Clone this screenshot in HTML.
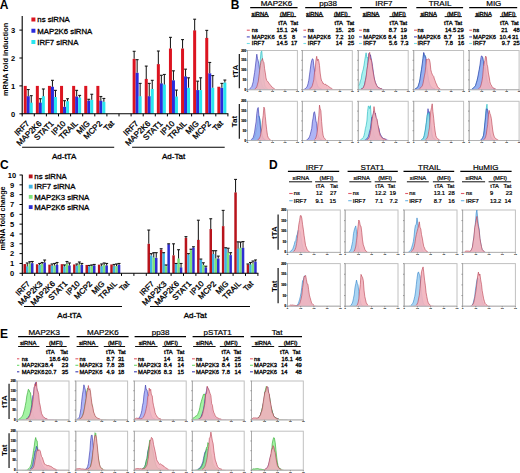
<!DOCTYPE html>
<html><head><meta charset="utf-8"><style>
html,body{margin:0;padding:0;background:#fff;}
body{width:520px;height:473px;overflow:hidden;}
svg{display:block;font-family:"Liberation Sans", sans-serif;}
</style></head><body>
<svg width="520" height="473" viewBox="0 0 520 473">
<rect width="520" height="473" fill="#fff"/>
<rect x="23.75" y="85.9" width="3" height="27.9" fill="#dc1420"/>
<rect x="26.75" y="96.22" width="3" height="17.58" fill="#2b2bdc"/>
<rect x="29.75" y="102.64" width="3" height="11.16" fill="#2ae6ef"/>
<rect x="35.85" y="85.9" width="3" height="27.9" fill="#dc1420"/>
<rect x="38.85" y="102.64" width="3" height="11.16" fill="#2b2bdc"/>
<rect x="41.85" y="96.22" width="3" height="17.58" fill="#2ae6ef"/>
<rect x="47.95" y="85.9" width="3" height="27.9" fill="#dc1420"/>
<rect x="50.95" y="86.74" width="3" height="27.06" fill="#2b2bdc"/>
<rect x="53.95" y="97.06" width="3" height="16.74" fill="#2ae6ef"/>
<rect x="60.05" y="85.9" width="3" height="27.9" fill="#dc1420"/>
<rect x="63.05" y="106.83" width="3" height="6.97" fill="#2b2bdc"/>
<rect x="66.05" y="101.25" width="3" height="12.55" fill="#2ae6ef"/>
<rect x="72.15" y="85.9" width="3" height="27.9" fill="#dc1420"/>
<rect x="75.15" y="96.5" width="3" height="17.3" fill="#2b2bdc"/>
<rect x="78.15" y="97.62" width="3" height="16.18" fill="#2ae6ef"/>
<rect x="84.25" y="85.9" width="3" height="27.9" fill="#dc1420"/>
<rect x="87.25" y="100.69" width="3" height="13.11" fill="#2b2bdc"/>
<rect x="90.25" y="99.85" width="3" height="13.95" fill="#2ae6ef"/>
<rect x="96.35" y="85.9" width="3" height="27.9" fill="#dc1420"/>
<rect x="99.35" y="100.69" width="3" height="13.11" fill="#2b2bdc"/>
<rect x="102.35" y="101.8" width="3" height="12" fill="#2ae6ef"/>
<rect x="132.65" y="58.84" width="3" height="54.96" fill="#dc1420"/>
<rect x="135.65" y="72.79" width="3" height="41.01" fill="#2b2bdc"/>
<rect x="138.65" y="96.22" width="3" height="17.58" fill="#2ae6ef"/>
<rect x="144.75" y="78.92" width="3" height="34.88" fill="#dc1420"/>
<rect x="147.75" y="96.22" width="3" height="17.58" fill="#2b2bdc"/>
<rect x="150.75" y="88.97" width="3" height="24.83" fill="#2ae6ef"/>
<rect x="156.85" y="64.14" width="3" height="49.66" fill="#dc1420"/>
<rect x="159.85" y="83.39" width="3" height="30.41" fill="#2b2bdc"/>
<rect x="162.85" y="84.5" width="3" height="29.29" fill="#2ae6ef"/>
<rect x="168.95" y="48.51" width="3" height="65.29" fill="#dc1420"/>
<rect x="171.95" y="80.32" width="3" height="33.48" fill="#2b2bdc"/>
<rect x="174.95" y="96.5" width="3" height="17.3" fill="#2ae6ef"/>
<rect x="181.05" y="48.51" width="3" height="65.29" fill="#dc1420"/>
<rect x="184.05" y="76.41" width="3" height="37.39" fill="#2b2bdc"/>
<rect x="187.05" y="87.85" width="3" height="25.95" fill="#2ae6ef"/>
<rect x="193.15" y="30.38" width="3" height="83.42" fill="#dc1420"/>
<rect x="196.15" y="90.08" width="3" height="23.71" fill="#2b2bdc"/>
<rect x="199.15" y="90.08" width="3" height="23.71" fill="#2ae6ef"/>
<rect x="205.25" y="37.91" width="3" height="75.89" fill="#dc1420"/>
<rect x="208.25" y="73.34" width="3" height="40.45" fill="#2b2bdc"/>
<rect x="211.25" y="87.85" width="3" height="25.95" fill="#2ae6ef"/>
<rect x="217.35" y="86.74" width="3" height="27.06" fill="#dc1420"/>
<rect x="220.35" y="87.85" width="3" height="25.95" fill="#2b2bdc"/>
<rect x="223.35" y="82.55" width="3" height="31.25" fill="#2ae6ef"/>
<line x1="28.25" y1="96.22" x2="28.25" y2="89.53" stroke="#1a1a1a" stroke-width="1.05"/>
<line x1="26.8" y1="89.53" x2="29.7" y2="89.53" stroke="#1a1a1a" stroke-width="1.1"/>
<line x1="31.25" y1="102.64" x2="31.25" y2="95.66" stroke="#1a1a1a" stroke-width="1.05"/>
<line x1="29.8" y1="95.66" x2="32.7" y2="95.66" stroke="#1a1a1a" stroke-width="1.1"/>
<line x1="40.35" y1="102.64" x2="40.35" y2="98.73" stroke="#1a1a1a" stroke-width="1.05"/>
<line x1="38.9" y1="98.73" x2="41.8" y2="98.73" stroke="#1a1a1a" stroke-width="1.1"/>
<line x1="43.35" y1="96.22" x2="43.35" y2="88.97" stroke="#1a1a1a" stroke-width="1.05"/>
<line x1="41.9" y1="88.97" x2="44.8" y2="88.97" stroke="#1a1a1a" stroke-width="1.1"/>
<line x1="52.45" y1="86.74" x2="52.45" y2="80.32" stroke="#1a1a1a" stroke-width="1.05"/>
<line x1="51" y1="80.32" x2="53.9" y2="80.32" stroke="#1a1a1a" stroke-width="1.1"/>
<line x1="55.45" y1="97.06" x2="55.45" y2="90.36" stroke="#1a1a1a" stroke-width="1.05"/>
<line x1="54" y1="90.36" x2="56.9" y2="90.36" stroke="#1a1a1a" stroke-width="1.1"/>
<line x1="64.55" y1="106.83" x2="64.55" y2="100.69" stroke="#1a1a1a" stroke-width="1.05"/>
<line x1="63.1" y1="100.69" x2="66" y2="100.69" stroke="#1a1a1a" stroke-width="1.1"/>
<line x1="67.55" y1="101.25" x2="67.55" y2="98.73" stroke="#1a1a1a" stroke-width="1.05"/>
<line x1="66.1" y1="98.73" x2="69" y2="98.73" stroke="#1a1a1a" stroke-width="1.1"/>
<line x1="76.65" y1="96.5" x2="76.65" y2="90.36" stroke="#1a1a1a" stroke-width="1.05"/>
<line x1="75.2" y1="90.36" x2="78.1" y2="90.36" stroke="#1a1a1a" stroke-width="1.1"/>
<line x1="79.65" y1="97.62" x2="79.65" y2="95.39" stroke="#1a1a1a" stroke-width="1.05"/>
<line x1="78.2" y1="95.39" x2="81.1" y2="95.39" stroke="#1a1a1a" stroke-width="1.1"/>
<line x1="88.75" y1="100.69" x2="88.75" y2="99.29" stroke="#1a1a1a" stroke-width="1.05"/>
<line x1="87.3" y1="99.29" x2="90.2" y2="99.29" stroke="#1a1a1a" stroke-width="1.1"/>
<line x1="91.75" y1="99.85" x2="91.75" y2="94.27" stroke="#1a1a1a" stroke-width="1.05"/>
<line x1="90.3" y1="94.27" x2="93.2" y2="94.27" stroke="#1a1a1a" stroke-width="1.1"/>
<line x1="100.85" y1="100.69" x2="100.85" y2="96.5" stroke="#1a1a1a" stroke-width="1.05"/>
<line x1="99.4" y1="96.5" x2="102.3" y2="96.5" stroke="#1a1a1a" stroke-width="1.1"/>
<line x1="103.85" y1="101.8" x2="103.85" y2="98.45" stroke="#1a1a1a" stroke-width="1.05"/>
<line x1="102.4" y1="98.45" x2="105.3" y2="98.45" stroke="#1a1a1a" stroke-width="1.1"/>
<line x1="134.15" y1="58.84" x2="134.15" y2="51.3" stroke="#1a1a1a" stroke-width="1.05"/>
<line x1="132.7" y1="51.3" x2="135.6" y2="51.3" stroke="#1a1a1a" stroke-width="1.1"/>
<line x1="137.15" y1="72.79" x2="137.15" y2="59.67" stroke="#1a1a1a" stroke-width="1.05"/>
<line x1="135.7" y1="59.67" x2="138.6" y2="59.67" stroke="#1a1a1a" stroke-width="1.1"/>
<line x1="140.15" y1="96.22" x2="140.15" y2="83.39" stroke="#1a1a1a" stroke-width="1.05"/>
<line x1="138.7" y1="83.39" x2="141.6" y2="83.39" stroke="#1a1a1a" stroke-width="1.1"/>
<line x1="146.25" y1="78.92" x2="146.25" y2="66.09" stroke="#1a1a1a" stroke-width="1.05"/>
<line x1="144.8" y1="66.09" x2="147.7" y2="66.09" stroke="#1a1a1a" stroke-width="1.1"/>
<line x1="149.25" y1="96.22" x2="149.25" y2="83.39" stroke="#1a1a1a" stroke-width="1.05"/>
<line x1="147.8" y1="83.39" x2="150.7" y2="83.39" stroke="#1a1a1a" stroke-width="1.1"/>
<line x1="152.25" y1="88.97" x2="152.25" y2="80.32" stroke="#1a1a1a" stroke-width="1.05"/>
<line x1="150.8" y1="80.32" x2="153.7" y2="80.32" stroke="#1a1a1a" stroke-width="1.1"/>
<line x1="158.35" y1="64.14" x2="158.35" y2="51.02" stroke="#1a1a1a" stroke-width="1.05"/>
<line x1="156.9" y1="51.02" x2="159.8" y2="51.02" stroke="#1a1a1a" stroke-width="1.1"/>
<line x1="161.35" y1="83.39" x2="161.35" y2="75.3" stroke="#1a1a1a" stroke-width="1.05"/>
<line x1="159.9" y1="75.3" x2="162.8" y2="75.3" stroke="#1a1a1a" stroke-width="1.1"/>
<line x1="164.35" y1="84.5" x2="164.35" y2="74.46" stroke="#1a1a1a" stroke-width="1.05"/>
<line x1="162.9" y1="74.46" x2="165.8" y2="74.46" stroke="#1a1a1a" stroke-width="1.1"/>
<line x1="170.45" y1="48.51" x2="170.45" y2="37.35" stroke="#1a1a1a" stroke-width="1.05"/>
<line x1="169" y1="37.35" x2="171.9" y2="37.35" stroke="#1a1a1a" stroke-width="1.1"/>
<line x1="173.45" y1="80.32" x2="173.45" y2="70.83" stroke="#1a1a1a" stroke-width="1.05"/>
<line x1="172" y1="70.83" x2="174.9" y2="70.83" stroke="#1a1a1a" stroke-width="1.1"/>
<line x1="176.45" y1="96.5" x2="176.45" y2="90.08" stroke="#1a1a1a" stroke-width="1.05"/>
<line x1="175" y1="90.08" x2="177.9" y2="90.08" stroke="#1a1a1a" stroke-width="1.1"/>
<line x1="182.55" y1="48.51" x2="182.55" y2="39.59" stroke="#1a1a1a" stroke-width="1.05"/>
<line x1="181.1" y1="39.59" x2="184" y2="39.59" stroke="#1a1a1a" stroke-width="1.1"/>
<line x1="185.55" y1="76.41" x2="185.55" y2="69.16" stroke="#1a1a1a" stroke-width="1.05"/>
<line x1="184.1" y1="69.16" x2="187" y2="69.16" stroke="#1a1a1a" stroke-width="1.1"/>
<line x1="188.55" y1="87.85" x2="188.55" y2="77.81" stroke="#1a1a1a" stroke-width="1.05"/>
<line x1="187.1" y1="77.81" x2="190" y2="77.81" stroke="#1a1a1a" stroke-width="1.1"/>
<line x1="194.65" y1="30.38" x2="194.65" y2="19.22" stroke="#1a1a1a" stroke-width="1.05"/>
<line x1="193.2" y1="19.22" x2="196.1" y2="19.22" stroke="#1a1a1a" stroke-width="1.1"/>
<line x1="197.65" y1="90.08" x2="197.65" y2="81.16" stroke="#1a1a1a" stroke-width="1.05"/>
<line x1="196.2" y1="81.16" x2="199.1" y2="81.16" stroke="#1a1a1a" stroke-width="1.1"/>
<line x1="200.65" y1="90.08" x2="200.65" y2="77.81" stroke="#1a1a1a" stroke-width="1.05"/>
<line x1="199.2" y1="77.81" x2="202.1" y2="77.81" stroke="#1a1a1a" stroke-width="1.1"/>
<line x1="206.75" y1="37.91" x2="206.75" y2="30.38" stroke="#1a1a1a" stroke-width="1.05"/>
<line x1="205.3" y1="30.38" x2="208.2" y2="30.38" stroke="#1a1a1a" stroke-width="1.1"/>
<line x1="209.75" y1="73.34" x2="209.75" y2="62.46" stroke="#1a1a1a" stroke-width="1.05"/>
<line x1="208.3" y1="62.46" x2="211.2" y2="62.46" stroke="#1a1a1a" stroke-width="1.1"/>
<line x1="212.75" y1="87.85" x2="212.75" y2="75.58" stroke="#1a1a1a" stroke-width="1.05"/>
<line x1="211.3" y1="75.58" x2="214.2" y2="75.58" stroke="#1a1a1a" stroke-width="1.1"/>
<line x1="221.85" y1="87.85" x2="221.85" y2="83.39" stroke="#1a1a1a" stroke-width="1.05"/>
<line x1="220.4" y1="83.39" x2="223.3" y2="83.39" stroke="#1a1a1a" stroke-width="1.1"/>
<line x1="224.85" y1="82.55" x2="224.85" y2="80.04" stroke="#1a1a1a" stroke-width="1.05"/>
<line x1="223.4" y1="80.04" x2="226.3" y2="80.04" stroke="#1a1a1a" stroke-width="1.1"/>
<line x1="22.2" y1="16" x2="22.2" y2="114.3" stroke="#000" stroke-width="1.1"/>
<line x1="21.7" y1="113.8" x2="228.4" y2="113.8" stroke="#000" stroke-width="1.1"/>
<line x1="22.2" y1="113.8" x2="22.2" y2="116.4" stroke="#000" stroke-width="1"/>
<line x1="34.3" y1="113.8" x2="34.3" y2="116.4" stroke="#000" stroke-width="1"/>
<line x1="46.4" y1="113.8" x2="46.4" y2="116.4" stroke="#000" stroke-width="1"/>
<line x1="58.5" y1="113.8" x2="58.5" y2="116.4" stroke="#000" stroke-width="1"/>
<line x1="70.6" y1="113.8" x2="70.6" y2="116.4" stroke="#000" stroke-width="1"/>
<line x1="82.7" y1="113.8" x2="82.7" y2="116.4" stroke="#000" stroke-width="1"/>
<line x1="94.8" y1="113.8" x2="94.8" y2="116.4" stroke="#000" stroke-width="1"/>
<line x1="106.9" y1="113.8" x2="106.9" y2="116.4" stroke="#000" stroke-width="1"/>
<line x1="119" y1="113.8" x2="119" y2="116.4" stroke="#000" stroke-width="1"/>
<line x1="131.1" y1="113.8" x2="131.1" y2="116.4" stroke="#000" stroke-width="1"/>
<line x1="143.2" y1="113.8" x2="143.2" y2="116.4" stroke="#000" stroke-width="1"/>
<line x1="155.3" y1="113.8" x2="155.3" y2="116.4" stroke="#000" stroke-width="1"/>
<line x1="167.4" y1="113.8" x2="167.4" y2="116.4" stroke="#000" stroke-width="1"/>
<line x1="179.5" y1="113.8" x2="179.5" y2="116.4" stroke="#000" stroke-width="1"/>
<line x1="191.6" y1="113.8" x2="191.6" y2="116.4" stroke="#000" stroke-width="1"/>
<line x1="203.7" y1="113.8" x2="203.7" y2="116.4" stroke="#000" stroke-width="1"/>
<line x1="215.8" y1="113.8" x2="215.8" y2="116.4" stroke="#000" stroke-width="1"/>
<line x1="227.9" y1="113.8" x2="227.9" y2="116.4" stroke="#000" stroke-width="1"/>
<line x1="19.4" y1="113.8" x2="22.2" y2="113.8" stroke="#000" stroke-width="1"/>
<text x="13.2" y="116.5" font-size="7.5" text-anchor="middle" font-weight="bold">0</text>
<line x1="19.4" y1="85.9" x2="22.2" y2="85.9" stroke="#000" stroke-width="1"/>
<text x="13.2" y="88.6" font-size="7.5" text-anchor="middle" font-weight="bold">1</text>
<line x1="19.4" y1="58" x2="22.2" y2="58" stroke="#000" stroke-width="1"/>
<text x="13.2" y="60.7" font-size="7.5" text-anchor="middle" font-weight="bold">2</text>
<line x1="19.4" y1="30.1" x2="22.2" y2="30.1" stroke="#000" stroke-width="1"/>
<text x="13.2" y="32.8" font-size="7.5" text-anchor="middle" font-weight="bold">3</text>
<text x="29.95" y="124" font-size="8" text-anchor="end" stroke="#000" stroke-width="0.3" transform="rotate(-45 29.95 124)">IRF7</text>
<text x="138.85" y="124" font-size="8" text-anchor="end" stroke="#000" stroke-width="0.3" transform="rotate(-45 138.85 124)">IRF7</text>
<text x="42.05" y="124" font-size="8" text-anchor="end" stroke="#000" stroke-width="0.3" transform="rotate(-45 42.05 124)">MAP2K6</text>
<text x="150.95" y="124" font-size="8" text-anchor="end" stroke="#000" stroke-width="0.3" transform="rotate(-45 150.95 124)">MAP2K6</text>
<text x="54.15" y="124" font-size="8" text-anchor="end" stroke="#000" stroke-width="0.3" transform="rotate(-45 54.15 124)">STAT1</text>
<text x="163.05" y="124" font-size="8" text-anchor="end" stroke="#000" stroke-width="0.3" transform="rotate(-45 163.05 124)">STAT1</text>
<text x="66.25" y="124" font-size="8" text-anchor="end" stroke="#000" stroke-width="0.3" transform="rotate(-45 66.25 124)">IP10</text>
<text x="175.15" y="124" font-size="8" text-anchor="end" stroke="#000" stroke-width="0.3" transform="rotate(-45 175.15 124)">IP10</text>
<text x="78.35" y="124" font-size="8" text-anchor="end" stroke="#000" stroke-width="0.3" transform="rotate(-45 78.35 124)">TRAIL</text>
<text x="187.25" y="124" font-size="8" text-anchor="end" stroke="#000" stroke-width="0.3" transform="rotate(-45 187.25 124)">TRAIL</text>
<text x="90.45" y="124" font-size="8" text-anchor="end" stroke="#000" stroke-width="0.3" transform="rotate(-45 90.45 124)">MIG</text>
<text x="199.35" y="124" font-size="8" text-anchor="end" stroke="#000" stroke-width="0.3" transform="rotate(-45 199.35 124)">MIG</text>
<text x="102.55" y="124" font-size="8" text-anchor="end" stroke="#000" stroke-width="0.3" transform="rotate(-45 102.55 124)">MCP2</text>
<text x="211.45" y="124" font-size="8" text-anchor="end" stroke="#000" stroke-width="0.3" transform="rotate(-45 211.45 124)">MCP2</text>
<text x="114.65" y="124" font-size="8" text-anchor="end" stroke="#000" stroke-width="0.3" transform="rotate(-45 114.65 124)">Tat</text>
<text x="223.55" y="124" font-size="8" text-anchor="end" stroke="#000" stroke-width="0.3" transform="rotate(-45 223.55 124)">Tat</text>
<line x1="22.1" y1="147.2" x2="114.2" y2="147.2" stroke="#000" stroke-width="1.1"/>
<line x1="132.1" y1="147.2" x2="224.7" y2="147.2" stroke="#000" stroke-width="1.1"/>
<text x="64.1" y="158.6" font-size="8" text-anchor="middle" stroke="#000" stroke-width="0.3">Ad-tTA</text>
<text x="173.6" y="158.6" font-size="8" text-anchor="middle" stroke="#000" stroke-width="0.3">Ad-Tat</text>
<text x="7.7" y="59.4" font-size="7.4" text-anchor="middle" font-weight="bold" transform="rotate(-90 7.7 59.4)">mRNA fold induction</text>
<rect x="31.4" y="17.5" width="4" height="4" fill="#dc1420"/>
<text x="37.3" y="22.3" font-size="7.8" stroke="#000" stroke-width="0.3">ns siRNA</text>
<rect x="31.4" y="28.75" width="4" height="4" fill="#2b2bdc"/>
<text x="37.3" y="33.55" font-size="7.8" stroke="#000" stroke-width="0.3">MAP2K6 siRNA</text>
<rect x="31.4" y="40" width="4" height="4" fill="#2ae6ef"/>
<text x="37.3" y="44.8" font-size="7.8" stroke="#000" stroke-width="0.3">IRF7 siRNA</text>
<text x="-0.2" y="8.9" font-size="12" font-weight="bold">A</text>
<rect x="23.5" y="264.06" width="2.5" height="9.24" fill="#b8141c"/>
<rect x="26" y="266.42" width="2.5" height="6.88" fill="#3fb4e4"/>
<rect x="28.5" y="263.67" width="2.5" height="9.63" fill="#7ee27a"/>
<rect x="31" y="263.18" width="2.5" height="10.12" fill="#2e2ed2"/>
<rect x="35.9" y="264.26" width="2.5" height="9.04" fill="#b8141c"/>
<rect x="38.4" y="264.94" width="2.5" height="8.36" fill="#3fb4e4"/>
<rect x="40.9" y="263.96" width="2.5" height="9.34" fill="#7ee27a"/>
<rect x="43.4" y="262.49" width="2.5" height="10.81" fill="#2e2ed2"/>
<rect x="48.3" y="264.65" width="2.5" height="8.65" fill="#b8141c"/>
<rect x="50.8" y="265.93" width="2.5" height="7.37" fill="#3fb4e4"/>
<rect x="53.3" y="265.44" width="2.5" height="7.86" fill="#7ee27a"/>
<rect x="55.8" y="264.94" width="2.5" height="8.36" fill="#2e2ed2"/>
<rect x="60.7" y="264.16" width="2.5" height="9.14" fill="#b8141c"/>
<rect x="63.2" y="266.42" width="2.5" height="6.88" fill="#3fb4e4"/>
<rect x="65.7" y="263.96" width="2.5" height="9.34" fill="#7ee27a"/>
<rect x="68.2" y="265.44" width="2.5" height="7.86" fill="#2e2ed2"/>
<rect x="73.1" y="264.45" width="2.5" height="8.85" fill="#b8141c"/>
<rect x="75.6" y="265.93" width="2.5" height="7.37" fill="#3fb4e4"/>
<rect x="78.1" y="264.45" width="2.5" height="8.85" fill="#7ee27a"/>
<rect x="80.6" y="264.94" width="2.5" height="8.36" fill="#2e2ed2"/>
<rect x="85.5" y="264.94" width="2.5" height="8.36" fill="#b8141c"/>
<rect x="88" y="266.42" width="2.5" height="6.88" fill="#3fb4e4"/>
<rect x="90.5" y="265.93" width="2.5" height="7.37" fill="#7ee27a"/>
<rect x="93" y="265.44" width="2.5" height="7.86" fill="#2e2ed2"/>
<rect x="97.9" y="264.65" width="2.5" height="8.65" fill="#b8141c"/>
<rect x="100.4" y="266.22" width="2.5" height="7.08" fill="#3fb4e4"/>
<rect x="102.9" y="264.94" width="2.5" height="8.36" fill="#7ee27a"/>
<rect x="105.4" y="265.44" width="2.5" height="7.86" fill="#2e2ed2"/>
<rect x="110.3" y="264.45" width="2.5" height="8.85" fill="#b8141c"/>
<rect x="112.8" y="266.42" width="2.5" height="6.88" fill="#3fb4e4"/>
<rect x="115.3" y="265.93" width="2.5" height="7.37" fill="#7ee27a"/>
<rect x="117.8" y="264.94" width="2.5" height="8.36" fill="#2e2ed2"/>
<rect x="147.5" y="243.81" width="2.5" height="29.49" fill="#b8141c"/>
<rect x="150" y="255.61" width="2.5" height="17.69" fill="#3fb4e4"/>
<rect x="152.5" y="257.57" width="2.5" height="15.73" fill="#7ee27a"/>
<rect x="155" y="257.87" width="2.5" height="15.43" fill="#2e2ed2"/>
<rect x="159.9" y="249.71" width="2.5" height="23.59" fill="#b8141c"/>
<rect x="162.4" y="253.15" width="2.5" height="20.15" fill="#3fb4e4"/>
<rect x="164.9" y="266.12" width="2.5" height="7.18" fill="#7ee27a"/>
<rect x="167.4" y="244.2" width="2.5" height="29.1" fill="#2e2ed2"/>
<rect x="172.3" y="255.31" width="2.5" height="17.99" fill="#b8141c"/>
<rect x="174.8" y="263.67" width="2.5" height="9.63" fill="#3fb4e4"/>
<rect x="177.3" y="258.56" width="2.5" height="14.75" fill="#7ee27a"/>
<rect x="179.8" y="267.4" width="2.5" height="5.9" fill="#2e2ed2"/>
<rect x="184.7" y="237.91" width="2.5" height="35.39" fill="#b8141c"/>
<rect x="187.2" y="254.62" width="2.5" height="18.68" fill="#3fb4e4"/>
<rect x="189.7" y="250.1" width="2.5" height="23.2" fill="#7ee27a"/>
<rect x="192.2" y="247.55" width="2.5" height="25.75" fill="#2e2ed2"/>
<rect x="197.1" y="239.88" width="2.5" height="33.42" fill="#b8141c"/>
<rect x="199.6" y="259.54" width="2.5" height="13.76" fill="#3fb4e4"/>
<rect x="202.1" y="264.94" width="2.5" height="8.36" fill="#7ee27a"/>
<rect x="204.6" y="267.4" width="2.5" height="5.9" fill="#2e2ed2"/>
<rect x="209.5" y="229.06" width="2.5" height="44.23" fill="#b8141c"/>
<rect x="212" y="253.93" width="2.5" height="19.37" fill="#3fb4e4"/>
<rect x="214.5" y="258.56" width="2.5" height="14.75" fill="#7ee27a"/>
<rect x="217" y="258.56" width="2.5" height="14.75" fill="#2e2ed2"/>
<rect x="221.9" y="226.12" width="2.5" height="47.18" fill="#b8141c"/>
<rect x="224.4" y="248.23" width="2.5" height="25.07" fill="#3fb4e4"/>
<rect x="226.9" y="252.66" width="2.5" height="20.64" fill="#7ee27a"/>
<rect x="229.4" y="255.11" width="2.5" height="18.19" fill="#2e2ed2"/>
<rect x="234.3" y="192.4" width="2.5" height="80.9" fill="#b8141c"/>
<rect x="236.8" y="248.73" width="2.5" height="24.57" fill="#3fb4e4"/>
<rect x="239.3" y="247.74" width="2.5" height="25.56" fill="#7ee27a"/>
<rect x="241.8" y="247.74" width="2.5" height="25.56" fill="#2e2ed2"/>
<rect x="246.7" y="264.45" width="2.5" height="8.85" fill="#b8141c"/>
<rect x="249.2" y="264.45" width="2.5" height="8.85" fill="#3fb4e4"/>
<rect x="251.7" y="263.47" width="2.5" height="9.83" fill="#7ee27a"/>
<rect x="254.2" y="261.5" width="2.5" height="11.8" fill="#2e2ed2"/>
<line x1="27.25" y1="266.42" x2="27.25" y2="262.98" stroke="#1a1a1a" stroke-width="1.05"/>
<line x1="25.8" y1="262.98" x2="28.7" y2="262.98" stroke="#1a1a1a" stroke-width="1.1"/>
<line x1="29.75" y1="263.67" x2="29.75" y2="261.7" stroke="#1a1a1a" stroke-width="1.05"/>
<line x1="28.3" y1="261.7" x2="31.2" y2="261.7" stroke="#1a1a1a" stroke-width="1.1"/>
<line x1="32.25" y1="263.18" x2="32.25" y2="261.5" stroke="#1a1a1a" stroke-width="1.05"/>
<line x1="30.8" y1="261.5" x2="33.7" y2="261.5" stroke="#1a1a1a" stroke-width="1.1"/>
<line x1="39.65" y1="264.94" x2="39.65" y2="263.47" stroke="#1a1a1a" stroke-width="1.05"/>
<line x1="38.2" y1="263.47" x2="41.1" y2="263.47" stroke="#1a1a1a" stroke-width="1.1"/>
<line x1="42.15" y1="263.96" x2="42.15" y2="262.49" stroke="#1a1a1a" stroke-width="1.05"/>
<line x1="40.7" y1="262.49" x2="43.6" y2="262.49" stroke="#1a1a1a" stroke-width="1.1"/>
<line x1="44.65" y1="262.49" x2="44.65" y2="260.03" stroke="#1a1a1a" stroke-width="1.05"/>
<line x1="43.2" y1="260.03" x2="46.1" y2="260.03" stroke="#1a1a1a" stroke-width="1.1"/>
<line x1="52.05" y1="265.93" x2="52.05" y2="263.96" stroke="#1a1a1a" stroke-width="1.05"/>
<line x1="50.6" y1="263.96" x2="53.5" y2="263.96" stroke="#1a1a1a" stroke-width="1.1"/>
<line x1="54.55" y1="265.44" x2="54.55" y2="263.47" stroke="#1a1a1a" stroke-width="1.05"/>
<line x1="53.1" y1="263.47" x2="56" y2="263.47" stroke="#1a1a1a" stroke-width="1.1"/>
<line x1="57.05" y1="264.94" x2="57.05" y2="262.49" stroke="#1a1a1a" stroke-width="1.05"/>
<line x1="55.6" y1="262.49" x2="58.5" y2="262.49" stroke="#1a1a1a" stroke-width="1.1"/>
<line x1="64.45" y1="266.42" x2="64.45" y2="264.94" stroke="#1a1a1a" stroke-width="1.05"/>
<line x1="63" y1="264.94" x2="65.9" y2="264.94" stroke="#1a1a1a" stroke-width="1.1"/>
<line x1="66.95" y1="263.96" x2="66.95" y2="261.5" stroke="#1a1a1a" stroke-width="1.05"/>
<line x1="65.5" y1="261.5" x2="68.4" y2="261.5" stroke="#1a1a1a" stroke-width="1.1"/>
<line x1="69.45" y1="265.44" x2="69.45" y2="262.98" stroke="#1a1a1a" stroke-width="1.05"/>
<line x1="68" y1="262.98" x2="70.9" y2="262.98" stroke="#1a1a1a" stroke-width="1.1"/>
<line x1="76.85" y1="265.93" x2="76.85" y2="263.96" stroke="#1a1a1a" stroke-width="1.05"/>
<line x1="75.4" y1="263.96" x2="78.3" y2="263.96" stroke="#1a1a1a" stroke-width="1.1"/>
<line x1="79.35" y1="264.45" x2="79.35" y2="262" stroke="#1a1a1a" stroke-width="1.05"/>
<line x1="77.9" y1="262" x2="80.8" y2="262" stroke="#1a1a1a" stroke-width="1.1"/>
<line x1="81.85" y1="264.94" x2="81.85" y2="263.47" stroke="#1a1a1a" stroke-width="1.05"/>
<line x1="80.4" y1="263.47" x2="83.3" y2="263.47" stroke="#1a1a1a" stroke-width="1.1"/>
<line x1="89.25" y1="266.42" x2="89.25" y2="265.44" stroke="#1a1a1a" stroke-width="1.05"/>
<line x1="87.8" y1="265.44" x2="90.7" y2="265.44" stroke="#1a1a1a" stroke-width="1.1"/>
<line x1="91.75" y1="265.93" x2="91.75" y2="264.94" stroke="#1a1a1a" stroke-width="1.05"/>
<line x1="90.3" y1="264.94" x2="93.2" y2="264.94" stroke="#1a1a1a" stroke-width="1.1"/>
<line x1="94.25" y1="265.44" x2="94.25" y2="264.45" stroke="#1a1a1a" stroke-width="1.05"/>
<line x1="92.8" y1="264.45" x2="95.7" y2="264.45" stroke="#1a1a1a" stroke-width="1.1"/>
<line x1="101.65" y1="266.22" x2="101.65" y2="263.96" stroke="#1a1a1a" stroke-width="1.05"/>
<line x1="100.2" y1="263.96" x2="103.1" y2="263.96" stroke="#1a1a1a" stroke-width="1.1"/>
<line x1="104.15" y1="264.94" x2="104.15" y2="262.98" stroke="#1a1a1a" stroke-width="1.05"/>
<line x1="102.7" y1="262.98" x2="105.6" y2="262.98" stroke="#1a1a1a" stroke-width="1.1"/>
<line x1="106.65" y1="265.44" x2="106.65" y2="263.47" stroke="#1a1a1a" stroke-width="1.05"/>
<line x1="105.2" y1="263.47" x2="108.1" y2="263.47" stroke="#1a1a1a" stroke-width="1.1"/>
<line x1="114.05" y1="266.42" x2="114.05" y2="264.45" stroke="#1a1a1a" stroke-width="1.05"/>
<line x1="112.6" y1="264.45" x2="115.5" y2="264.45" stroke="#1a1a1a" stroke-width="1.1"/>
<line x1="116.55" y1="265.93" x2="116.55" y2="263.96" stroke="#1a1a1a" stroke-width="1.05"/>
<line x1="115.1" y1="263.96" x2="118" y2="263.96" stroke="#1a1a1a" stroke-width="1.1"/>
<line x1="119.05" y1="264.94" x2="119.05" y2="263.47" stroke="#1a1a1a" stroke-width="1.05"/>
<line x1="117.6" y1="263.47" x2="120.5" y2="263.47" stroke="#1a1a1a" stroke-width="1.1"/>
<line x1="148.75" y1="243.81" x2="148.75" y2="230.05" stroke="#1a1a1a" stroke-width="1.05"/>
<line x1="147.3" y1="230.05" x2="150.2" y2="230.05" stroke="#1a1a1a" stroke-width="1.1"/>
<line x1="151.25" y1="255.61" x2="151.25" y2="253.64" stroke="#1a1a1a" stroke-width="1.05"/>
<line x1="149.8" y1="253.64" x2="152.7" y2="253.64" stroke="#1a1a1a" stroke-width="1.1"/>
<line x1="153.75" y1="257.57" x2="153.75" y2="252.66" stroke="#1a1a1a" stroke-width="1.05"/>
<line x1="152.3" y1="252.66" x2="155.2" y2="252.66" stroke="#1a1a1a" stroke-width="1.1"/>
<line x1="156.25" y1="257.87" x2="156.25" y2="252.66" stroke="#1a1a1a" stroke-width="1.05"/>
<line x1="154.8" y1="252.66" x2="157.7" y2="252.66" stroke="#1a1a1a" stroke-width="1.1"/>
<line x1="161.15" y1="249.71" x2="161.15" y2="248.73" stroke="#1a1a1a" stroke-width="1.05"/>
<line x1="159.7" y1="248.73" x2="162.6" y2="248.73" stroke="#1a1a1a" stroke-width="1.1"/>
<line x1="163.65" y1="253.15" x2="163.65" y2="252.66" stroke="#1a1a1a" stroke-width="1.05"/>
<line x1="162.2" y1="252.66" x2="165.1" y2="252.66" stroke="#1a1a1a" stroke-width="1.1"/>
<line x1="166.15" y1="266.12" x2="166.15" y2="264.94" stroke="#1a1a1a" stroke-width="1.05"/>
<line x1="164.7" y1="264.94" x2="167.6" y2="264.94" stroke="#1a1a1a" stroke-width="1.1"/>
<line x1="168.65" y1="244.2" x2="168.65" y2="243.81" stroke="#1a1a1a" stroke-width="1.05"/>
<line x1="167.2" y1="243.81" x2="170.1" y2="243.81" stroke="#1a1a1a" stroke-width="1.1"/>
<line x1="173.55" y1="255.31" x2="173.55" y2="243.81" stroke="#1a1a1a" stroke-width="1.05"/>
<line x1="172.1" y1="243.81" x2="175" y2="243.81" stroke="#1a1a1a" stroke-width="1.1"/>
<line x1="176.05" y1="263.67" x2="176.05" y2="263.47" stroke="#1a1a1a" stroke-width="1.05"/>
<line x1="174.6" y1="263.47" x2="177.5" y2="263.47" stroke="#1a1a1a" stroke-width="1.1"/>
<line x1="178.55" y1="258.56" x2="178.55" y2="249.71" stroke="#1a1a1a" stroke-width="1.05"/>
<line x1="177.1" y1="249.71" x2="180" y2="249.71" stroke="#1a1a1a" stroke-width="1.1"/>
<line x1="181.05" y1="267.4" x2="181.05" y2="263.47" stroke="#1a1a1a" stroke-width="1.05"/>
<line x1="179.6" y1="263.47" x2="182.5" y2="263.47" stroke="#1a1a1a" stroke-width="1.1"/>
<line x1="185.95" y1="237.91" x2="185.95" y2="236.63" stroke="#1a1a1a" stroke-width="1.05"/>
<line x1="184.5" y1="236.63" x2="187.4" y2="236.63" stroke="#1a1a1a" stroke-width="1.1"/>
<line x1="188.45" y1="254.62" x2="188.45" y2="253.64" stroke="#1a1a1a" stroke-width="1.05"/>
<line x1="187" y1="253.64" x2="189.9" y2="253.64" stroke="#1a1a1a" stroke-width="1.1"/>
<line x1="190.95" y1="250.1" x2="190.95" y2="249.22" stroke="#1a1a1a" stroke-width="1.05"/>
<line x1="189.5" y1="249.22" x2="192.4" y2="249.22" stroke="#1a1a1a" stroke-width="1.1"/>
<line x1="193.45" y1="247.55" x2="193.45" y2="246.76" stroke="#1a1a1a" stroke-width="1.05"/>
<line x1="192" y1="246.76" x2="194.9" y2="246.76" stroke="#1a1a1a" stroke-width="1.1"/>
<line x1="198.35" y1="239.88" x2="198.35" y2="220.22" stroke="#1a1a1a" stroke-width="1.05"/>
<line x1="196.9" y1="220.22" x2="199.8" y2="220.22" stroke="#1a1a1a" stroke-width="1.1"/>
<line x1="200.85" y1="259.54" x2="200.85" y2="259.05" stroke="#1a1a1a" stroke-width="1.05"/>
<line x1="199.4" y1="259.05" x2="202.3" y2="259.05" stroke="#1a1a1a" stroke-width="1.1"/>
<line x1="203.35" y1="264.94" x2="203.35" y2="262.78" stroke="#1a1a1a" stroke-width="1.05"/>
<line x1="201.9" y1="262.78" x2="204.8" y2="262.78" stroke="#1a1a1a" stroke-width="1.1"/>
<line x1="205.85" y1="267.4" x2="205.85" y2="266.22" stroke="#1a1a1a" stroke-width="1.05"/>
<line x1="204.4" y1="266.22" x2="207.3" y2="266.22" stroke="#1a1a1a" stroke-width="1.1"/>
<line x1="210.75" y1="229.06" x2="210.75" y2="218.74" stroke="#1a1a1a" stroke-width="1.05"/>
<line x1="209.3" y1="218.74" x2="212.2" y2="218.74" stroke="#1a1a1a" stroke-width="1.1"/>
<line x1="213.25" y1="253.93" x2="213.25" y2="250.69" stroke="#1a1a1a" stroke-width="1.05"/>
<line x1="211.8" y1="250.69" x2="214.7" y2="250.69" stroke="#1a1a1a" stroke-width="1.1"/>
<line x1="215.75" y1="258.56" x2="215.75" y2="250.69" stroke="#1a1a1a" stroke-width="1.05"/>
<line x1="214.3" y1="250.69" x2="217.2" y2="250.69" stroke="#1a1a1a" stroke-width="1.1"/>
<line x1="218.25" y1="258.56" x2="218.25" y2="256.1" stroke="#1a1a1a" stroke-width="1.05"/>
<line x1="216.8" y1="256.1" x2="219.7" y2="256.1" stroke="#1a1a1a" stroke-width="1.1"/>
<line x1="223.15" y1="226.12" x2="223.15" y2="210.39" stroke="#1a1a1a" stroke-width="1.05"/>
<line x1="221.7" y1="210.39" x2="224.6" y2="210.39" stroke="#1a1a1a" stroke-width="1.1"/>
<line x1="225.65" y1="248.23" x2="225.65" y2="247.74" stroke="#1a1a1a" stroke-width="1.05"/>
<line x1="224.2" y1="247.74" x2="227.1" y2="247.74" stroke="#1a1a1a" stroke-width="1.1"/>
<line x1="228.15" y1="252.66" x2="228.15" y2="248.23" stroke="#1a1a1a" stroke-width="1.05"/>
<line x1="226.7" y1="248.23" x2="229.6" y2="248.23" stroke="#1a1a1a" stroke-width="1.1"/>
<line x1="230.65" y1="255.11" x2="230.65" y2="252.66" stroke="#1a1a1a" stroke-width="1.05"/>
<line x1="229.2" y1="252.66" x2="232.1" y2="252.66" stroke="#1a1a1a" stroke-width="1.1"/>
<line x1="235.55" y1="192.4" x2="235.55" y2="179.42" stroke="#1a1a1a" stroke-width="1.05"/>
<line x1="234.1" y1="179.42" x2="237" y2="179.42" stroke="#1a1a1a" stroke-width="1.1"/>
<line x1="238.05" y1="248.73" x2="238.05" y2="241.84" stroke="#1a1a1a" stroke-width="1.05"/>
<line x1="236.6" y1="241.84" x2="239.5" y2="241.84" stroke="#1a1a1a" stroke-width="1.1"/>
<line x1="240.55" y1="247.74" x2="240.55" y2="242.04" stroke="#1a1a1a" stroke-width="1.05"/>
<line x1="239.1" y1="242.04" x2="242" y2="242.04" stroke="#1a1a1a" stroke-width="1.1"/>
<line x1="243.05" y1="247.74" x2="243.05" y2="241.55" stroke="#1a1a1a" stroke-width="1.05"/>
<line x1="241.6" y1="241.55" x2="244.5" y2="241.55" stroke="#1a1a1a" stroke-width="1.1"/>
<line x1="247.95" y1="264.45" x2="247.95" y2="263.96" stroke="#1a1a1a" stroke-width="1.05"/>
<line x1="246.5" y1="263.96" x2="249.4" y2="263.96" stroke="#1a1a1a" stroke-width="1.1"/>
<line x1="250.45" y1="264.45" x2="250.45" y2="262.49" stroke="#1a1a1a" stroke-width="1.05"/>
<line x1="249" y1="262.49" x2="251.9" y2="262.49" stroke="#1a1a1a" stroke-width="1.1"/>
<line x1="252.95" y1="263.47" x2="252.95" y2="261.01" stroke="#1a1a1a" stroke-width="1.05"/>
<line x1="251.5" y1="261.01" x2="254.4" y2="261.01" stroke="#1a1a1a" stroke-width="1.1"/>
<line x1="255.45" y1="261.5" x2="255.45" y2="259.93" stroke="#1a1a1a" stroke-width="1.05"/>
<line x1="254" y1="259.93" x2="256.9" y2="259.93" stroke="#1a1a1a" stroke-width="1.1"/>
<line x1="22.3" y1="174.8" x2="22.3" y2="273.8" stroke="#000" stroke-width="1.1"/>
<line x1="21.8" y1="273.3" x2="258.4" y2="273.3" stroke="#000" stroke-width="1.1"/>
<line x1="22.3" y1="273.3" x2="22.3" y2="275.9" stroke="#000" stroke-width="1"/>
<line x1="34.7" y1="273.3" x2="34.7" y2="275.9" stroke="#000" stroke-width="1"/>
<line x1="47.1" y1="273.3" x2="47.1" y2="275.9" stroke="#000" stroke-width="1"/>
<line x1="59.5" y1="273.3" x2="59.5" y2="275.9" stroke="#000" stroke-width="1"/>
<line x1="71.9" y1="273.3" x2="71.9" y2="275.9" stroke="#000" stroke-width="1"/>
<line x1="84.3" y1="273.3" x2="84.3" y2="275.9" stroke="#000" stroke-width="1"/>
<line x1="96.7" y1="273.3" x2="96.7" y2="275.9" stroke="#000" stroke-width="1"/>
<line x1="109.1" y1="273.3" x2="109.1" y2="275.9" stroke="#000" stroke-width="1"/>
<line x1="121.5" y1="273.3" x2="121.5" y2="275.9" stroke="#000" stroke-width="1"/>
<line x1="133.9" y1="273.3" x2="133.9" y2="275.9" stroke="#000" stroke-width="1"/>
<line x1="146.3" y1="273.3" x2="146.3" y2="275.9" stroke="#000" stroke-width="1"/>
<line x1="158.7" y1="273.3" x2="158.7" y2="275.9" stroke="#000" stroke-width="1"/>
<line x1="171.1" y1="273.3" x2="171.1" y2="275.9" stroke="#000" stroke-width="1"/>
<line x1="183.5" y1="273.3" x2="183.5" y2="275.9" stroke="#000" stroke-width="1"/>
<line x1="195.9" y1="273.3" x2="195.9" y2="275.9" stroke="#000" stroke-width="1"/>
<line x1="208.3" y1="273.3" x2="208.3" y2="275.9" stroke="#000" stroke-width="1"/>
<line x1="220.7" y1="273.3" x2="220.7" y2="275.9" stroke="#000" stroke-width="1"/>
<line x1="233.1" y1="273.3" x2="233.1" y2="275.9" stroke="#000" stroke-width="1"/>
<line x1="245.5" y1="273.3" x2="245.5" y2="275.9" stroke="#000" stroke-width="1"/>
<line x1="257.9" y1="273.3" x2="257.9" y2="275.9" stroke="#000" stroke-width="1"/>
<line x1="19.5" y1="273.3" x2="22.3" y2="273.3" stroke="#000" stroke-width="1"/>
<text x="12" y="276" font-size="7.5" text-anchor="middle" font-weight="bold">0</text>
<line x1="19.5" y1="263.47" x2="22.3" y2="263.47" stroke="#000" stroke-width="1"/>
<text x="12" y="266.17" font-size="7.5" text-anchor="middle" font-weight="bold">1</text>
<line x1="19.5" y1="253.64" x2="22.3" y2="253.64" stroke="#000" stroke-width="1"/>
<text x="12" y="256.34" font-size="7.5" text-anchor="middle" font-weight="bold">2</text>
<line x1="19.5" y1="243.81" x2="22.3" y2="243.81" stroke="#000" stroke-width="1"/>
<text x="12" y="246.51" font-size="7.5" text-anchor="middle" font-weight="bold">3</text>
<line x1="19.5" y1="233.98" x2="22.3" y2="233.98" stroke="#000" stroke-width="1"/>
<text x="12" y="236.68" font-size="7.5" text-anchor="middle" font-weight="bold">4</text>
<line x1="19.5" y1="224.15" x2="22.3" y2="224.15" stroke="#000" stroke-width="1"/>
<text x="12" y="226.85" font-size="7.5" text-anchor="middle" font-weight="bold">5</text>
<line x1="19.5" y1="214.32" x2="22.3" y2="214.32" stroke="#000" stroke-width="1"/>
<text x="12" y="217.02" font-size="7.5" text-anchor="middle" font-weight="bold">6</text>
<line x1="19.5" y1="204.49" x2="22.3" y2="204.49" stroke="#000" stroke-width="1"/>
<text x="12" y="207.19" font-size="7.5" text-anchor="middle" font-weight="bold">7</text>
<line x1="19.5" y1="194.66" x2="22.3" y2="194.66" stroke="#000" stroke-width="1"/>
<text x="12" y="197.36" font-size="7.5" text-anchor="middle" font-weight="bold">8</text>
<line x1="19.5" y1="184.83" x2="22.3" y2="184.83" stroke="#000" stroke-width="1"/>
<text x="12" y="187.53" font-size="7.5" text-anchor="middle" font-weight="bold">9</text>
<line x1="19.5" y1="175" x2="22.3" y2="175" stroke="#000" stroke-width="1"/>
<text x="12" y="177.7" font-size="7.5" text-anchor="middle" font-weight="bold">10</text>
<text x="30.7" y="284.3" font-size="7.8" text-anchor="end" stroke="#000" stroke-width="0.3" transform="rotate(-45 30.7 284.3)">IRF7</text>
<text x="154.7" y="284.3" font-size="7.8" text-anchor="end" stroke="#000" stroke-width="0.3" transform="rotate(-45 154.7 284.3)">IRF7</text>
<text x="43.1" y="284.3" font-size="7.8" text-anchor="end" stroke="#000" stroke-width="0.3" transform="rotate(-45 43.1 284.3)">MAP2K3</text>
<text x="167.1" y="284.3" font-size="7.8" text-anchor="end" stroke="#000" stroke-width="0.3" transform="rotate(-45 167.1 284.3)">MAP2K3</text>
<text x="55.5" y="284.3" font-size="7.8" text-anchor="end" stroke="#000" stroke-width="0.3" transform="rotate(-45 55.5 284.3)">MAP2K6</text>
<text x="179.5" y="284.3" font-size="7.8" text-anchor="end" stroke="#000" stroke-width="0.3" transform="rotate(-45 179.5 284.3)">MAP2K6</text>
<text x="67.9" y="284.3" font-size="7.8" text-anchor="end" stroke="#000" stroke-width="0.3" transform="rotate(-45 67.9 284.3)">STAT1</text>
<text x="191.9" y="284.3" font-size="7.8" text-anchor="end" stroke="#000" stroke-width="0.3" transform="rotate(-45 191.9 284.3)">STAT1</text>
<text x="80.3" y="284.3" font-size="7.8" text-anchor="end" stroke="#000" stroke-width="0.3" transform="rotate(-45 80.3 284.3)">IP10</text>
<text x="204.3" y="284.3" font-size="7.8" text-anchor="end" stroke="#000" stroke-width="0.3" transform="rotate(-45 204.3 284.3)">IP10</text>
<text x="92.7" y="284.3" font-size="7.8" text-anchor="end" stroke="#000" stroke-width="0.3" transform="rotate(-45 92.7 284.3)">MCP2</text>
<text x="216.7" y="284.3" font-size="7.8" text-anchor="end" stroke="#000" stroke-width="0.3" transform="rotate(-45 216.7 284.3)">MCP2</text>
<text x="105.1" y="284.3" font-size="7.8" text-anchor="end" stroke="#000" stroke-width="0.3" transform="rotate(-45 105.1 284.3)">MIG</text>
<text x="229.1" y="284.3" font-size="7.8" text-anchor="end" stroke="#000" stroke-width="0.3" transform="rotate(-45 229.1 284.3)">MIG</text>
<text x="117.5" y="284.3" font-size="7.8" text-anchor="end" stroke="#000" stroke-width="0.3" transform="rotate(-45 117.5 284.3)">TRAIL</text>
<text x="241.5" y="284.3" font-size="7.8" text-anchor="end" stroke="#000" stroke-width="0.3" transform="rotate(-45 241.5 284.3)">TRAIL</text>
<text x="129.9" y="284.3" font-size="7.8" text-anchor="end" stroke="#000" stroke-width="0.3" transform="rotate(-45 129.9 284.3)">Tat</text>
<text x="253.9" y="284.3" font-size="7.8" text-anchor="end" stroke="#000" stroke-width="0.3" transform="rotate(-45 253.9 284.3)">Tat</text>
<line x1="24" y1="306.5" x2="122" y2="306.5" stroke="#000" stroke-width="1.1"/>
<line x1="150" y1="306.5" x2="250" y2="306.5" stroke="#000" stroke-width="1.1"/>
<text x="69.5" y="317.6" font-size="8" text-anchor="middle" stroke="#000" stroke-width="0.3">Ad-tTA</text>
<text x="195.2" y="317.6" font-size="8" text-anchor="middle" stroke="#000" stroke-width="0.3">Ad-Tat</text>
<text x="5.1" y="218.4" font-size="7.2" text-anchor="middle" font-weight="bold" transform="rotate(-90 5.1 218.4)">mRNA fold change</text>
<rect x="28.8" y="174.5" width="3.8" height="3.8" fill="#b8141c"/>
<text x="34.3" y="179.2" font-size="7.8" stroke="#000" stroke-width="0.3">ns siRNA</text>
<rect x="28.8" y="184.73" width="3.8" height="3.8" fill="#3fb4e4"/>
<text x="34.3" y="189.43" font-size="7.8" stroke="#000" stroke-width="0.3">IRF7 siRNA</text>
<rect x="28.8" y="194.96" width="3.8" height="3.8" fill="#7ee27a"/>
<text x="34.3" y="199.66" font-size="7.8" stroke="#000" stroke-width="0.3">MAP2K3 siRNA</text>
<rect x="28.8" y="205.19" width="3.8" height="3.8" fill="#2e2ed2"/>
<text x="34.3" y="209.89" font-size="7.8" stroke="#000" stroke-width="0.3">MAP2K6 siRNA</text>
<text x="-0.1" y="169.2" font-size="12" font-weight="bold">C</text>
<text x="230.7" y="8.6" font-size="12" font-weight="bold">B</text>
<text x="276.5" y="6.4" font-size="8" text-anchor="middle" stroke="#000" stroke-width="0.2">MAP2K6</text>
<line x1="250.2" y1="7.6" x2="297.6" y2="7.6" stroke="#000" stroke-width="1.1"/>
<text x="251.6" y="15.6" font-size="5.8" stroke="#000" stroke-width="0.3">siRNA</text>
<line x1="251.3" y1="16.6" x2="269" y2="16.6" stroke="#000" stroke-width="0.95"/>
<text x="280" y="15.6" font-size="5.8" stroke="#000" stroke-width="0.3">(MFI)</text>
<line x1="279.5" y1="16.6" x2="296.2" y2="16.6" stroke="#000" stroke-width="0.95"/>
<text x="278.2" y="24.7" font-size="5.8" stroke="#000" stroke-width="0.3">tTA</text>
<text x="290.3" y="24.7" font-size="5.8" stroke="#000" stroke-width="0.3">Tat</text>
<line x1="246.8" y1="30.2" x2="249.8" y2="30.2" stroke="#e05a6a" stroke-width="1.1"/>
<text x="251.8" y="32.1" font-size="5.8" stroke="#000" stroke-width="0.3">ns</text>
<text x="276.5" y="32.1" font-size="5.8" stroke="#000" stroke-width="0.3">15.1</text>
<text x="290.9" y="32.1" font-size="5.8" stroke="#000" stroke-width="0.3">24</text>
<line x1="246.8" y1="36.9" x2="249.8" y2="36.9" stroke="#4a4ac0" stroke-width="1.1"/>
<text x="251.8" y="38.8" font-size="5.8" stroke="#000" stroke-width="0.3">MAP2K6</text>
<text x="278.7" y="38.8" font-size="5.8" stroke="#000" stroke-width="0.3">6.5</text>
<text x="291.9" y="38.8" font-size="5.8" stroke="#000" stroke-width="0.3">8</text>
<line x1="246.8" y1="43.5" x2="249.8" y2="43.5" stroke="#70dde6" stroke-width="1.1"/>
<text x="251.8" y="45.4" font-size="5.8" stroke="#000" stroke-width="0.3">IRF7</text>
<text x="276.5" y="45.4" font-size="5.8" stroke="#000" stroke-width="0.3">14.5</text>
<text x="290.9" y="45.4" font-size="5.8" stroke="#000" stroke-width="0.3">17</text>
<text x="328.1" y="6.4" font-size="8" text-anchor="middle" stroke="#000" stroke-width="0.2">pp38</text>
<line x1="305.2" y1="7.6" x2="351.9" y2="7.6" stroke="#000" stroke-width="1.1"/>
<text x="306.1" y="15.6" font-size="5.8" stroke="#000" stroke-width="0.3">siRNA</text>
<line x1="306.1" y1="16.6" x2="323.6" y2="16.6" stroke="#000" stroke-width="0.95"/>
<text x="333.9" y="15.6" font-size="5.8" stroke="#000" stroke-width="0.3">(MFI)</text>
<line x1="333.7" y1="16.6" x2="350.5" y2="16.6" stroke="#000" stroke-width="0.95"/>
<text x="334.4" y="24.7" font-size="5.8" stroke="#000" stroke-width="0.3">tTA</text>
<text x="346.5" y="24.7" font-size="5.8" stroke="#000" stroke-width="0.3">Tat</text>
<line x1="303.4" y1="30.2" x2="306.1" y2="30.2" stroke="#e05a6a" stroke-width="1.1"/>
<text x="307.8" y="32.1" font-size="5.8" stroke="#000" stroke-width="0.3">ns</text>
<text x="335.4" y="32.1" font-size="5.8" stroke="#000" stroke-width="0.3">15.</text>
<text x="348.1" y="32.1" font-size="5.8" stroke="#000" stroke-width="0.3">26</text>
<line x1="303.4" y1="36.9" x2="306.1" y2="36.9" stroke="#4a4ac0" stroke-width="1.1"/>
<text x="307.8" y="38.8" font-size="5.8" stroke="#000" stroke-width="0.3">MAP2K6</text>
<text x="335.4" y="38.8" font-size="5.8" stroke="#000" stroke-width="0.3">7.2</text>
<text x="347.7" y="38.8" font-size="5.8" stroke="#000" stroke-width="0.3">10</text>
<line x1="303.4" y1="43.5" x2="306.1" y2="43.5" stroke="#70dde6" stroke-width="1.1"/>
<text x="307.8" y="45.4" font-size="5.8" stroke="#000" stroke-width="0.3">IRF7</text>
<text x="335.8" y="45.4" font-size="5.8" stroke="#000" stroke-width="0.3">14</text>
<text x="347.7" y="45.4" font-size="5.8" stroke="#000" stroke-width="0.3">25</text>
<text x="383.9" y="6.4" font-size="8" text-anchor="middle" stroke="#000" stroke-width="0.2">IRF7</text>
<line x1="360.2" y1="7.6" x2="406.9" y2="7.6" stroke="#000" stroke-width="1.1"/>
<text x="362.8" y="15.6" font-size="5.8" stroke="#000" stroke-width="0.3">siRNA</text>
<line x1="362.5" y1="16.6" x2="379.8" y2="16.6" stroke="#000" stroke-width="0.95"/>
<text x="391.9" y="15.6" font-size="5.8" stroke="#000" stroke-width="0.3">(MFI)</text>
<line x1="389.4" y1="16.6" x2="406.3" y2="16.6" stroke="#000" stroke-width="0.95"/>
<text x="389.6" y="24.7" font-size="5.8" stroke="#000" stroke-width="0.3">tTA</text>
<text x="399.4" y="24.7" font-size="5.8" stroke="#000" stroke-width="0.3">Tat</text>
<line x1="359" y1="30.2" x2="361.9" y2="30.2" stroke="#e05a6a" stroke-width="1.1"/>
<text x="363.3" y="32.1" font-size="5.8" stroke="#000" stroke-width="0.3">ns</text>
<text x="388.7" y="32.1" font-size="5.8" stroke="#000" stroke-width="0.3">8.7</text>
<text x="400.5" y="32.1" font-size="5.8" stroke="#000" stroke-width="0.3">19</text>
<line x1="359" y1="36.9" x2="361.9" y2="36.9" stroke="#4a4ac0" stroke-width="1.1"/>
<text x="363.3" y="38.8" font-size="5.8" stroke="#000" stroke-width="0.3">MAP2K6</text>
<text x="388.2" y="38.8" font-size="5.8" stroke="#000" stroke-width="0.3">8.4</text>
<text x="400.5" y="38.8" font-size="5.8" stroke="#000" stroke-width="0.3">18</text>
<line x1="359" y1="43.5" x2="361.9" y2="43.5" stroke="#70dde6" stroke-width="1.1"/>
<text x="363.3" y="45.4" font-size="5.8" stroke="#000" stroke-width="0.3">IRF7</text>
<text x="389.1" y="45.4" font-size="5.8" stroke="#000" stroke-width="0.3">5.6</text>
<text x="400.5" y="45.4" font-size="5.8" stroke="#000" stroke-width="0.3">7.3</text>
<text x="440" y="6.4" font-size="8" text-anchor="middle" stroke="#000" stroke-width="0.2">TRAIL</text>
<line x1="416.3" y1="7.6" x2="463.1" y2="7.6" stroke="#000" stroke-width="1.1"/>
<text x="420.4" y="15.6" font-size="5.8" stroke="#000" stroke-width="0.3">siRNA</text>
<line x1="419.8" y1="16.6" x2="437.1" y2="16.6" stroke="#000" stroke-width="0.95"/>
<text x="446.9" y="15.6" font-size="5.8" stroke="#000" stroke-width="0.3">(MFI)</text>
<line x1="444.6" y1="16.6" x2="461.9" y2="16.6" stroke="#000" stroke-width="0.95"/>
<text x="444" y="24.7" font-size="5.8" stroke="#000" stroke-width="0.3">tTA</text>
<text x="454.4" y="24.7" font-size="5.8" stroke="#000" stroke-width="0.3">Tat</text>
<line x1="414" y1="30.2" x2="416.9" y2="30.2" stroke="#e05a6a" stroke-width="1.1"/>
<text x="417.5" y="32.1" font-size="5.8" stroke="#000" stroke-width="0.3">ns</text>
<text x="444.9" y="32.1" font-size="5.8" stroke="#000" stroke-width="0.3">14.5</text>
<text x="457.2" y="32.1" font-size="5.8" stroke="#000" stroke-width="0.3">29</text>
<line x1="414" y1="36.9" x2="416.9" y2="36.9" stroke="#4a4ac0" stroke-width="1.1"/>
<text x="417.5" y="38.8" font-size="5.8" stroke="#000" stroke-width="0.3">MAP2K6</text>
<text x="443.7" y="38.8" font-size="5.8" stroke="#000" stroke-width="0.3">8.7</text>
<text x="457.8" y="38.8" font-size="5.8" stroke="#000" stroke-width="0.3">15</text>
<line x1="414" y1="43.5" x2="416.9" y2="43.5" stroke="#70dde6" stroke-width="1.1"/>
<text x="417.5" y="45.4" font-size="5.8" stroke="#000" stroke-width="0.3">IRF7</text>
<text x="444.9" y="45.4" font-size="5.8" stroke="#000" stroke-width="0.3">7.8</text>
<text x="457.8" y="45.4" font-size="5.8" stroke="#000" stroke-width="0.3">16</text>
<text x="493.8" y="6.4" font-size="8" text-anchor="middle" stroke="#000" stroke-width="0.2">MIG</text>
<line x1="469.2" y1="7.6" x2="517.2" y2="7.6" stroke="#000" stroke-width="1.1"/>
<text x="475.4" y="15.6" font-size="5.8" stroke="#000" stroke-width="0.3">siRNA</text>
<line x1="474.8" y1="16.6" x2="491.5" y2="16.6" stroke="#000" stroke-width="0.95"/>
<text x="501.6" y="15.6" font-size="5.8" stroke="#000" stroke-width="0.3">(MFI)</text>
<line x1="499.9" y1="16.6" x2="516.6" y2="16.6" stroke="#000" stroke-width="0.95"/>
<text x="499.9" y="24.7" font-size="5.8" stroke="#000" stroke-width="0.3">tTA</text>
<text x="511" y="24.7" font-size="5.8" stroke="#000" stroke-width="0.3">Tat</text>
<line x1="469.2" y1="30.2" x2="472" y2="30.2" stroke="#e05a6a" stroke-width="1.1"/>
<text x="473.1" y="32.1" font-size="5.8" stroke="#000" stroke-width="0.3">ns</text>
<text x="501.3" y="32.1" font-size="5.8" stroke="#000" stroke-width="0.3">21</text>
<text x="513.2" y="32.1" font-size="5.8" stroke="#000" stroke-width="0.3">48</text>
<line x1="469.2" y1="36.9" x2="472" y2="36.9" stroke="#4a4ac0" stroke-width="1.1"/>
<text x="473.1" y="38.8" font-size="5.8" stroke="#000" stroke-width="0.3">MAP2K6</text>
<text x="499.6" y="38.8" font-size="5.8" stroke="#000" stroke-width="0.3">10.4</text>
<text x="512.1" y="38.8" font-size="5.8" stroke="#000" stroke-width="0.3">31</text>
<line x1="469.2" y1="43.5" x2="472" y2="43.5" stroke="#70dde6" stroke-width="1.1"/>
<text x="473.1" y="45.4" font-size="5.8" stroke="#000" stroke-width="0.3">IRF7</text>
<text x="501.8" y="45.4" font-size="5.8" stroke="#000" stroke-width="0.3">9.7</text>
<text x="513.2" y="45.4" font-size="5.8" stroke="#000" stroke-width="0.3">25</text>
<rect x="247.5" y="50.5" width="49.9" height="39.2" fill="#fff" stroke="#c0c0c0" stroke-width="1.0"/>
<path d="M247.5 89.7 L247.5 89.3 L248.2 89.2 L248.9 88.9 L249.6 88.7 L250.4 88.2 L251.1 87.5 L251.8 86.5 L252.5 84.2 L253.2 81.8 L253.9 76.7 L254.6 72.6 L255.3 67 L256.1 60.1 L256.8 54.2 L257.5 58.5 L258.2 60.8 L258.9 64.2 L259.6 69.9 L260.3 77.3 L261 82.1 L261.8 84.4 L262.5 86.8 L263.2 87.3 L263.9 88.1 L264.6 88.5 L265.3 88.8 L266 89 L266.7 89.1 L267.5 89.3 L268.2 89.4 L268.9 89.5 L269.6 89.6 L270.3 89.6 L271 89.6 L271.7 89.7 L272.4 89.7 L273.2 89.7 L273.9 89.7 L274.6 89.7 L275.3 89.7 L276 89.7 L276.7 89.7 L277.4 89.7 L278.2 89.7 L278.9 89.7 L279.6 89.7 L280.3 89.7 L281 89.7 L281.7 89.7 L282.4 89.7 L283.1 89.7 L283.9 89.7 L284.6 89.7 L285.3 89.7 L286 89.7 L286.7 89.7 L287.4 89.7 L288.1 89.7 L288.8 89.7 L289.6 89.7 L290.3 89.7 L291 89.7 L291.7 89.7 L292.4 89.7 L293.1 89.7 L293.8 89.7 L294.5 89.7 L295.3 89.7 L296 89.7 L296.7 89.7 L297.4 89.7 L297.4 89.7 Z" fill="#8d94f1" fill-opacity="0.7"/>
<path d="M249.6 88.7 L250.4 88.2 L251.1 87.5 L251.8 86.5 L252.5 84.2 L253.2 81.8 L253.9 76.7 L254.6 72.6 L255.3 67 L256.1 60.1 L256.8 54.2 L257.5 58.5 L258.2 60.8 L258.9 64.2 L259.6 69.9 L260.3 77.3 L261 82.1 L261.8 84.4 L262.5 86.8 L263.2 87.3 L263.9 88.1 L264.6 88.5 L265.3 88.8" fill="none" stroke="#2c2ca8" stroke-width="0.7" stroke-opacity="0.85"/>
<path d="M247.5 89.7 L247.5 89.7 L248.2 89.7 L248.9 89.7 L249.6 89.7 L250.4 89.7 L251.1 89.7 L251.8 89.7 L252.5 89.7 L253.2 89.7 L253.9 89.6 L254.6 89.6 L255.3 89.4 L256.1 89.1 L256.8 88.8 L257.5 88 L258.2 85.9 L258.9 80.2 L259.6 72.9 L260.3 59.8 L261 51.7 L261.8 51.1 L262.5 60 L263.2 70.3 L263.9 80 L264.6 84.3 L265.3 86.7 L266 87.5 L266.7 88.2 L267.5 88.8 L268.2 89.1 L268.9 89.3 L269.6 89.4 L270.3 89.5 L271 89.6 L271.7 89.6 L272.4 89.7 L273.2 89.7 L273.9 89.7 L274.6 89.7 L275.3 89.7 L276 89.7 L276.7 89.7 L277.4 89.7 L278.2 89.7 L278.9 89.7 L279.6 89.7 L280.3 89.7 L281 89.7 L281.7 89.7 L282.4 89.7 L283.1 89.7 L283.9 89.7 L284.6 89.7 L285.3 89.7 L286 89.7 L286.7 89.7 L287.4 89.7 L288.1 89.7 L288.8 89.7 L289.6 89.7 L290.3 89.7 L291 89.7 L291.7 89.7 L292.4 89.7 L293.1 89.7 L293.8 89.7 L294.5 89.7 L295.3 89.7 L296 89.7 L296.7 89.7 L297.4 89.7 L297.4 89.7 Z" fill="#88eaea" fill-opacity="0.7"/>
<path d="M256.8 88.8 L257.5 88 L258.2 85.9 L258.9 80.2 L259.6 72.9 L260.3 59.8 L261 51.7 L261.8 51.1 L262.5 60 L263.2 70.3 L263.9 80 L264.6 84.3 L265.3 86.7 L266 87.5 L266.7 88.2 L267.5 88.8" fill="none" stroke="#18b4bc" stroke-width="0.7" stroke-opacity="0.85"/>
<path d="M247.5 89.7 L247.5 89.7 L248.2 89.7 L248.9 89.7 L249.6 89.7 L250.4 89.7 L251.1 89.7 L251.8 89.6 L252.5 89.6 L253.2 89.5 L253.9 89.4 L254.6 89.2 L255.3 88.6 L256.1 88 L256.8 86.8 L257.5 84.2 L258.2 81.7 L258.9 76.7 L259.6 70.5 L260.3 65.7 L261 61.4 L261.8 60.2 L262.5 58.4 L263.2 61.5 L263.9 62.2 L264.6 68.7 L265.3 72.8 L266 77.9 L266.7 80.5 L267.5 81.2 L268.2 82.1 L268.9 83.2 L269.6 84.1 L270.3 84.9 L271 85.8 L271.7 86.8 L272.4 87.3 L273.2 87.9 L273.9 88.4 L274.6 88.7 L275.3 88.9 L276 89.1 L276.7 89.2 L277.4 89.3 L278.2 89.4 L278.9 89.4 L279.6 89.5 L280.3 89.5 L281 89.5 L281.7 89.6 L282.4 89.6 L283.1 89.6 L283.9 89.6 L284.6 89.6 L285.3 89.6 L286 89.6 L286.7 89.7 L287.4 89.7 L288.1 89.7 L288.8 89.7 L289.6 89.7 L290.3 89.7 L291 89.7 L291.7 89.7 L292.4 89.7 L293.1 89.7 L293.8 89.7 L294.5 89.7 L295.3 89.7 L296 89.7 L296.7 89.7 L297.4 89.7 L297.4 89.7 Z" fill="#f2b2bd" fill-opacity="0.9"/>
<path d="M254.6 89.2 L255.3 88.6 L256.1 88 L256.8 86.8 L257.5 84.2 L258.2 81.7 L258.9 76.7 L259.6 70.5 L260.3 65.7 L261 61.4 L261.8 60.2 L262.5 58.4 L263.2 61.5 L263.9 62.2 L264.6 68.7 L265.3 72.8 L266 77.9 L266.7 80.5 L267.5 81.2 L268.2 82.1 L268.9 83.2 L269.6 84.1 L270.3 84.9 L271 85.8 L271.7 86.8 L272.4 87.3 L273.2 87.9 L273.9 88.4 L274.6 88.7" fill="none" stroke="#b83c4e" stroke-width="0.7" stroke-opacity="0.85"/>
<line x1="247.5" y1="50.5" x2="247.5" y2="89.7" stroke="#a8a8a8" stroke-width="0.8"/>
<line x1="247.5" y1="89.7" x2="297.4" y2="89.7" stroke="#b0b0b0" stroke-width="0.8"/>
<line x1="247.5" y1="89.7" x2="247.5" y2="90.9" stroke="#666" stroke-width="0.6"/>
<text x="247.5" y="92.2" font-size="2.5" text-anchor="middle" font-weight="bold" fill="#222" stroke="#222" stroke-width="0.1">0</text>
<line x1="259.98" y1="89.7" x2="259.98" y2="90.9" stroke="#666" stroke-width="0.6"/>
<text x="259.98" y="92.2" font-size="2.5" text-anchor="middle" font-weight="bold" fill="#222" stroke="#222" stroke-width="0.1">10</text>
<line x1="272.45" y1="89.7" x2="272.45" y2="90.9" stroke="#666" stroke-width="0.6"/>
<text x="272.45" y="92.2" font-size="2.5" text-anchor="middle" font-weight="bold" fill="#222" stroke="#222" stroke-width="0.1">10</text>
<line x1="284.93" y1="89.7" x2="284.93" y2="90.9" stroke="#666" stroke-width="0.6"/>
<text x="284.93" y="92.2" font-size="2.5" text-anchor="middle" font-weight="bold" fill="#222" stroke="#222" stroke-width="0.1">10</text>
<line x1="297.4" y1="89.7" x2="297.4" y2="90.9" stroke="#666" stroke-width="0.6"/>
<text x="297.4" y="92.2" font-size="2.5" text-anchor="middle" font-weight="bold" fill="#222" stroke="#222" stroke-width="0.1">10</text>
<line x1="246.3" y1="89.7" x2="247.5" y2="89.7" stroke="#666" stroke-width="0.6"/>
<text x="246" y="90.7" font-size="2.9" text-anchor="end" font-weight="bold" fill="#111" stroke="#111" stroke-width="0.2">0</text>
<line x1="246.3" y1="79.9" x2="247.5" y2="79.9" stroke="#666" stroke-width="0.6"/>
<text x="246" y="80.9" font-size="2.9" text-anchor="end" font-weight="bold" fill="#111" stroke="#111" stroke-width="0.2">50</text>
<line x1="246.3" y1="70.1" x2="247.5" y2="70.1" stroke="#666" stroke-width="0.6"/>
<text x="246" y="71.1" font-size="2.9" text-anchor="end" font-weight="bold" fill="#111" stroke="#111" stroke-width="0.2">100</text>
<line x1="246.3" y1="60.3" x2="247.5" y2="60.3" stroke="#666" stroke-width="0.6"/>
<text x="246" y="61.3" font-size="2.9" text-anchor="end" font-weight="bold" fill="#111" stroke="#111" stroke-width="0.2">150</text>
<line x1="246.3" y1="50.5" x2="247.5" y2="50.5" stroke="#666" stroke-width="0.6"/>
<text x="246" y="51.5" font-size="2.9" text-anchor="end" font-weight="bold" fill="#111" stroke="#111" stroke-width="0.2">200</text>
<rect x="247.5" y="101.3" width="49.9" height="39.2" fill="#fff" stroke="#c0c0c0" stroke-width="1.0"/>
<path d="M247.5 140.5 L247.5 140.5 L248.2 140.4 L248.9 140.4 L249.6 140.3 L250.4 140.2 L251.1 140.1 L251.8 139.9 L252.5 139.7 L253.2 139.1 L253.9 138.2 L254.6 136.9 L255.3 134.8 L256.1 131 L256.8 127.6 L257.5 123.7 L258.2 116 L258.9 115.8 L259.6 117.8 L260.3 120.6 L261 127.7 L261.8 131.7 L262.5 135.3 L263.2 137.8 L263.9 138.8 L264.6 139.3 L265.3 139.6 L266 139.8 L266.7 140 L267.5 140.1 L268.2 140.3 L268.9 140.3 L269.6 140.4 L270.3 140.4 L271 140.5 L271.7 140.5 L272.4 140.5 L273.2 140.5 L273.9 140.5 L274.6 140.5 L275.3 140.5 L276 140.5 L276.7 140.5 L277.4 140.5 L278.2 140.5 L278.9 140.5 L279.6 140.5 L280.3 140.5 L281 140.5 L281.7 140.5 L282.4 140.5 L283.1 140.5 L283.9 140.5 L284.6 140.5 L285.3 140.5 L286 140.5 L286.7 140.5 L287.4 140.5 L288.1 140.5 L288.8 140.5 L289.6 140.5 L290.3 140.5 L291 140.5 L291.7 140.5 L292.4 140.5 L293.1 140.5 L293.8 140.5 L294.5 140.5 L295.3 140.5 L296 140.5 L296.7 140.5 L297.4 140.5 L297.4 140.5 Z" fill="#88eaea" fill-opacity="0.7"/>
<path d="M252.5 139.7 L253.2 139.1 L253.9 138.2 L254.6 136.9 L255.3 134.8 L256.1 131 L256.8 127.6 L257.5 123.7 L258.2 116 L258.9 115.8 L259.6 117.8 L260.3 120.6 L261 127.7 L261.8 131.7 L262.5 135.3 L263.2 137.8 L263.9 138.8 L264.6 139.3 L265.3 139.6" fill="none" stroke="#18b4bc" stroke-width="0.7" stroke-opacity="0.85"/>
<path d="M247.5 140.5 L247.5 140.4 L248.2 140.3 L248.9 140.2 L249.6 140.1 L250.4 139.9 L251.1 139.5 L251.8 139.1 L252.5 138.6 L253.2 137.4 L253.9 135 L254.6 132.1 L255.3 127 L256.1 121.9 L256.8 113.6 L257.5 108.9 L258.2 107.5 L258.9 115.2 L259.6 118.8 L260.3 126 L261 132.5 L261.8 135.1 L262.5 137.2 L263.2 138.6 L263.9 138.9 L264.6 139.5 L265.3 139.7 L266 139.9 L266.7 140.1 L267.5 140.2 L268.2 140.3 L268.9 140.4 L269.6 140.4 L270.3 140.5 L271 140.5 L271.7 140.5 L272.4 140.5 L273.2 140.5 L273.9 140.5 L274.6 140.5 L275.3 140.5 L276 140.5 L276.7 140.5 L277.4 140.5 L278.2 140.5 L278.9 140.5 L279.6 140.5 L280.3 140.5 L281 140.5 L281.7 140.5 L282.4 140.5 L283.1 140.5 L283.9 140.5 L284.6 140.5 L285.3 140.5 L286 140.5 L286.7 140.5 L287.4 140.5 L288.1 140.5 L288.8 140.5 L289.6 140.5 L290.3 140.5 L291 140.5 L291.7 140.5 L292.4 140.5 L293.1 140.5 L293.8 140.5 L294.5 140.5 L295.3 140.5 L296 140.5 L296.7 140.5 L297.4 140.5 L297.4 140.5 Z" fill="#8d94f1" fill-opacity="0.7"/>
<path d="M251.1 139.5 L251.8 139.1 L252.5 138.6 L253.2 137.4 L253.9 135 L254.6 132.1 L255.3 127 L256.1 121.9 L256.8 113.6 L257.5 108.9 L258.2 107.5 L258.9 115.2 L259.6 118.8 L260.3 126 L261 132.5 L261.8 135.1 L262.5 137.2 L263.2 138.6 L263.9 138.9 L264.6 139.5 L265.3 139.7" fill="none" stroke="#2c2ca8" stroke-width="0.7" stroke-opacity="0.85"/>
<path d="M247.5 140.5 L247.5 140.5 L248.2 140.5 L248.9 140.5 L249.6 140.5 L250.4 140.5 L251.1 140.5 L251.8 140.5 L252.5 140.5 L253.2 140.5 L253.9 140.5 L254.6 140.4 L255.3 140.4 L256.1 140.3 L256.8 140.1 L257.5 139.9 L258.2 139.5 L258.9 139.1 L259.6 138 L260.3 136.3 L261 132.7 L261.8 128.2 L262.5 120.8 L263.2 115.5 L263.9 107.1 L264.6 108.8 L265.3 116.7 L266 123.6 L266.7 129.8 L267.5 135.6 L268.2 137.4 L268.9 138.7 L269.6 139.2 L270.3 139.5 L271 139.9 L271.7 140.1 L272.4 140.2 L273.2 140.3 L273.9 140.4 L274.6 140.4 L275.3 140.5 L276 140.5 L276.7 140.5 L277.4 140.5 L278.2 140.5 L278.9 140.5 L279.6 140.5 L280.3 140.5 L281 140.5 L281.7 140.5 L282.4 140.5 L283.1 140.5 L283.9 140.5 L284.6 140.5 L285.3 140.5 L286 140.5 L286.7 140.5 L287.4 140.5 L288.1 140.5 L288.8 140.5 L289.6 140.5 L290.3 140.5 L291 140.5 L291.7 140.5 L292.4 140.5 L293.1 140.5 L293.8 140.5 L294.5 140.5 L295.3 140.5 L296 140.5 L296.7 140.5 L297.4 140.5 L297.4 140.5 Z" fill="#f2b2bd" fill-opacity="0.9"/>
<path d="M257.5 139.9 L258.2 139.5 L258.9 139.1 L259.6 138 L260.3 136.3 L261 132.7 L261.8 128.2 L262.5 120.8 L263.2 115.5 L263.9 107.1 L264.6 108.8 L265.3 116.7 L266 123.6 L266.7 129.8 L267.5 135.6 L268.2 137.4 L268.9 138.7 L269.6 139.2 L270.3 139.5" fill="none" stroke="#b83c4e" stroke-width="0.7" stroke-opacity="0.85"/>
<line x1="247.5" y1="101.3" x2="247.5" y2="140.5" stroke="#a8a8a8" stroke-width="0.8"/>
<line x1="247.5" y1="140.5" x2="297.4" y2="140.5" stroke="#b0b0b0" stroke-width="0.8"/>
<line x1="247.5" y1="140.5" x2="247.5" y2="141.7" stroke="#666" stroke-width="0.6"/>
<text x="247.5" y="143" font-size="2.5" text-anchor="middle" font-weight="bold" fill="#222" stroke="#222" stroke-width="0.1">0</text>
<line x1="259.98" y1="140.5" x2="259.98" y2="141.7" stroke="#666" stroke-width="0.6"/>
<text x="259.98" y="143" font-size="2.5" text-anchor="middle" font-weight="bold" fill="#222" stroke="#222" stroke-width="0.1">10</text>
<line x1="272.45" y1="140.5" x2="272.45" y2="141.7" stroke="#666" stroke-width="0.6"/>
<text x="272.45" y="143" font-size="2.5" text-anchor="middle" font-weight="bold" fill="#222" stroke="#222" stroke-width="0.1">10</text>
<line x1="284.93" y1="140.5" x2="284.93" y2="141.7" stroke="#666" stroke-width="0.6"/>
<text x="284.93" y="143" font-size="2.5" text-anchor="middle" font-weight="bold" fill="#222" stroke="#222" stroke-width="0.1">10</text>
<line x1="297.4" y1="140.5" x2="297.4" y2="141.7" stroke="#666" stroke-width="0.6"/>
<text x="297.4" y="143" font-size="2.5" text-anchor="middle" font-weight="bold" fill="#222" stroke="#222" stroke-width="0.1">10</text>
<line x1="246.3" y1="140.5" x2="247.5" y2="140.5" stroke="#666" stroke-width="0.6"/>
<text x="246" y="141.5" font-size="2.9" text-anchor="end" font-weight="bold" fill="#111" stroke="#111" stroke-width="0.2">0</text>
<line x1="246.3" y1="130.7" x2="247.5" y2="130.7" stroke="#666" stroke-width="0.6"/>
<text x="246" y="131.7" font-size="2.9" text-anchor="end" font-weight="bold" fill="#111" stroke="#111" stroke-width="0.2">50</text>
<line x1="246.3" y1="120.9" x2="247.5" y2="120.9" stroke="#666" stroke-width="0.6"/>
<text x="246" y="121.9" font-size="2.9" text-anchor="end" font-weight="bold" fill="#111" stroke="#111" stroke-width="0.2">100</text>
<line x1="246.3" y1="111.1" x2="247.5" y2="111.1" stroke="#666" stroke-width="0.6"/>
<text x="246" y="112.1" font-size="2.9" text-anchor="end" font-weight="bold" fill="#111" stroke="#111" stroke-width="0.2">150</text>
<line x1="246.3" y1="101.3" x2="247.5" y2="101.3" stroke="#666" stroke-width="0.6"/>
<text x="246" y="102.3" font-size="2.9" text-anchor="end" font-weight="bold" fill="#111" stroke="#111" stroke-width="0.2">200</text>
<rect x="302.4" y="50.5" width="49.9" height="39.2" fill="#fff" stroke="#c0c0c0" stroke-width="1.0"/>
<path d="M302.4 89.7 L302.4 89.4 L303.1 89.3 L303.8 89.2 L304.5 88.9 L305.3 88.6 L306 88 L306.7 87.3 L307.4 86 L308.1 83.5 L308.8 80.3 L309.5 74.9 L310.2 69.9 L311 63.8 L311.7 60.5 L312.4 58.8 L313.1 59.3 L313.8 65.5 L314.5 70.6 L315.2 73.6 L315.9 80.2 L316.7 82.6 L317.4 85.1 L318.1 86.9 L318.8 87.4 L319.5 88 L320.2 88.4 L320.9 88.6 L321.6 88.9 L322.4 89.1 L323.1 89.2 L323.8 89.3 L324.5 89.4 L325.2 89.5 L325.9 89.5 L326.6 89.6 L327.3 89.6 L328.1 89.6 L328.8 89.7 L329.5 89.7 L330.2 89.7 L330.9 89.7 L331.6 89.7 L332.3 89.7 L333.1 89.7 L333.8 89.7 L334.5 89.7 L335.2 89.7 L335.9 89.7 L336.6 89.7 L337.3 89.7 L338 89.7 L338.8 89.7 L339.5 89.7 L340.2 89.7 L340.9 89.7 L341.6 89.7 L342.3 89.7 L343 89.7 L343.7 89.7 L344.5 89.7 L345.2 89.7 L345.9 89.7 L346.6 89.7 L347.3 89.7 L348 89.7 L348.7 89.7 L349.4 89.7 L350.2 89.7 L350.9 89.7 L351.6 89.7 L352.3 89.7 L352.3 89.7 Z" fill="#8d94f1" fill-opacity="0.7"/>
<path d="M304.5 88.9 L305.3 88.6 L306 88 L306.7 87.3 L307.4 86 L308.1 83.5 L308.8 80.3 L309.5 74.9 L310.2 69.9 L311 63.8 L311.7 60.5 L312.4 58.8 L313.1 59.3 L313.8 65.5 L314.5 70.6 L315.2 73.6 L315.9 80.2 L316.7 82.6 L317.4 85.1 L318.1 86.9 L318.8 87.4 L319.5 88 L320.2 88.4 L320.9 88.6 L321.6 88.9" fill="none" stroke="#2c2ca8" stroke-width="0.7" stroke-opacity="0.85"/>
<path d="M302.4 89.7 L302.4 89.7 L303.1 89.7 L303.8 89.7 L304.5 89.6 L305.3 89.6 L306 89.5 L306.7 89.5 L307.4 89.4 L308.1 89.3 L308.8 89 L309.5 88.8 L310.2 88.4 L311 87.9 L311.7 86.9 L312.4 85.3 L313.1 82.7 L313.8 79.7 L314.5 72.7 L315.2 69.6 L315.9 60.4 L316.7 56.3 L317.4 60.6 L318.1 59.1 L318.8 60.8 L319.5 65.6 L320.2 73.1 L320.9 77.9 L321.6 81 L322.4 81.6 L323.1 83.6 L323.8 83.6 L324.5 84.4 L325.2 84.3 L325.9 84.3 L326.6 85.5 L327.3 85.4 L328.1 86.2 L328.8 86.5 L329.5 87.1 L330.2 87.7 L330.9 87.9 L331.6 88.4 L332.3 88.8 L333.1 89 L333.8 89.1 L334.5 89.2 L335.2 89.3 L335.9 89.4 L336.6 89.4 L337.3 89.5 L338 89.5 L338.8 89.5 L339.5 89.5 L340.2 89.6 L340.9 89.6 L341.6 89.6 L342.3 89.6 L343 89.6 L343.7 89.6 L344.5 89.6 L345.2 89.7 L345.9 89.7 L346.6 89.7 L347.3 89.7 L348 89.7 L348.7 89.7 L349.4 89.7 L350.2 89.7 L350.9 89.7 L351.6 89.7 L352.3 89.7 L352.3 89.7 Z" fill="#f2b2bd" fill-opacity="0.9"/>
<path d="M309.5 88.8 L310.2 88.4 L311 87.9 L311.7 86.9 L312.4 85.3 L313.1 82.7 L313.8 79.7 L314.5 72.7 L315.2 69.6 L315.9 60.4 L316.7 56.3 L317.4 60.6 L318.1 59.1 L318.8 60.8 L319.5 65.6 L320.2 73.1 L320.9 77.9 L321.6 81 L322.4 81.6 L323.1 83.6 L323.8 83.6 L324.5 84.4 L325.2 84.3 L325.9 84.3 L326.6 85.5 L327.3 85.4 L328.1 86.2 L328.8 86.5 L329.5 87.1 L330.2 87.7 L330.9 87.9 L331.6 88.4 L332.3 88.8" fill="none" stroke="#b83c4e" stroke-width="0.7" stroke-opacity="0.85"/>
<line x1="302.4" y1="50.5" x2="302.4" y2="89.7" stroke="#a8a8a8" stroke-width="0.8"/>
<line x1="302.4" y1="89.7" x2="352.3" y2="89.7" stroke="#b0b0b0" stroke-width="0.8"/>
<line x1="302.4" y1="89.7" x2="302.4" y2="90.9" stroke="#666" stroke-width="0.6"/>
<text x="302.4" y="92.2" font-size="2.5" text-anchor="middle" font-weight="bold" fill="#222" stroke="#222" stroke-width="0.1">0</text>
<line x1="314.88" y1="89.7" x2="314.88" y2="90.9" stroke="#666" stroke-width="0.6"/>
<text x="314.88" y="92.2" font-size="2.5" text-anchor="middle" font-weight="bold" fill="#222" stroke="#222" stroke-width="0.1">10</text>
<line x1="327.35" y1="89.7" x2="327.35" y2="90.9" stroke="#666" stroke-width="0.6"/>
<text x="327.35" y="92.2" font-size="2.5" text-anchor="middle" font-weight="bold" fill="#222" stroke="#222" stroke-width="0.1">10</text>
<line x1="339.82" y1="89.7" x2="339.82" y2="90.9" stroke="#666" stroke-width="0.6"/>
<text x="339.82" y="92.2" font-size="2.5" text-anchor="middle" font-weight="bold" fill="#222" stroke="#222" stroke-width="0.1">10</text>
<line x1="352.3" y1="89.7" x2="352.3" y2="90.9" stroke="#666" stroke-width="0.6"/>
<text x="352.3" y="92.2" font-size="2.5" text-anchor="middle" font-weight="bold" fill="#222" stroke="#222" stroke-width="0.1">10</text>
<line x1="301.2" y1="89.7" x2="302.4" y2="89.7" stroke="#666" stroke-width="0.6"/>
<line x1="301.2" y1="79.9" x2="302.4" y2="79.9" stroke="#666" stroke-width="0.6"/>
<line x1="301.2" y1="70.1" x2="302.4" y2="70.1" stroke="#666" stroke-width="0.6"/>
<line x1="301.2" y1="60.3" x2="302.4" y2="60.3" stroke="#666" stroke-width="0.6"/>
<line x1="301.2" y1="50.5" x2="302.4" y2="50.5" stroke="#666" stroke-width="0.6"/>
<rect x="302.4" y="101.3" width="49.9" height="39.2" fill="#fff" stroke="#c0c0c0" stroke-width="1.0"/>
<path d="M302.4 140.5 L302.4 140.4 L303.1 140.4 L303.8 140.3 L304.5 140.3 L305.3 140.1 L306 139.9 L306.7 139.7 L307.4 139.4 L308.1 139 L308.8 138 L309.5 136.6 L310.2 134.7 L311 131.3 L311.7 128.7 L312.4 121.8 L313.1 118.1 L313.8 112.8 L314.5 111.7 L315.2 115.1 L315.9 120.8 L316.7 123.7 L317.4 131.4 L318.1 134.7 L318.8 137.2 L319.5 138.4 L320.2 138.9 L320.9 139.3 L321.6 139.7 L322.4 139.9 L323.1 140.1 L323.8 140.2 L324.5 140.3 L325.2 140.4 L325.9 140.4 L326.6 140.4 L327.3 140.5 L328.1 140.5 L328.8 140.5 L329.5 140.5 L330.2 140.5 L330.9 140.5 L331.6 140.5 L332.3 140.5 L333.1 140.5 L333.8 140.5 L334.5 140.5 L335.2 140.5 L335.9 140.5 L336.6 140.5 L337.3 140.5 L338 140.5 L338.8 140.5 L339.5 140.5 L340.2 140.5 L340.9 140.5 L341.6 140.5 L342.3 140.5 L343 140.5 L343.7 140.5 L344.5 140.5 L345.2 140.5 L345.9 140.5 L346.6 140.5 L347.3 140.5 L348 140.5 L348.7 140.5 L349.4 140.5 L350.2 140.5 L350.9 140.5 L351.6 140.5 L352.3 140.5 L352.3 140.5 Z" fill="#8d94f1" fill-opacity="0.7"/>
<path d="M306.7 139.7 L307.4 139.4 L308.1 139 L308.8 138 L309.5 136.6 L310.2 134.7 L311 131.3 L311.7 128.7 L312.4 121.8 L313.1 118.1 L313.8 112.8 L314.5 111.7 L315.2 115.1 L315.9 120.8 L316.7 123.7 L317.4 131.4 L318.1 134.7 L318.8 137.2 L319.5 138.4 L320.2 138.9 L320.9 139.3 L321.6 139.7" fill="none" stroke="#2c2ca8" stroke-width="0.7" stroke-opacity="0.85"/>
<path d="M302.4 140.5 L302.4 140.5 L303.1 140.5 L303.8 140.5 L304.5 140.5 L305.3 140.5 L306 140.5 L306.7 140.5 L307.4 140.5 L308.1 140.5 L308.8 140.5 L309.5 140.5 L310.2 140.5 L311 140.5 L311.7 140.4 L312.4 140.3 L313.1 140.2 L313.8 140 L314.5 139.6 L315.2 139 L315.9 137.7 L316.7 134.9 L317.4 130.2 L318.1 122 L318.8 115.7 L319.5 105.1 L320.2 108.8 L320.9 110.8 L321.6 121.4 L322.4 130.2 L323.1 135.2 L323.8 137.4 L324.5 138.4 L325.2 139.1 L325.9 139.6 L326.6 139.9 L327.3 140 L328.1 140.2 L328.8 140.3 L329.5 140.4 L330.2 140.4 L330.9 140.5 L331.6 140.5 L332.3 140.5 L333.1 140.5 L333.8 140.5 L334.5 140.5 L335.2 140.5 L335.9 140.5 L336.6 140.5 L337.3 140.5 L338 140.5 L338.8 140.5 L339.5 140.5 L340.2 140.5 L340.9 140.5 L341.6 140.5 L342.3 140.5 L343 140.5 L343.7 140.5 L344.5 140.5 L345.2 140.5 L345.9 140.5 L346.6 140.5 L347.3 140.5 L348 140.5 L348.7 140.5 L349.4 140.5 L350.2 140.5 L350.9 140.5 L351.6 140.5 L352.3 140.5 L352.3 140.5 Z" fill="#f2b2bd" fill-opacity="0.9"/>
<path d="M314.5 139.6 L315.2 139 L315.9 137.7 L316.7 134.9 L317.4 130.2 L318.1 122 L318.8 115.7 L319.5 105.1 L320.2 108.8 L320.9 110.8 L321.6 121.4 L322.4 130.2 L323.1 135.2 L323.8 137.4 L324.5 138.4 L325.2 139.1 L325.9 139.6" fill="none" stroke="#b83c4e" stroke-width="0.7" stroke-opacity="0.85"/>
<line x1="302.4" y1="101.3" x2="302.4" y2="140.5" stroke="#a8a8a8" stroke-width="0.8"/>
<line x1="302.4" y1="140.5" x2="352.3" y2="140.5" stroke="#b0b0b0" stroke-width="0.8"/>
<line x1="302.4" y1="140.5" x2="302.4" y2="141.7" stroke="#666" stroke-width="0.6"/>
<text x="302.4" y="143" font-size="2.5" text-anchor="middle" font-weight="bold" fill="#222" stroke="#222" stroke-width="0.1">0</text>
<line x1="314.88" y1="140.5" x2="314.88" y2="141.7" stroke="#666" stroke-width="0.6"/>
<text x="314.88" y="143" font-size="2.5" text-anchor="middle" font-weight="bold" fill="#222" stroke="#222" stroke-width="0.1">10</text>
<line x1="327.35" y1="140.5" x2="327.35" y2="141.7" stroke="#666" stroke-width="0.6"/>
<text x="327.35" y="143" font-size="2.5" text-anchor="middle" font-weight="bold" fill="#222" stroke="#222" stroke-width="0.1">10</text>
<line x1="339.82" y1="140.5" x2="339.82" y2="141.7" stroke="#666" stroke-width="0.6"/>
<text x="339.82" y="143" font-size="2.5" text-anchor="middle" font-weight="bold" fill="#222" stroke="#222" stroke-width="0.1">10</text>
<line x1="352.3" y1="140.5" x2="352.3" y2="141.7" stroke="#666" stroke-width="0.6"/>
<text x="352.3" y="143" font-size="2.5" text-anchor="middle" font-weight="bold" fill="#222" stroke="#222" stroke-width="0.1">10</text>
<line x1="301.2" y1="140.5" x2="302.4" y2="140.5" stroke="#666" stroke-width="0.6"/>
<line x1="301.2" y1="130.7" x2="302.4" y2="130.7" stroke="#666" stroke-width="0.6"/>
<line x1="301.2" y1="120.9" x2="302.4" y2="120.9" stroke="#666" stroke-width="0.6"/>
<line x1="301.2" y1="111.1" x2="302.4" y2="111.1" stroke="#666" stroke-width="0.6"/>
<line x1="301.2" y1="101.3" x2="302.4" y2="101.3" stroke="#666" stroke-width="0.6"/>
<rect x="358.3" y="50.5" width="49.9" height="39.2" fill="#fff" stroke="#c0c0c0" stroke-width="1.0"/>
<path d="M358.3 89.7 L358.3 85.9 L359 85.2 L359.7 83.7 L360.4 80.7 L361.2 79 L361.9 74 L362.6 71.6 L363.3 69.1 L364 65.3 L364.7 60.8 L365.4 56.5 L366.1 52.8 L366.9 57.8 L367.6 57.5 L368.3 62.1 L369 63.1 L369.7 72.2 L370.4 77.1 L371.1 80.8 L371.8 83.1 L372.6 84.7 L373.3 86.2 L374 87.2 L374.7 87.6 L375.4 88.1 L376.1 88.5 L376.8 88.8 L377.5 88.8 L378.3 89 L379 89.2 L379.7 89.3 L380.4 89.4 L381.1 89.5 L381.8 89.5 L382.5 89.6 L383.2 89.6 L384 89.6 L384.7 89.7 L385.4 89.7 L386.1 89.7 L386.8 89.7 L387.5 89.7 L388.2 89.7 L389 89.7 L389.7 89.7 L390.4 89.7 L391.1 89.7 L391.8 89.7 L392.5 89.7 L393.2 89.7 L393.9 89.7 L394.7 89.7 L395.4 89.7 L396.1 89.7 L396.8 89.7 L397.5 89.7 L398.2 89.7 L398.9 89.7 L399.6 89.7 L400.4 89.7 L401.1 89.7 L401.8 89.7 L402.5 89.7 L403.2 89.7 L403.9 89.7 L404.6 89.7 L405.3 89.7 L406.1 89.7 L406.8 89.7 L407.5 89.7 L408.2 89.7 L408.2 89.7 Z" fill="#88eaea" fill-opacity="0.7"/>
<path d="M358.3 85.9 L359 85.2 L359.7 83.7 L360.4 80.7 L361.2 79 L361.9 74 L362.6 71.6 L363.3 69.1 L364 65.3 L364.7 60.8 L365.4 56.5 L366.1 52.8 L366.9 57.8 L367.6 57.5 L368.3 62.1 L369 63.1 L369.7 72.2 L370.4 77.1 L371.1 80.8 L371.8 83.1 L372.6 84.7 L373.3 86.2 L374 87.2 L374.7 87.6 L375.4 88.1 L376.1 88.5 L376.8 88.8" fill="none" stroke="#18b4bc" stroke-width="0.7" stroke-opacity="0.85"/>
<path d="M358.3 89.7 L358.3 89.5 L359 89.5 L359.7 89.3 L360.4 89.1 L361.2 88.9 L361.9 88.6 L362.6 88.4 L363.3 87.6 L364 86.3 L364.7 83.9 L365.4 80.5 L366.1 77.2 L366.9 72.3 L367.6 65.6 L368.3 59.8 L369 53.3 L369.7 57.5 L370.4 54.7 L371.1 58 L371.8 61.7 L372.6 66.6 L373.3 71.9 L374 76.8 L374.7 80.1 L375.4 82.6 L376.1 84.1 L376.8 86.1 L377.5 86.9 L378.3 87.2 L379 87.9 L379.7 88.3 L380.4 88.5 L381.1 88.6 L381.8 88.8 L382.5 88.8 L383.2 89 L384 89.1 L384.7 89.3 L385.4 89.4 L386.1 89.4 L386.8 89.5 L387.5 89.5 L388.2 89.6 L389 89.6 L389.7 89.6 L390.4 89.6 L391.1 89.7 L391.8 89.7 L392.5 89.7 L393.2 89.7 L393.9 89.7 L394.7 89.7 L395.4 89.7 L396.1 89.7 L396.8 89.7 L397.5 89.7 L398.2 89.7 L398.9 89.7 L399.6 89.7 L400.4 89.7 L401.1 89.7 L401.8 89.7 L402.5 89.7 L403.2 89.7 L403.9 89.7 L404.6 89.7 L405.3 89.7 L406.1 89.7 L406.8 89.7 L407.5 89.7 L408.2 89.7 L408.2 89.7 Z" fill="#8d94f1" fill-opacity="0.7"/>
<path d="M361.2 88.9 L361.9 88.6 L362.6 88.4 L363.3 87.6 L364 86.3 L364.7 83.9 L365.4 80.5 L366.1 77.2 L366.9 72.3 L367.6 65.6 L368.3 59.8 L369 53.3 L369.7 57.5 L370.4 54.7 L371.1 58 L371.8 61.7 L372.6 66.6 L373.3 71.9 L374 76.8 L374.7 80.1 L375.4 82.6 L376.1 84.1 L376.8 86.1 L377.5 86.9 L378.3 87.2 L379 87.9 L379.7 88.3 L380.4 88.5 L381.1 88.6 L381.8 88.8" fill="none" stroke="#2c2ca8" stroke-width="0.7" stroke-opacity="0.85"/>
<path d="M358.3 89.7 L358.3 89.5 L359 89.4 L359.7 89.3 L360.4 89.1 L361.2 89 L361.9 88.7 L362.6 88.3 L363.3 87.7 L364 86 L364.7 84.3 L365.4 80.6 L366.1 77.2 L366.9 70 L367.6 65.5 L368.3 61.2 L369 54.3 L369.7 52.3 L370.4 59.3 L371.1 58.9 L371.8 62.7 L372.6 69.1 L373.3 72.7 L374 77.3 L374.7 80.3 L375.4 82.8 L376.1 84.3 L376.8 85.6 L377.5 86.9 L378.3 87.6 L379 87.9 L379.7 88.1 L380.4 88.5 L381.1 88.6 L381.8 88.8 L382.5 88.9 L383.2 89 L384 89.2 L384.7 89.3 L385.4 89.4 L386.1 89.4 L386.8 89.5 L387.5 89.5 L388.2 89.6 L389 89.6 L389.7 89.6 L390.4 89.6 L391.1 89.7 L391.8 89.7 L392.5 89.7 L393.2 89.7 L393.9 89.7 L394.7 89.7 L395.4 89.7 L396.1 89.7 L396.8 89.7 L397.5 89.7 L398.2 89.7 L398.9 89.7 L399.6 89.7 L400.4 89.7 L401.1 89.7 L401.8 89.7 L402.5 89.7 L403.2 89.7 L403.9 89.7 L404.6 89.7 L405.3 89.7 L406.1 89.7 L406.8 89.7 L407.5 89.7 L408.2 89.7 L408.2 89.7 Z" fill="#f2b2bd" fill-opacity="0.9"/>
<path d="M361.2 89 L361.9 88.7 L362.6 88.3 L363.3 87.7 L364 86 L364.7 84.3 L365.4 80.6 L366.1 77.2 L366.9 70 L367.6 65.5 L368.3 61.2 L369 54.3 L369.7 52.3 L370.4 59.3 L371.1 58.9 L371.8 62.7 L372.6 69.1 L373.3 72.7 L374 77.3 L374.7 80.3 L375.4 82.8 L376.1 84.3 L376.8 85.6 L377.5 86.9 L378.3 87.6 L379 87.9 L379.7 88.1 L380.4 88.5 L381.1 88.6 L381.8 88.8" fill="none" stroke="#b83c4e" stroke-width="0.7" stroke-opacity="0.85"/>
<line x1="358.3" y1="50.5" x2="358.3" y2="89.7" stroke="#a8a8a8" stroke-width="0.8"/>
<line x1="358.3" y1="89.7" x2="408.2" y2="89.7" stroke="#b0b0b0" stroke-width="0.8"/>
<line x1="358.3" y1="89.7" x2="358.3" y2="90.9" stroke="#666" stroke-width="0.6"/>
<text x="358.3" y="92.2" font-size="2.5" text-anchor="middle" font-weight="bold" fill="#222" stroke="#222" stroke-width="0.1">0</text>
<line x1="370.78" y1="89.7" x2="370.78" y2="90.9" stroke="#666" stroke-width="0.6"/>
<text x="370.78" y="92.2" font-size="2.5" text-anchor="middle" font-weight="bold" fill="#222" stroke="#222" stroke-width="0.1">10</text>
<line x1="383.25" y1="89.7" x2="383.25" y2="90.9" stroke="#666" stroke-width="0.6"/>
<text x="383.25" y="92.2" font-size="2.5" text-anchor="middle" font-weight="bold" fill="#222" stroke="#222" stroke-width="0.1">10</text>
<line x1="395.73" y1="89.7" x2="395.73" y2="90.9" stroke="#666" stroke-width="0.6"/>
<text x="395.73" y="92.2" font-size="2.5" text-anchor="middle" font-weight="bold" fill="#222" stroke="#222" stroke-width="0.1">10</text>
<line x1="408.2" y1="89.7" x2="408.2" y2="90.9" stroke="#666" stroke-width="0.6"/>
<text x="408.2" y="92.2" font-size="2.5" text-anchor="middle" font-weight="bold" fill="#222" stroke="#222" stroke-width="0.1">10</text>
<line x1="357.1" y1="89.7" x2="358.3" y2="89.7" stroke="#666" stroke-width="0.6"/>
<line x1="357.1" y1="79.9" x2="358.3" y2="79.9" stroke="#666" stroke-width="0.6"/>
<line x1="357.1" y1="70.1" x2="358.3" y2="70.1" stroke="#666" stroke-width="0.6"/>
<line x1="357.1" y1="60.3" x2="358.3" y2="60.3" stroke="#666" stroke-width="0.6"/>
<line x1="357.1" y1="50.5" x2="358.3" y2="50.5" stroke="#666" stroke-width="0.6"/>
<rect x="358.3" y="101.3" width="49.9" height="39.2" fill="#fff" stroke="#c0c0c0" stroke-width="1.0"/>
<path d="M358.3 140.5 L358.3 140.2 L359 140.1 L359.7 139.9 L360.4 139.7 L361.2 139.4 L361.9 138.9 L362.6 138.1 L363.3 137.5 L364 135.6 L364.7 132.6 L365.4 128.5 L366.1 125.8 L366.9 121 L367.6 111.5 L368.3 106.1 L369 106.2 L369.7 108.6 L370.4 105.6 L371.1 114.7 L371.8 119.4 L372.6 127 L373.3 131.6 L374 135.6 L374.7 136.9 L375.4 138.3 L376.1 138.8 L376.8 139.1 L377.5 139.4 L378.3 139.8 L379 139.9 L379.7 140.1 L380.4 140.2 L381.1 140.3 L381.8 140.4 L382.5 140.4 L383.2 140.4 L384 140.5 L384.7 140.5 L385.4 140.5 L386.1 140.5 L386.8 140.5 L387.5 140.5 L388.2 140.5 L389 140.5 L389.7 140.5 L390.4 140.5 L391.1 140.5 L391.8 140.5 L392.5 140.5 L393.2 140.5 L393.9 140.5 L394.7 140.5 L395.4 140.5 L396.1 140.5 L396.8 140.5 L397.5 140.5 L398.2 140.5 L398.9 140.5 L399.6 140.5 L400.4 140.5 L401.1 140.5 L401.8 140.5 L402.5 140.5 L403.2 140.5 L403.9 140.5 L404.6 140.5 L405.3 140.5 L406.1 140.5 L406.8 140.5 L407.5 140.5 L408.2 140.5 L408.2 140.5 Z" fill="#88eaea" fill-opacity="0.7"/>
<path d="M360.4 139.7 L361.2 139.4 L361.9 138.9 L362.6 138.1 L363.3 137.5 L364 135.6 L364.7 132.6 L365.4 128.5 L366.1 125.8 L366.9 121 L367.6 111.5 L368.3 106.1 L369 106.2 L369.7 108.6 L370.4 105.6 L371.1 114.7 L371.8 119.4 L372.6 127 L373.3 131.6 L374 135.6 L374.7 136.9 L375.4 138.3 L376.1 138.8 L376.8 139.1 L377.5 139.4 L378.3 139.8" fill="none" stroke="#18b4bc" stroke-width="0.7" stroke-opacity="0.85"/>
<path d="M358.3 140.5 L358.3 140.5 L359 140.5 L359.7 140.4 L360.4 140.4 L361.2 140.4 L361.9 140.3 L362.6 140.2 L363.3 140.2 L364 140 L364.7 139.8 L365.4 139.6 L366.1 139.2 L366.9 138.8 L367.6 137.6 L368.3 136.5 L369 133.9 L369.7 130.8 L370.4 128.7 L371.1 122.5 L371.8 117.3 L372.6 117.5 L373.3 113.8 L374 111.1 L374.7 115.2 L375.4 113.1 L376.1 118.7 L376.8 119.4 L377.5 125 L378.3 126.8 L379 128.7 L379.7 132.5 L380.4 134.3 L381.1 135.5 L381.8 136.8 L382.5 137.8 L383.2 138.3 L384 138.7 L384.7 138.8 L385.4 139.1 L386.1 139.2 L386.8 139.6 L387.5 139.6 L388.2 139.8 L389 139.9 L389.7 139.9 L390.4 140.1 L391.1 140.1 L391.8 140.2 L392.5 140.2 L393.2 140.3 L393.9 140.3 L394.7 140.3 L395.4 140.4 L396.1 140.4 L396.8 140.4 L397.5 140.4 L398.2 140.4 L398.9 140.5 L399.6 140.5 L400.4 140.5 L401.1 140.5 L401.8 140.5 L402.5 140.5 L403.2 140.5 L403.9 140.5 L404.6 140.5 L405.3 140.5 L406.1 140.5 L406.8 140.5 L407.5 140.5 L408.2 140.5 L408.2 140.5 Z" fill="#8d94f1" fill-opacity="0.7"/>
<path d="M365.4 139.6 L366.1 139.2 L366.9 138.8 L367.6 137.6 L368.3 136.5 L369 133.9 L369.7 130.8 L370.4 128.7 L371.1 122.5 L371.8 117.3 L372.6 117.5 L373.3 113.8 L374 111.1 L374.7 115.2 L375.4 113.1 L376.1 118.7 L376.8 119.4 L377.5 125 L378.3 126.8 L379 128.7 L379.7 132.5 L380.4 134.3 L381.1 135.5 L381.8 136.8 L382.5 137.8 L383.2 138.3 L384 138.7 L384.7 138.8 L385.4 139.1 L386.1 139.2 L386.8 139.6" fill="none" stroke="#2c2ca8" stroke-width="0.7" stroke-opacity="0.85"/>
<path d="M358.3 140.5 L358.3 140.5 L359 140.5 L359.7 140.5 L360.4 140.5 L361.2 140.5 L361.9 140.5 L362.6 140.4 L363.3 140.4 L364 140.4 L364.7 140.2 L365.4 140.2 L366.1 140 L366.9 139.7 L367.6 139.4 L368.3 138.8 L369 137.8 L369.7 135.7 L370.4 132.5 L371.1 128.7 L371.8 121.7 L372.6 116.1 L373.3 113.4 L374 106.6 L374.7 111.6 L375.4 114.2 L376.1 117.5 L376.8 118.8 L377.5 122.2 L378.3 126.6 L379 130.8 L379.7 133.6 L380.4 135.7 L381.1 136.5 L381.8 137.5 L382.5 138.3 L383.2 138.6 L384 139 L384.7 139.1 L385.4 139.4 L386.1 139.6 L386.8 139.7 L387.5 139.9 L388.2 140 L389 140.1 L389.7 140.2 L390.4 140.2 L391.1 140.3 L391.8 140.3 L392.5 140.4 L393.2 140.4 L393.9 140.4 L394.7 140.4 L395.4 140.5 L396.1 140.5 L396.8 140.5 L397.5 140.5 L398.2 140.5 L398.9 140.5 L399.6 140.5 L400.4 140.5 L401.1 140.5 L401.8 140.5 L402.5 140.5 L403.2 140.5 L403.9 140.5 L404.6 140.5 L405.3 140.5 L406.1 140.5 L406.8 140.5 L407.5 140.5 L408.2 140.5 L408.2 140.5 Z" fill="#f2b2bd" fill-opacity="0.9"/>
<path d="M366.9 139.7 L367.6 139.4 L368.3 138.8 L369 137.8 L369.7 135.7 L370.4 132.5 L371.1 128.7 L371.8 121.7 L372.6 116.1 L373.3 113.4 L374 106.6 L374.7 111.6 L375.4 114.2 L376.1 117.5 L376.8 118.8 L377.5 122.2 L378.3 126.6 L379 130.8 L379.7 133.6 L380.4 135.7 L381.1 136.5 L381.8 137.5 L382.5 138.3 L383.2 138.6 L384 139 L384.7 139.1 L385.4 139.4 L386.1 139.6" fill="none" stroke="#b83c4e" stroke-width="0.7" stroke-opacity="0.85"/>
<line x1="358.3" y1="101.3" x2="358.3" y2="140.5" stroke="#a8a8a8" stroke-width="0.8"/>
<line x1="358.3" y1="140.5" x2="408.2" y2="140.5" stroke="#b0b0b0" stroke-width="0.8"/>
<line x1="358.3" y1="140.5" x2="358.3" y2="141.7" stroke="#666" stroke-width="0.6"/>
<text x="358.3" y="143" font-size="2.5" text-anchor="middle" font-weight="bold" fill="#222" stroke="#222" stroke-width="0.1">0</text>
<line x1="370.78" y1="140.5" x2="370.78" y2="141.7" stroke="#666" stroke-width="0.6"/>
<text x="370.78" y="143" font-size="2.5" text-anchor="middle" font-weight="bold" fill="#222" stroke="#222" stroke-width="0.1">10</text>
<line x1="383.25" y1="140.5" x2="383.25" y2="141.7" stroke="#666" stroke-width="0.6"/>
<text x="383.25" y="143" font-size="2.5" text-anchor="middle" font-weight="bold" fill="#222" stroke="#222" stroke-width="0.1">10</text>
<line x1="395.73" y1="140.5" x2="395.73" y2="141.7" stroke="#666" stroke-width="0.6"/>
<text x="395.73" y="143" font-size="2.5" text-anchor="middle" font-weight="bold" fill="#222" stroke="#222" stroke-width="0.1">10</text>
<line x1="408.2" y1="140.5" x2="408.2" y2="141.7" stroke="#666" stroke-width="0.6"/>
<text x="408.2" y="143" font-size="2.5" text-anchor="middle" font-weight="bold" fill="#222" stroke="#222" stroke-width="0.1">10</text>
<line x1="357.1" y1="140.5" x2="358.3" y2="140.5" stroke="#666" stroke-width="0.6"/>
<line x1="357.1" y1="130.7" x2="358.3" y2="130.7" stroke="#666" stroke-width="0.6"/>
<line x1="357.1" y1="120.9" x2="358.3" y2="120.9" stroke="#666" stroke-width="0.6"/>
<line x1="357.1" y1="111.1" x2="358.3" y2="111.1" stroke="#666" stroke-width="0.6"/>
<line x1="357.1" y1="101.3" x2="358.3" y2="101.3" stroke="#666" stroke-width="0.6"/>
<rect x="413.7" y="50.5" width="49.9" height="39.2" fill="#fff" stroke="#c0c0c0" stroke-width="1.0"/>
<path d="M413.7 89.7 L413.7 89.3 L414.4 89.2 L415.1 88.9 L415.8 88.5 L416.6 88.1 L417.3 87.4 L418 86.4 L418.7 85.1 L419.4 82.3 L420.1 79 L420.8 73.4 L421.5 69 L422.3 64.9 L423 58.3 L423.7 53.2 L424.4 57.7 L425.1 55.3 L425.8 64.4 L426.5 67.9 L427.2 73 L428 76.3 L428.7 80 L429.4 83.2 L430.1 85.6 L430.8 86.4 L431.5 87.5 L432.2 88 L432.9 88.2 L433.7 88.5 L434.4 88.7 L435.1 88.9 L435.8 89 L436.5 89.2 L437.2 89.3 L437.9 89.4 L438.6 89.5 L439.4 89.5 L440.1 89.6 L440.8 89.6 L441.5 89.6 L442.2 89.7 L442.9 89.7 L443.6 89.7 L444.4 89.7 L445.1 89.7 L445.8 89.7 L446.5 89.7 L447.2 89.7 L447.9 89.7 L448.6 89.7 L449.3 89.7 L450.1 89.7 L450.8 89.7 L451.5 89.7 L452.2 89.7 L452.9 89.7 L453.6 89.7 L454.3 89.7 L455 89.7 L455.8 89.7 L456.5 89.7 L457.2 89.7 L457.9 89.7 L458.6 89.7 L459.3 89.7 L460 89.7 L460.7 89.7 L461.5 89.7 L462.2 89.7 L462.9 89.7 L463.6 89.7 L463.6 89.7 Z" fill="#88eaea" fill-opacity="0.7"/>
<path d="M415.1 88.9 L415.8 88.5 L416.6 88.1 L417.3 87.4 L418 86.4 L418.7 85.1 L419.4 82.3 L420.1 79 L420.8 73.4 L421.5 69 L422.3 64.9 L423 58.3 L423.7 53.2 L424.4 57.7 L425.1 55.3 L425.8 64.4 L426.5 67.9 L427.2 73 L428 76.3 L428.7 80 L429.4 83.2 L430.1 85.6 L430.8 86.4 L431.5 87.5 L432.2 88 L432.9 88.2 L433.7 88.5 L434.4 88.7 L435.1 88.9" fill="none" stroke="#18b4bc" stroke-width="0.7" stroke-opacity="0.85"/>
<path d="M413.7 89.7 L413.7 89.2 L414.4 89 L415.1 88.8 L415.8 88.5 L416.6 88.1 L417.3 87.6 L418 86.5 L418.7 84.2 L419.4 82.3 L420.1 78.5 L420.8 73.5 L421.5 69.7 L422.3 63.2 L423 58.4 L423.7 52.4 L424.4 54.4 L425.1 56.7 L425.8 56.9 L426.5 65.1 L427.2 69.5 L428 75.7 L428.7 81 L429.4 83.2 L430.1 85.2 L430.8 86.3 L431.5 87.3 L432.2 87.7 L432.9 88.2 L433.7 88.5 L434.4 88.6 L435.1 88.9 L435.8 89 L436.5 89.2 L437.2 89.3 L437.9 89.4 L438.6 89.5 L439.4 89.5 L440.1 89.6 L440.8 89.6 L441.5 89.6 L442.2 89.7 L442.9 89.7 L443.6 89.7 L444.4 89.7 L445.1 89.7 L445.8 89.7 L446.5 89.7 L447.2 89.7 L447.9 89.7 L448.6 89.7 L449.3 89.7 L450.1 89.7 L450.8 89.7 L451.5 89.7 L452.2 89.7 L452.9 89.7 L453.6 89.7 L454.3 89.7 L455 89.7 L455.8 89.7 L456.5 89.7 L457.2 89.7 L457.9 89.7 L458.6 89.7 L459.3 89.7 L460 89.7 L460.7 89.7 L461.5 89.7 L462.2 89.7 L462.9 89.7 L463.6 89.7 L463.6 89.7 Z" fill="#8d94f1" fill-opacity="0.7"/>
<path d="M415.1 88.8 L415.8 88.5 L416.6 88.1 L417.3 87.6 L418 86.5 L418.7 84.2 L419.4 82.3 L420.1 78.5 L420.8 73.5 L421.5 69.7 L422.3 63.2 L423 58.4 L423.7 52.4 L424.4 54.4 L425.1 56.7 L425.8 56.9 L426.5 65.1 L427.2 69.5 L428 75.7 L428.7 81 L429.4 83.2 L430.1 85.2 L430.8 86.3 L431.5 87.3 L432.2 87.7 L432.9 88.2 L433.7 88.5 L434.4 88.6 L435.1 88.9" fill="none" stroke="#2c2ca8" stroke-width="0.7" stroke-opacity="0.85"/>
<path d="M413.7 89.7 L413.7 89.6 L414.4 89.6 L415.1 89.6 L415.8 89.5 L416.6 89.4 L417.3 89.3 L418 89.2 L418.7 89 L419.4 88.8 L420.1 88.3 L420.8 87.7 L421.5 86.8 L422.3 85.8 L423 83.4 L423.7 79.7 L424.4 75.9 L425.1 72.6 L425.8 66.2 L426.5 59.2 L427.2 59.7 L428 58.8 L428.7 59.1 L429.4 59.4 L430.1 62.6 L430.8 69.6 L431.5 72.4 L432.2 74.2 L432.9 75.5 L433.7 76.4 L434.4 79 L435.1 80.7 L435.8 83 L436.5 84.1 L437.2 86 L437.9 87.5 L438.6 87.8 L439.4 88.5 L440.1 88.8 L440.8 88.9 L441.5 89.1 L442.2 89.2 L442.9 89.4 L443.6 89.5 L444.4 89.5 L445.1 89.6 L445.8 89.6 L446.5 89.6 L447.2 89.7 L447.9 89.7 L448.6 89.7 L449.3 89.7 L450.1 89.7 L450.8 89.7 L451.5 89.7 L452.2 89.7 L452.9 89.7 L453.6 89.7 L454.3 89.7 L455 89.7 L455.8 89.7 L456.5 89.7 L457.2 89.7 L457.9 89.7 L458.6 89.7 L459.3 89.7 L460 89.7 L460.7 89.7 L461.5 89.7 L462.2 89.7 L462.9 89.7 L463.6 89.7 L463.6 89.7 Z" fill="#f2b2bd" fill-opacity="0.9"/>
<path d="M419.4 88.8 L420.1 88.3 L420.8 87.7 L421.5 86.8 L422.3 85.8 L423 83.4 L423.7 79.7 L424.4 75.9 L425.1 72.6 L425.8 66.2 L426.5 59.2 L427.2 59.7 L428 58.8 L428.7 59.1 L429.4 59.4 L430.1 62.6 L430.8 69.6 L431.5 72.4 L432.2 74.2 L432.9 75.5 L433.7 76.4 L434.4 79 L435.1 80.7 L435.8 83 L436.5 84.1 L437.2 86 L437.9 87.5 L438.6 87.8 L439.4 88.5 L440.1 88.8" fill="none" stroke="#b83c4e" stroke-width="0.7" stroke-opacity="0.85"/>
<line x1="413.7" y1="50.5" x2="413.7" y2="89.7" stroke="#a8a8a8" stroke-width="0.8"/>
<line x1="413.7" y1="89.7" x2="463.6" y2="89.7" stroke="#b0b0b0" stroke-width="0.8"/>
<line x1="413.7" y1="89.7" x2="413.7" y2="90.9" stroke="#666" stroke-width="0.6"/>
<text x="413.7" y="92.2" font-size="2.5" text-anchor="middle" font-weight="bold" fill="#222" stroke="#222" stroke-width="0.1">0</text>
<line x1="426.18" y1="89.7" x2="426.18" y2="90.9" stroke="#666" stroke-width="0.6"/>
<text x="426.18" y="92.2" font-size="2.5" text-anchor="middle" font-weight="bold" fill="#222" stroke="#222" stroke-width="0.1">10</text>
<line x1="438.65" y1="89.7" x2="438.65" y2="90.9" stroke="#666" stroke-width="0.6"/>
<text x="438.65" y="92.2" font-size="2.5" text-anchor="middle" font-weight="bold" fill="#222" stroke="#222" stroke-width="0.1">10</text>
<line x1="451.12" y1="89.7" x2="451.12" y2="90.9" stroke="#666" stroke-width="0.6"/>
<text x="451.12" y="92.2" font-size="2.5" text-anchor="middle" font-weight="bold" fill="#222" stroke="#222" stroke-width="0.1">10</text>
<line x1="463.6" y1="89.7" x2="463.6" y2="90.9" stroke="#666" stroke-width="0.6"/>
<text x="463.6" y="92.2" font-size="2.5" text-anchor="middle" font-weight="bold" fill="#222" stroke="#222" stroke-width="0.1">10</text>
<line x1="412.5" y1="89.7" x2="413.7" y2="89.7" stroke="#666" stroke-width="0.6"/>
<line x1="412.5" y1="79.9" x2="413.7" y2="79.9" stroke="#666" stroke-width="0.6"/>
<line x1="412.5" y1="70.1" x2="413.7" y2="70.1" stroke="#666" stroke-width="0.6"/>
<line x1="412.5" y1="60.3" x2="413.7" y2="60.3" stroke="#666" stroke-width="0.6"/>
<line x1="412.5" y1="50.5" x2="413.7" y2="50.5" stroke="#666" stroke-width="0.6"/>
<rect x="413.7" y="101.3" width="49.9" height="39.2" fill="#fff" stroke="#c0c0c0" stroke-width="1.0"/>
<path d="M413.7 140.5 L413.7 140.5 L414.4 140.5 L415.1 140.5 L415.8 140.5 L416.6 140.5 L417.3 140.4 L418 140.4 L418.7 140.3 L419.4 140.3 L420.1 140.1 L420.8 140 L421.5 139.7 L422.3 139.4 L423 138.7 L423.7 137.4 L424.4 136 L425.1 132.3 L425.8 127.2 L426.5 122.5 L427.2 116.1 L428 108.7 L428.7 112.6 L429.4 111.7 L430.1 119.2 L430.8 123.6 L431.5 129.6 L432.2 134.6 L432.9 137.3 L433.7 138.2 L434.4 138.9 L435.1 139.3 L435.8 139.6 L436.5 139.9 L437.2 140 L437.9 140.2 L438.6 140.3 L439.4 140.3 L440.1 140.4 L440.8 140.4 L441.5 140.5 L442.2 140.5 L442.9 140.5 L443.6 140.5 L444.4 140.5 L445.1 140.5 L445.8 140.5 L446.5 140.5 L447.2 140.5 L447.9 140.5 L448.6 140.5 L449.3 140.5 L450.1 140.5 L450.8 140.5 L451.5 140.5 L452.2 140.5 L452.9 140.5 L453.6 140.5 L454.3 140.5 L455 140.5 L455.8 140.5 L456.5 140.5 L457.2 140.5 L457.9 140.5 L458.6 140.5 L459.3 140.5 L460 140.5 L460.7 140.5 L461.5 140.5 L462.2 140.5 L462.9 140.5 L463.6 140.5 L463.6 140.5 Z" fill="#8d94f1" fill-opacity="0.7"/>
<path d="M421.5 139.7 L422.3 139.4 L423 138.7 L423.7 137.4 L424.4 136 L425.1 132.3 L425.8 127.2 L426.5 122.5 L427.2 116.1 L428 108.7 L428.7 112.6 L429.4 111.7 L430.1 119.2 L430.8 123.6 L431.5 129.6 L432.2 134.6 L432.9 137.3 L433.7 138.2 L434.4 138.9 L435.1 139.3 L435.8 139.6" fill="none" stroke="#2c2ca8" stroke-width="0.7" stroke-opacity="0.85"/>
<path d="M413.7 140.5 L413.7 140.5 L414.4 140.5 L415.1 140.5 L415.8 140.5 L416.6 140.5 L417.3 140.4 L418 140.4 L418.7 140.3 L419.4 140.2 L420.1 140.1 L420.8 139.9 L421.5 139.6 L422.3 139.1 L423 138.4 L423.7 137.2 L424.4 134 L425.1 130.9 L425.8 126.2 L426.5 120.7 L427.2 115.2 L428 113.1 L428.7 112.8 L429.4 117.2 L430.1 124.5 L430.8 129 L431.5 133.7 L432.2 137.1 L432.9 138 L433.7 138.8 L434.4 139.3 L435.1 139.7 L435.8 139.8 L436.5 140 L437.2 140.2 L437.9 140.3 L438.6 140.3 L439.4 140.4 L440.1 140.4 L440.8 140.5 L441.5 140.5 L442.2 140.5 L442.9 140.5 L443.6 140.5 L444.4 140.5 L445.1 140.5 L445.8 140.5 L446.5 140.5 L447.2 140.5 L447.9 140.5 L448.6 140.5 L449.3 140.5 L450.1 140.5 L450.8 140.5 L451.5 140.5 L452.2 140.5 L452.9 140.5 L453.6 140.5 L454.3 140.5 L455 140.5 L455.8 140.5 L456.5 140.5 L457.2 140.5 L457.9 140.5 L458.6 140.5 L459.3 140.5 L460 140.5 L460.7 140.5 L461.5 140.5 L462.2 140.5 L462.9 140.5 L463.6 140.5 L463.6 140.5 Z" fill="#88eaea" fill-opacity="0.7"/>
<path d="M421.5 139.6 L422.3 139.1 L423 138.4 L423.7 137.2 L424.4 134 L425.1 130.9 L425.8 126.2 L426.5 120.7 L427.2 115.2 L428 113.1 L428.7 112.8 L429.4 117.2 L430.1 124.5 L430.8 129 L431.5 133.7 L432.2 137.1 L432.9 138 L433.7 138.8 L434.4 139.3 L435.1 139.7" fill="none" stroke="#18b4bc" stroke-width="0.7" stroke-opacity="0.85"/>
<path d="M413.7 140.5 L413.7 140.5 L414.4 140.5 L415.1 140.5 L415.8 140.5 L416.6 140.5 L417.3 140.5 L418 140.5 L418.7 140.5 L419.4 140.5 L420.1 140.5 L420.8 140.5 L421.5 140.4 L422.3 140.4 L423 140.4 L423.7 140.2 L424.4 140.1 L425.1 139.8 L425.8 139.6 L426.5 138.8 L427.2 138 L428 136 L428.7 131.7 L429.4 127.9 L430.1 118.1 L430.8 110.8 L431.5 107.6 L432.2 103.8 L432.9 111.6 L433.7 118.2 L434.4 125.6 L435.1 131 L435.8 135.6 L436.5 137.3 L437.2 138.4 L437.9 138.9 L438.6 139.3 L439.4 139.7 L440.1 139.8 L440.8 140.1 L441.5 140.2 L442.2 140.3 L442.9 140.4 L443.6 140.4 L444.4 140.4 L445.1 140.5 L445.8 140.5 L446.5 140.5 L447.2 140.5 L447.9 140.5 L448.6 140.5 L449.3 140.5 L450.1 140.5 L450.8 140.5 L451.5 140.5 L452.2 140.5 L452.9 140.5 L453.6 140.5 L454.3 140.5 L455 140.5 L455.8 140.5 L456.5 140.5 L457.2 140.5 L457.9 140.5 L458.6 140.5 L459.3 140.5 L460 140.5 L460.7 140.5 L461.5 140.5 L462.2 140.5 L462.9 140.5 L463.6 140.5 L463.6 140.5 Z" fill="#f2b2bd" fill-opacity="0.9"/>
<path d="M425.8 139.6 L426.5 138.8 L427.2 138 L428 136 L428.7 131.7 L429.4 127.9 L430.1 118.1 L430.8 110.8 L431.5 107.6 L432.2 103.8 L432.9 111.6 L433.7 118.2 L434.4 125.6 L435.1 131 L435.8 135.6 L436.5 137.3 L437.2 138.4 L437.9 138.9 L438.6 139.3 L439.4 139.7" fill="none" stroke="#b83c4e" stroke-width="0.7" stroke-opacity="0.85"/>
<line x1="413.7" y1="101.3" x2="413.7" y2="140.5" stroke="#a8a8a8" stroke-width="0.8"/>
<line x1="413.7" y1="140.5" x2="463.6" y2="140.5" stroke="#b0b0b0" stroke-width="0.8"/>
<line x1="413.7" y1="140.5" x2="413.7" y2="141.7" stroke="#666" stroke-width="0.6"/>
<text x="413.7" y="143" font-size="2.5" text-anchor="middle" font-weight="bold" fill="#222" stroke="#222" stroke-width="0.1">0</text>
<line x1="426.18" y1="140.5" x2="426.18" y2="141.7" stroke="#666" stroke-width="0.6"/>
<text x="426.18" y="143" font-size="2.5" text-anchor="middle" font-weight="bold" fill="#222" stroke="#222" stroke-width="0.1">10</text>
<line x1="438.65" y1="140.5" x2="438.65" y2="141.7" stroke="#666" stroke-width="0.6"/>
<text x="438.65" y="143" font-size="2.5" text-anchor="middle" font-weight="bold" fill="#222" stroke="#222" stroke-width="0.1">10</text>
<line x1="451.12" y1="140.5" x2="451.12" y2="141.7" stroke="#666" stroke-width="0.6"/>
<text x="451.12" y="143" font-size="2.5" text-anchor="middle" font-weight="bold" fill="#222" stroke="#222" stroke-width="0.1">10</text>
<line x1="463.6" y1="140.5" x2="463.6" y2="141.7" stroke="#666" stroke-width="0.6"/>
<text x="463.6" y="143" font-size="2.5" text-anchor="middle" font-weight="bold" fill="#222" stroke="#222" stroke-width="0.1">10</text>
<line x1="412.5" y1="140.5" x2="413.7" y2="140.5" stroke="#666" stroke-width="0.6"/>
<line x1="412.5" y1="130.7" x2="413.7" y2="130.7" stroke="#666" stroke-width="0.6"/>
<line x1="412.5" y1="120.9" x2="413.7" y2="120.9" stroke="#666" stroke-width="0.6"/>
<line x1="412.5" y1="111.1" x2="413.7" y2="111.1" stroke="#666" stroke-width="0.6"/>
<line x1="412.5" y1="101.3" x2="413.7" y2="101.3" stroke="#666" stroke-width="0.6"/>
<rect x="469.2" y="50.5" width="49.9" height="39.2" fill="#fff" stroke="#c0c0c0" stroke-width="1.0"/>
<path d="M469.2 89.7 L469.2 89.3 L469.9 89.3 L470.6 89.1 L471.3 89 L472.1 88.8 L472.8 88.6 L473.5 88 L474.2 87.3 L474.9 86.5 L475.6 85.4 L476.3 83.1 L477 80.6 L477.8 77.8 L478.5 75 L479.2 71.1 L479.9 66.7 L480.6 63.8 L481.3 60.8 L482 58.5 L482.7 57.4 L483.5 65.1 L484.2 66.5 L484.9 73.3 L485.6 77.2 L486.3 79.5 L487 83 L487.7 84.8 L488.4 86.5 L489.2 87.6 L489.9 87.9 L490.6 88.2 L491.3 88.4 L492 88.7 L492.7 88.9 L493.4 89.1 L494.1 89.3 L494.9 89.3 L495.6 89.4 L496.3 89.5 L497 89.5 L497.7 89.6 L498.4 89.6 L499.1 89.6 L499.9 89.6 L500.6 89.7 L501.3 89.7 L502 89.7 L502.7 89.7 L503.4 89.7 L504.1 89.7 L504.8 89.7 L505.6 89.7 L506.3 89.7 L507 89.7 L507.7 89.7 L508.4 89.7 L509.1 89.7 L509.8 89.7 L510.5 89.7 L511.3 89.7 L512 89.7 L512.7 89.7 L513.4 89.7 L514.1 89.7 L514.8 89.7 L515.5 89.7 L516.2 89.7 L517 89.7 L517.7 89.7 L518.4 89.7 L519.1 89.7 L519.1 89.7 Z" fill="#88eaea" fill-opacity="0.7"/>
<path d="M472.1 88.8 L472.8 88.6 L473.5 88 L474.2 87.3 L474.9 86.5 L475.6 85.4 L476.3 83.1 L477 80.6 L477.8 77.8 L478.5 75 L479.2 71.1 L479.9 66.7 L480.6 63.8 L481.3 60.8 L482 58.5 L482.7 57.4 L483.5 65.1 L484.2 66.5 L484.9 73.3 L485.6 77.2 L486.3 79.5 L487 83 L487.7 84.8 L488.4 86.5 L489.2 87.6 L489.9 87.9 L490.6 88.2 L491.3 88.4 L492 88.7 L492.7 88.9" fill="none" stroke="#18b4bc" stroke-width="0.7" stroke-opacity="0.85"/>
<path d="M469.2 89.7 L469.2 89.3 L469.9 89.3 L470.6 89.1 L471.3 88.9 L472.1 88.8 L472.8 88.4 L473.5 87.9 L474.2 87.4 L474.9 86.3 L475.6 85.4 L476.3 82.8 L477 80.8 L477.8 77 L478.5 73.1 L479.2 69.6 L479.9 65.6 L480.6 59.8 L481.3 56.1 L482 55.9 L482.7 57.8 L483.5 61.5 L484.2 65.8 L484.9 65.3 L485.6 70.9 L486.3 74.7 L487 79.4 L487.7 81.7 L488.4 83.4 L489.2 85.2 L489.9 86.5 L490.6 87.4 L491.3 87.8 L492 88 L492.7 88.4 L493.4 88.5 L494.1 88.7 L494.9 88.8 L495.6 89 L496.3 89.2 L497 89.3 L497.7 89.4 L498.4 89.4 L499.1 89.5 L499.9 89.5 L500.6 89.5 L501.3 89.6 L502 89.6 L502.7 89.6 L503.4 89.6 L504.1 89.7 L504.8 89.7 L505.6 89.7 L506.3 89.7 L507 89.7 L507.7 89.7 L508.4 89.7 L509.1 89.7 L509.8 89.7 L510.5 89.7 L511.3 89.7 L512 89.7 L512.7 89.7 L513.4 89.7 L514.1 89.7 L514.8 89.7 L515.5 89.7 L516.2 89.7 L517 89.7 L517.7 89.7 L518.4 89.7 L519.1 89.7 L519.1 89.7 Z" fill="#8d94f1" fill-opacity="0.7"/>
<path d="M472.1 88.8 L472.8 88.4 L473.5 87.9 L474.2 87.4 L474.9 86.3 L475.6 85.4 L476.3 82.8 L477 80.8 L477.8 77 L478.5 73.1 L479.2 69.6 L479.9 65.6 L480.6 59.8 L481.3 56.1 L482 55.9 L482.7 57.8 L483.5 61.5 L484.2 65.8 L484.9 65.3 L485.6 70.9 L486.3 74.7 L487 79.4 L487.7 81.7 L488.4 83.4 L489.2 85.2 L489.9 86.5 L490.6 87.4 L491.3 87.8 L492 88 L492.7 88.4 L493.4 88.5 L494.1 88.7" fill="none" stroke="#2c2ca8" stroke-width="0.7" stroke-opacity="0.85"/>
<path d="M469.2 89.7 L469.2 89.7 L469.9 89.7 L470.6 89.7 L471.3 89.7 L472.1 89.7 L472.8 89.7 L473.5 89.7 L474.2 89.6 L474.9 89.6 L475.6 89.5 L476.3 89.4 L477 89.3 L477.8 89.1 L478.5 88.7 L479.2 88.4 L479.9 87.6 L480.6 86.3 L481.3 83.9 L482 80.8 L482.7 76.2 L483.5 66.3 L484.2 62.9 L484.9 60.5 L485.6 56.1 L486.3 57 L487 64.3 L487.7 66.9 L488.4 73 L489.2 77.1 L489.9 81.7 L490.6 84.2 L491.3 85.1 L492 86.5 L492.7 87.5 L493.4 87.9 L494.1 88.4 L494.9 88.5 L495.6 88.8 L496.3 88.9 L497 89.1 L497.7 89.2 L498.4 89.3 L499.1 89.4 L499.9 89.5 L500.6 89.6 L501.3 89.6 L502 89.6 L502.7 89.6 L503.4 89.7 L504.1 89.7 L504.8 89.7 L505.6 89.7 L506.3 89.7 L507 89.7 L507.7 89.7 L508.4 89.7 L509.1 89.7 L509.8 89.7 L510.5 89.7 L511.3 89.7 L512 89.7 L512.7 89.7 L513.4 89.7 L514.1 89.7 L514.8 89.7 L515.5 89.7 L516.2 89.7 L517 89.7 L517.7 89.7 L518.4 89.7 L519.1 89.7 L519.1 89.7 Z" fill="#f2b2bd" fill-opacity="0.9"/>
<path d="M478.5 88.7 L479.2 88.4 L479.9 87.6 L480.6 86.3 L481.3 83.9 L482 80.8 L482.7 76.2 L483.5 66.3 L484.2 62.9 L484.9 60.5 L485.6 56.1 L486.3 57 L487 64.3 L487.7 66.9 L488.4 73 L489.2 77.1 L489.9 81.7 L490.6 84.2 L491.3 85.1 L492 86.5 L492.7 87.5 L493.4 87.9 L494.1 88.4 L494.9 88.5 L495.6 88.8" fill="none" stroke="#b83c4e" stroke-width="0.7" stroke-opacity="0.85"/>
<line x1="469.2" y1="50.5" x2="469.2" y2="89.7" stroke="#a8a8a8" stroke-width="0.8"/>
<line x1="469.2" y1="89.7" x2="519.1" y2="89.7" stroke="#b0b0b0" stroke-width="0.8"/>
<line x1="469.2" y1="89.7" x2="469.2" y2="90.9" stroke="#666" stroke-width="0.6"/>
<text x="469.2" y="92.2" font-size="2.5" text-anchor="middle" font-weight="bold" fill="#222" stroke="#222" stroke-width="0.1">0</text>
<line x1="481.68" y1="89.7" x2="481.68" y2="90.9" stroke="#666" stroke-width="0.6"/>
<text x="481.68" y="92.2" font-size="2.5" text-anchor="middle" font-weight="bold" fill="#222" stroke="#222" stroke-width="0.1">10</text>
<line x1="494.15" y1="89.7" x2="494.15" y2="90.9" stroke="#666" stroke-width="0.6"/>
<text x="494.15" y="92.2" font-size="2.5" text-anchor="middle" font-weight="bold" fill="#222" stroke="#222" stroke-width="0.1">10</text>
<line x1="506.62" y1="89.7" x2="506.62" y2="90.9" stroke="#666" stroke-width="0.6"/>
<text x="506.62" y="92.2" font-size="2.5" text-anchor="middle" font-weight="bold" fill="#222" stroke="#222" stroke-width="0.1">10</text>
<line x1="519.1" y1="89.7" x2="519.1" y2="90.9" stroke="#666" stroke-width="0.6"/>
<text x="519.1" y="92.2" font-size="2.5" text-anchor="middle" font-weight="bold" fill="#222" stroke="#222" stroke-width="0.1">10</text>
<line x1="468" y1="89.7" x2="469.2" y2="89.7" stroke="#666" stroke-width="0.6"/>
<line x1="468" y1="79.9" x2="469.2" y2="79.9" stroke="#666" stroke-width="0.6"/>
<line x1="468" y1="70.1" x2="469.2" y2="70.1" stroke="#666" stroke-width="0.6"/>
<line x1="468" y1="60.3" x2="469.2" y2="60.3" stroke="#666" stroke-width="0.6"/>
<line x1="468" y1="50.5" x2="469.2" y2="50.5" stroke="#666" stroke-width="0.6"/>
<rect x="469.2" y="101.3" width="49.9" height="39.2" fill="#fff" stroke="#c0c0c0" stroke-width="1.0"/>
<path d="M469.2 140.5 L469.2 140.5 L469.9 140.5 L470.6 140.5 L471.3 140.5 L472.1 140.5 L472.8 140.5 L473.5 140.5 L474.2 140.5 L474.9 140.5 L475.6 140.5 L476.3 140.5 L477 140.5 L477.8 140.4 L478.5 140.4 L479.2 140.3 L479.9 140.2 L480.6 139.9 L481.3 139.7 L482 139 L482.7 137.8 L483.5 135.3 L484.2 129.6 L484.9 122.6 L485.6 113.4 L486.3 107.9 L487 104.2 L487.7 114.6 L488.4 120.3 L489.2 129.9 L489.9 135 L490.6 136.8 L491.3 138.5 L492 138.9 L492.7 139.4 L493.4 139.7 L494.1 140.1 L494.9 140.2 L495.6 140.3 L496.3 140.4 L497 140.4 L497.7 140.5 L498.4 140.5 L499.1 140.5 L499.9 140.5 L500.6 140.5 L501.3 140.5 L502 140.5 L502.7 140.5 L503.4 140.5 L504.1 140.5 L504.8 140.5 L505.6 140.5 L506.3 140.5 L507 140.5 L507.7 140.5 L508.4 140.5 L509.1 140.5 L509.8 140.5 L510.5 140.5 L511.3 140.5 L512 140.5 L512.7 140.5 L513.4 140.5 L514.1 140.5 L514.8 140.5 L515.5 140.5 L516.2 140.5 L517 140.5 L517.7 140.5 L518.4 140.5 L519.1 140.5 L519.1 140.5 Z" fill="#88eaea" fill-opacity="0.7"/>
<path d="M481.3 139.7 L482 139 L482.7 137.8 L483.5 135.3 L484.2 129.6 L484.9 122.6 L485.6 113.4 L486.3 107.9 L487 104.2 L487.7 114.6 L488.4 120.3 L489.2 129.9 L489.9 135 L490.6 136.8 L491.3 138.5 L492 138.9 L492.7 139.4 L493.4 139.7" fill="none" stroke="#18b4bc" stroke-width="0.7" stroke-opacity="0.85"/>
<path d="M469.2 140.5 L469.2 140.5 L469.9 140.5 L470.6 140.5 L471.3 140.5 L472.1 140.5 L472.8 140.5 L473.5 140.5 L474.2 140.5 L474.9 140.5 L475.6 140.5 L476.3 140.5 L477 140.4 L477.8 140.4 L478.5 140.3 L479.2 140.2 L479.9 140 L480.6 139.8 L481.3 139.5 L482 138.6 L482.7 137.4 L483.5 135.4 L484.2 130.8 L484.9 123 L485.6 117.9 L486.3 109.2 L487 108.7 L487.7 110.3 L488.4 114.3 L489.2 123.9 L489.9 132.1 L490.6 136.1 L491.3 138 L492 138.7 L492.7 139.2 L493.4 139.7 L494.1 139.9 L494.9 140.1 L495.6 140.2 L496.3 140.3 L497 140.4 L497.7 140.4 L498.4 140.5 L499.1 140.5 L499.9 140.5 L500.6 140.5 L501.3 140.5 L502 140.5 L502.7 140.5 L503.4 140.5 L504.1 140.5 L504.8 140.5 L505.6 140.5 L506.3 140.5 L507 140.5 L507.7 140.5 L508.4 140.5 L509.1 140.5 L509.8 140.5 L510.5 140.5 L511.3 140.5 L512 140.5 L512.7 140.5 L513.4 140.5 L514.1 140.5 L514.8 140.5 L515.5 140.5 L516.2 140.5 L517 140.5 L517.7 140.5 L518.4 140.5 L519.1 140.5 L519.1 140.5 Z" fill="#8d94f1" fill-opacity="0.7"/>
<path d="M480.6 139.8 L481.3 139.5 L482 138.6 L482.7 137.4 L483.5 135.4 L484.2 130.8 L484.9 123 L485.6 117.9 L486.3 109.2 L487 108.7 L487.7 110.3 L488.4 114.3 L489.2 123.9 L489.9 132.1 L490.6 136.1 L491.3 138 L492 138.7 L492.7 139.2 L493.4 139.7" fill="none" stroke="#2c2ca8" stroke-width="0.7" stroke-opacity="0.85"/>
<path d="M469.2 140.5 L469.2 140.5 L469.9 140.5 L470.6 140.5 L471.3 140.5 L472.1 140.5 L472.8 140.5 L473.5 140.5 L474.2 140.5 L474.9 140.5 L475.6 140.5 L476.3 140.5 L477 140.5 L477.8 140.5 L478.5 140.5 L479.2 140.5 L479.9 140.4 L480.6 140.4 L481.3 140.3 L482 140.2 L482.7 140 L483.5 139.8 L484.2 139.4 L484.9 138.4 L485.6 136.9 L486.3 134 L487 128.9 L487.7 124.4 L488.4 114.6 L489.2 110.4 L489.9 113.4 L490.6 115.3 L491.3 118.3 L492 124.2 L492.7 130 L493.4 134 L494.1 136.2 L494.9 137.9 L495.6 138.5 L496.3 138.9 L497 139.5 L497.7 139.6 L498.4 139.8 L499.1 140 L499.9 140.1 L500.6 140.2 L501.3 140.3 L502 140.4 L502.7 140.4 L503.4 140.4 L504.1 140.5 L504.8 140.5 L505.6 140.5 L506.3 140.5 L507 140.5 L507.7 140.5 L508.4 140.5 L509.1 140.5 L509.8 140.5 L510.5 140.5 L511.3 140.5 L512 140.5 L512.7 140.5 L513.4 140.5 L514.1 140.5 L514.8 140.5 L515.5 140.5 L516.2 140.5 L517 140.5 L517.7 140.5 L518.4 140.5 L519.1 140.5 L519.1 140.5 Z" fill="#f2b2bd" fill-opacity="0.9"/>
<path d="M483.5 139.8 L484.2 139.4 L484.9 138.4 L485.6 136.9 L486.3 134 L487 128.9 L487.7 124.4 L488.4 114.6 L489.2 110.4 L489.9 113.4 L490.6 115.3 L491.3 118.3 L492 124.2 L492.7 130 L493.4 134 L494.1 136.2 L494.9 137.9 L495.6 138.5 L496.3 138.9 L497 139.5 L497.7 139.6" fill="none" stroke="#b83c4e" stroke-width="0.7" stroke-opacity="0.85"/>
<line x1="469.2" y1="101.3" x2="469.2" y2="140.5" stroke="#a8a8a8" stroke-width="0.8"/>
<line x1="469.2" y1="140.5" x2="519.1" y2="140.5" stroke="#b0b0b0" stroke-width="0.8"/>
<line x1="469.2" y1="140.5" x2="469.2" y2="141.7" stroke="#666" stroke-width="0.6"/>
<text x="469.2" y="143" font-size="2.5" text-anchor="middle" font-weight="bold" fill="#222" stroke="#222" stroke-width="0.1">0</text>
<line x1="481.68" y1="140.5" x2="481.68" y2="141.7" stroke="#666" stroke-width="0.6"/>
<text x="481.68" y="143" font-size="2.5" text-anchor="middle" font-weight="bold" fill="#222" stroke="#222" stroke-width="0.1">10</text>
<line x1="494.15" y1="140.5" x2="494.15" y2="141.7" stroke="#666" stroke-width="0.6"/>
<text x="494.15" y="143" font-size="2.5" text-anchor="middle" font-weight="bold" fill="#222" stroke="#222" stroke-width="0.1">10</text>
<line x1="506.62" y1="140.5" x2="506.62" y2="141.7" stroke="#666" stroke-width="0.6"/>
<text x="506.62" y="143" font-size="2.5" text-anchor="middle" font-weight="bold" fill="#222" stroke="#222" stroke-width="0.1">10</text>
<line x1="519.1" y1="140.5" x2="519.1" y2="141.7" stroke="#666" stroke-width="0.6"/>
<text x="519.1" y="143" font-size="2.5" text-anchor="middle" font-weight="bold" fill="#222" stroke="#222" stroke-width="0.1">10</text>
<line x1="468" y1="140.5" x2="469.2" y2="140.5" stroke="#666" stroke-width="0.6"/>
<line x1="468" y1="130.7" x2="469.2" y2="130.7" stroke="#666" stroke-width="0.6"/>
<line x1="468" y1="120.9" x2="469.2" y2="120.9" stroke="#666" stroke-width="0.6"/>
<line x1="468" y1="111.1" x2="469.2" y2="111.1" stroke="#666" stroke-width="0.6"/>
<line x1="468" y1="101.3" x2="469.2" y2="101.3" stroke="#666" stroke-width="0.6"/>
<text x="237.9" y="71.2" font-size="8" text-anchor="middle" font-weight="bold" transform="rotate(-90 237.9 71.2)">tTA</text>
<line x1="239.3" y1="54" x2="239.3" y2="88.3" stroke="#000" stroke-width="1.1"/>
<text x="237.2" y="121.6" font-size="8" text-anchor="middle" font-weight="bold" transform="rotate(-90 237.2 121.6)">Tat</text>
<line x1="239.3" y1="104" x2="239.3" y2="138.8" stroke="#000" stroke-width="1.1"/>
<text x="268.9" y="169.3" font-size="12" font-weight="bold">D</text>
<text x="314.5" y="170.2" font-size="8" text-anchor="middle" stroke="#000" stroke-width="0.2">IRF7</text>
<line x1="287.9" y1="171.4" x2="339.2" y2="171.4" stroke="#000" stroke-width="1.1"/>
<text x="292.6" y="179.8" font-size="5.8" stroke="#000" stroke-width="0.22">siRNA</text>
<line x1="289" y1="181.8" x2="312.1" y2="181.8" stroke="#000" stroke-width="0.95"/>
<text x="319.6" y="179.8" font-size="5.8" stroke="#000" stroke-width="0.22">(MFI)</text>
<line x1="315.1" y1="181.8" x2="337.6" y2="181.8" stroke="#000" stroke-width="0.95"/>
<text x="315.7" y="188.4" font-size="5.8" stroke="#000" stroke-width="0.22">tTA</text>
<text x="330.1" y="188.4" font-size="5.8" stroke="#000" stroke-width="0.22">Tat</text>
<line x1="289.2" y1="193.5" x2="292.7" y2="193.5" stroke="#e05a6a" stroke-width="1.1"/>
<text x="293.8" y="195.4" font-size="5.8" stroke="#000" stroke-width="0.22">ns</text>
<text x="316" y="195.4" font-size="5.8" stroke="#000" stroke-width="0.22">12</text>
<text x="330" y="195.4" font-size="5.8" stroke="#000" stroke-width="0.22">27</text>
<line x1="289.2" y1="200.7" x2="292.7" y2="200.7" stroke="#6ab4e6" stroke-width="1.1"/>
<text x="293.8" y="202.6" font-size="5.8" stroke="#000" stroke-width="0.22">IRF7</text>
<text x="315.4" y="202.6" font-size="5.8" stroke="#000" stroke-width="0.22">9.1</text>
<text x="329.5" y="202.6" font-size="5.8" stroke="#000" stroke-width="0.22">15</text>
<text x="372.4" y="170.2" font-size="8" text-anchor="middle" stroke="#000" stroke-width="0.2">STAT1</text>
<line x1="347.6" y1="171.4" x2="397.8" y2="171.4" stroke="#000" stroke-width="1.1"/>
<text x="353.4" y="179.8" font-size="5.8" stroke="#000" stroke-width="0.22">siRNA</text>
<line x1="349.3" y1="181.8" x2="371.3" y2="181.8" stroke="#000" stroke-width="0.95"/>
<text x="378.2" y="179.8" font-size="5.8" stroke="#000" stroke-width="0.22">(MFI)</text>
<line x1="374.7" y1="181.8" x2="396.1" y2="181.8" stroke="#000" stroke-width="0.95"/>
<text x="375.3" y="188.4" font-size="5.8" stroke="#000" stroke-width="0.22">tTA</text>
<text x="387.4" y="188.4" font-size="5.8" stroke="#000" stroke-width="0.22">Tat</text>
<line x1="348.2" y1="193.5" x2="351.7" y2="193.5" stroke="#e05a6a" stroke-width="1.1"/>
<text x="352.8" y="195.4" font-size="5.8" stroke="#000" stroke-width="0.22">ns</text>
<text x="375" y="195.4" font-size="5.8" stroke="#000" stroke-width="0.22">12.2</text>
<text x="389.6" y="195.4" font-size="5.8" stroke="#000" stroke-width="0.22">19</text>
<line x1="348.2" y1="200.7" x2="351.7" y2="200.7" stroke="#6ab4e6" stroke-width="1.1"/>
<text x="352.8" y="202.6" font-size="5.8" stroke="#000" stroke-width="0.22">IRF7</text>
<text x="375" y="202.6" font-size="5.8" stroke="#000" stroke-width="0.22">7.1</text>
<text x="389.6" y="202.6" font-size="5.8" stroke="#000" stroke-width="0.22">7.2</text>
<text x="429.4" y="170.2" font-size="8" text-anchor="middle" stroke="#000" stroke-width="0.2">TRAIL</text>
<line x1="403.5" y1="171.4" x2="454.2" y2="171.4" stroke="#000" stroke-width="1.1"/>
<text x="409.8" y="179.8" font-size="5.8" stroke="#000" stroke-width="0.22">siRNA</text>
<line x1="406.9" y1="181.8" x2="428.8" y2="181.8" stroke="#000" stroke-width="0.95"/>
<text x="436.9" y="179.8" font-size="5.8" stroke="#000" stroke-width="0.22">(MFI)</text>
<line x1="432.9" y1="181.8" x2="454.2" y2="181.8" stroke="#000" stroke-width="0.95"/>
<text x="434.6" y="188.4" font-size="5.8" stroke="#000" stroke-width="0.22">tTA</text>
<text x="446.7" y="188.4" font-size="5.8" stroke="#000" stroke-width="0.22">Tat</text>
<line x1="405.2" y1="193.5" x2="408.1" y2="193.5" stroke="#e05a6a" stroke-width="1.1"/>
<text x="409.2" y="195.4" font-size="5.8" stroke="#000" stroke-width="0.22">ns</text>
<text x="433.7" y="195.4" font-size="5.8" stroke="#000" stroke-width="0.22">13.1</text>
<text x="448.3" y="195.4" font-size="5.8" stroke="#000" stroke-width="0.22">28</text>
<line x1="405.2" y1="200.7" x2="408.1" y2="200.7" stroke="#6ab4e6" stroke-width="1.1"/>
<text x="409.2" y="202.6" font-size="5.8" stroke="#000" stroke-width="0.22">IRF7</text>
<text x="433.7" y="202.6" font-size="5.8" stroke="#000" stroke-width="0.22">8.7</text>
<text x="448.3" y="202.6" font-size="5.8" stroke="#000" stroke-width="0.22">16</text>
<text x="485.7" y="170.2" font-size="8" text-anchor="middle" stroke="#000" stroke-width="0.2">HuMIG</text>
<line x1="460.3" y1="171.4" x2="511.6" y2="171.4" stroke="#000" stroke-width="1.1"/>
<text x="465.5" y="179.8" font-size="5.8" stroke="#000" stroke-width="0.22">siRNA</text>
<line x1="462" y1="181.8" x2="485.1" y2="181.8" stroke="#000" stroke-width="0.95"/>
<text x="493.2" y="179.8" font-size="5.8" stroke="#000" stroke-width="0.22">(MFI)</text>
<line x1="488.6" y1="181.8" x2="511.1" y2="181.8" stroke="#000" stroke-width="0.95"/>
<text x="490.3" y="188.4" font-size="5.8" stroke="#000" stroke-width="0.22">tTA</text>
<text x="503.6" y="188.4" font-size="5.8" stroke="#000" stroke-width="0.22">Tat</text>
<line x1="460.9" y1="193.5" x2="464.3" y2="193.5" stroke="#e05a6a" stroke-width="1.1"/>
<text x="466.1" y="195.4" font-size="5.8" stroke="#000" stroke-width="0.22">ns</text>
<text x="490" y="195.4" font-size="5.8" stroke="#000" stroke-width="0.22">9</text>
<text x="505.8" y="195.4" font-size="5.8" stroke="#000" stroke-width="0.22">23</text>
<line x1="460.9" y1="200.7" x2="464.3" y2="200.7" stroke="#6ab4e6" stroke-width="1.1"/>
<text x="466.1" y="202.6" font-size="5.8" stroke="#000" stroke-width="0.22">IRF7</text>
<text x="490" y="202.6" font-size="5.8" stroke="#000" stroke-width="0.22">13.2</text>
<text x="504.6" y="202.6" font-size="5.8" stroke="#000" stroke-width="0.22">14</text>
<rect x="287.5" y="210" width="52.8" height="42.4" fill="#fff" stroke="#c0c0c0" stroke-width="1.0"/>
<path d="M287.5 252.4 L287.5 252.2 L288.3 252.1 L289 252 L289.8 251.8 L290.5 251.3 L291.3 250.8 L292 249.9 L292.8 248.8 L293.5 246.8 L294.3 244.4 L295 241.5 L295.8 240.5 L296.6 235.7 L297.3 234.3 L298.1 230.6 L298.8 231.3 L299.6 230.5 L300.3 231.8 L301.1 237.3 L301.8 242.7 L302.6 246 L303.3 248.8 L304.1 250.2 L304.8 251.3 L305.6 251.7 L306.4 251.9 L307.1 252.1 L307.9 252.1 L308.6 252.2 L309.4 252.2 L310.1 252.3 L310.9 252.3 L311.6 252.3 L312.4 252.4 L313.1 252.4 L313.9 252.4 L314.7 252.4 L315.4 252.4 L316.2 252.4 L316.9 252.4 L317.7 252.4 L318.4 252.4 L319.2 252.4 L319.9 252.4 L320.7 252.4 L321.4 252.4 L322.2 252.4 L323 252.4 L323.7 252.4 L324.5 252.4 L325.2 252.4 L326 252.4 L326.7 252.4 L327.5 252.4 L328.2 252.4 L329 252.4 L329.7 252.4 L330.5 252.4 L331.2 252.4 L332 252.4 L332.8 252.4 L333.5 252.4 L334.3 252.4 L335 252.4 L335.8 252.4 L336.5 252.4 L337.3 252.4 L338 252.4 L338.8 252.4 L339.5 252.4 L340.3 252.4 L340.3 252.4 Z" fill="#86c2ee" fill-opacity="0.7"/>
<path d="M289.8 251.8 L290.5 251.3 L291.3 250.8 L292 249.9 L292.8 248.8 L293.5 246.8 L294.3 244.4 L295 241.5 L295.8 240.5 L296.6 235.7 L297.3 234.3 L298.1 230.6 L298.8 231.3 L299.6 230.5 L300.3 231.8 L301.1 237.3 L301.8 242.7 L302.6 246 L303.3 248.8 L304.1 250.2 L304.8 251.3 L305.6 251.7" fill="none" stroke="#2c80c8" stroke-width="0.7" stroke-opacity="0.85"/>
<path d="M287.5 252.4 L287.5 252.4 L288.3 252.3 L289 252.3 L289.8 252.3 L290.5 252.2 L291.3 252.1 L292 252 L292.8 251.8 L293.5 251.4 L294.3 250.9 L295 249.6 L295.8 247.5 L296.6 243.5 L297.3 238.5 L298.1 231.3 L298.8 224.5 L299.6 220.5 L300.3 215.7 L301.1 215.6 L301.8 218.2 L302.6 224.7 L303.3 229.1 L304.1 235.4 L304.8 240.2 L305.6 245.6 L306.4 247.4 L307.1 249.8 L307.9 250.5 L308.6 251.2 L309.4 251.5 L310.1 251.7 L310.9 251.9 L311.6 252 L312.4 252 L313.1 252.1 L313.9 252.2 L314.7 252.2 L315.4 252.3 L316.2 252.3 L316.9 252.3 L317.7 252.4 L318.4 252.4 L319.2 252.4 L319.9 252.4 L320.7 252.4 L321.4 252.4 L322.2 252.4 L323 252.4 L323.7 252.4 L324.5 252.4 L325.2 252.4 L326 252.4 L326.7 252.4 L327.5 252.4 L328.2 252.4 L329 252.4 L329.7 252.4 L330.5 252.4 L331.2 252.4 L332 252.4 L332.8 252.4 L333.5 252.4 L334.3 252.4 L335 252.4 L335.8 252.4 L336.5 252.4 L337.3 252.4 L338 252.4 L338.8 252.4 L339.5 252.4 L340.3 252.4 L340.3 252.4 Z" fill="#f2b2bd" fill-opacity="0.9"/>
<path d="M293.5 251.4 L294.3 250.9 L295 249.6 L295.8 247.5 L296.6 243.5 L297.3 238.5 L298.1 231.3 L298.8 224.5 L299.6 220.5 L300.3 215.7 L301.1 215.6 L301.8 218.2 L302.6 224.7 L303.3 229.1 L304.1 235.4 L304.8 240.2 L305.6 245.6 L306.4 247.4 L307.1 249.8 L307.9 250.5 L308.6 251.2 L309.4 251.5" fill="none" stroke="#b83c4e" stroke-width="0.7" stroke-opacity="0.85"/>
<line x1="287.5" y1="210" x2="287.5" y2="252.4" stroke="#a8a8a8" stroke-width="0.8"/>
<line x1="287.5" y1="252.4" x2="340.3" y2="252.4" stroke="#b0b0b0" stroke-width="0.8"/>
<line x1="287.5" y1="252.4" x2="287.5" y2="253.6" stroke="#666" stroke-width="0.6"/>
<text x="287.5" y="254.9" font-size="2.5" text-anchor="middle" font-weight="bold" fill="#222" stroke="#222" stroke-width="0.1">0</text>
<line x1="300.7" y1="252.4" x2="300.7" y2="253.6" stroke="#666" stroke-width="0.6"/>
<text x="300.7" y="254.9" font-size="2.5" text-anchor="middle" font-weight="bold" fill="#222" stroke="#222" stroke-width="0.1">10</text>
<line x1="313.9" y1="252.4" x2="313.9" y2="253.6" stroke="#666" stroke-width="0.6"/>
<text x="313.9" y="254.9" font-size="2.5" text-anchor="middle" font-weight="bold" fill="#222" stroke="#222" stroke-width="0.1">10</text>
<line x1="327.1" y1="252.4" x2="327.1" y2="253.6" stroke="#666" stroke-width="0.6"/>
<text x="327.1" y="254.9" font-size="2.5" text-anchor="middle" font-weight="bold" fill="#222" stroke="#222" stroke-width="0.1">10</text>
<line x1="340.3" y1="252.4" x2="340.3" y2="253.6" stroke="#666" stroke-width="0.6"/>
<text x="340.3" y="254.9" font-size="2.5" text-anchor="middle" font-weight="bold" fill="#222" stroke="#222" stroke-width="0.1">10</text>
<line x1="286.3" y1="252.4" x2="287.5" y2="252.4" stroke="#666" stroke-width="0.6"/>
<text x="286" y="253.4" font-size="2.9" text-anchor="end" font-weight="bold" fill="#111" stroke="#111" stroke-width="0.2">0</text>
<line x1="286.3" y1="241.8" x2="287.5" y2="241.8" stroke="#666" stroke-width="0.6"/>
<text x="286" y="242.8" font-size="2.9" text-anchor="end" font-weight="bold" fill="#111" stroke="#111" stroke-width="0.2">50</text>
<line x1="286.3" y1="231.2" x2="287.5" y2="231.2" stroke="#666" stroke-width="0.6"/>
<text x="286" y="232.2" font-size="2.9" text-anchor="end" font-weight="bold" fill="#111" stroke="#111" stroke-width="0.2">100</text>
<line x1="286.3" y1="220.6" x2="287.5" y2="220.6" stroke="#666" stroke-width="0.6"/>
<text x="286" y="221.6" font-size="2.9" text-anchor="end" font-weight="bold" fill="#111" stroke="#111" stroke-width="0.2">150</text>
<line x1="286.3" y1="210" x2="287.5" y2="210" stroke="#666" stroke-width="0.6"/>
<text x="286" y="211" font-size="2.9" text-anchor="end" font-weight="bold" fill="#111" stroke="#111" stroke-width="0.2">200</text>
<rect x="287.5" y="263.6" width="52.8" height="42.6" fill="#fff" stroke="#c0c0c0" stroke-width="1.0"/>
<path d="M287.5 306.2 L287.5 306.2 L288.3 306.2 L289 306.2 L289.8 306.2 L290.5 306.2 L291.3 306.1 L292 306.1 L292.8 306 L293.5 306 L294.3 305.9 L295 305.9 L295.8 305.7 L296.6 305.4 L297.3 304.8 L298.1 303.9 L298.8 302.1 L299.6 299.4 L300.3 296.7 L301.1 292.6 L301.8 287.2 L302.6 280.6 L303.3 280.1 L304.1 277.1 L304.8 275.7 L305.6 281.6 L306.4 284.6 L307.1 286.8 L307.9 292.4 L308.6 297.3 L309.4 300.9 L310.1 302.3 L310.9 303.9 L311.6 304.7 L312.4 305.1 L313.1 305.4 L313.9 305.7 L314.7 305.8 L315.4 305.9 L316.2 305.9 L316.9 306 L317.7 306 L318.4 306.1 L319.2 306.1 L319.9 306.1 L320.7 306.1 L321.4 306.2 L322.2 306.2 L323 306.2 L323.7 306.2 L324.5 306.2 L325.2 306.2 L326 306.2 L326.7 306.2 L327.5 306.2 L328.2 306.2 L329 306.2 L329.7 306.2 L330.5 306.2 L331.2 306.2 L332 306.2 L332.8 306.2 L333.5 306.2 L334.3 306.2 L335 306.2 L335.8 306.2 L336.5 306.2 L337.3 306.2 L338 306.2 L338.8 306.2 L339.5 306.2 L340.3 306.2 L340.3 306.2 Z" fill="#86c2ee" fill-opacity="0.7"/>
<path d="M296.6 305.4 L297.3 304.8 L298.1 303.9 L298.8 302.1 L299.6 299.4 L300.3 296.7 L301.1 292.6 L301.8 287.2 L302.6 280.6 L303.3 280.1 L304.1 277.1 L304.8 275.7 L305.6 281.6 L306.4 284.6 L307.1 286.8 L307.9 292.4 L308.6 297.3 L309.4 300.9 L310.1 302.3 L310.9 303.9 L311.6 304.7 L312.4 305.1 L313.1 305.4" fill="none" stroke="#2c80c8" stroke-width="0.7" stroke-opacity="0.85"/>
<path d="M287.5 306.2 L287.5 305.9 L288.3 305.7 L289 305.4 L289.8 305.2 L290.5 305 L291.3 305.1 L292 305.1 L292.8 305 L293.5 305.2 L294.3 305.3 L295 305.5 L295.8 305.6 L296.6 305.6 L297.3 305.6 L298.1 305.2 L298.8 304.7 L299.6 303.7 L300.3 301.7 L301.1 298.8 L301.8 295.4 L302.6 287.7 L303.3 283.1 L304.1 276.2 L304.8 276.5 L305.6 275.4 L306.4 279.5 L307.1 283.8 L307.9 284.2 L308.6 289.4 L309.4 295.1 L310.1 297.6 L310.9 300.5 L311.6 302.9 L312.4 303.9 L313.1 304.6 L313.9 305.1 L314.7 305.4 L315.4 305.6 L316.2 305.7 L316.9 305.8 L317.7 305.9 L318.4 305.9 L319.2 306 L319.9 306 L320.7 306.1 L321.4 306.1 L322.2 306.1 L323 306.1 L323.7 306.2 L324.5 306.2 L325.2 306.2 L326 306.2 L326.7 306.2 L327.5 306.2 L328.2 306.2 L329 306.2 L329.7 306.2 L330.5 306.2 L331.2 306.2 L332 306.2 L332.8 306.2 L333.5 306.2 L334.3 306.2 L335 306.2 L335.8 306.2 L336.5 306.2 L337.3 306.2 L338 306.2 L338.8 306.2 L339.5 306.2 L340.3 306.2 L340.3 306.2 Z" fill="#f2b2bd" fill-opacity="0.9"/>
<path d="M289.8 305.2 L290.5 305 L291.3 305.1 L292 305.1 L292.8 305 L293.5 305.2 L294.3 305.3 L295 305.5 L295.8 305.6 L296.6 305.6 L297.3 305.6 L298.1 305.2 L298.8 304.7 L299.6 303.7 L300.3 301.7 L301.1 298.8 L301.8 295.4 L302.6 287.7 L303.3 283.1 L304.1 276.2 L304.8 276.5 L305.6 275.4 L306.4 279.5 L307.1 283.8 L307.9 284.2 L308.6 289.4 L309.4 295.1 L310.1 297.6 L310.9 300.5 L311.6 302.9 L312.4 303.9 L313.1 304.6 L313.9 305.1" fill="none" stroke="#b83c4e" stroke-width="0.7" stroke-opacity="0.85"/>
<line x1="287.5" y1="263.6" x2="287.5" y2="306.2" stroke="#a8a8a8" stroke-width="0.8"/>
<line x1="287.5" y1="306.2" x2="340.3" y2="306.2" stroke="#b0b0b0" stroke-width="0.8"/>
<line x1="287.5" y1="306.2" x2="287.5" y2="307.4" stroke="#666" stroke-width="0.6"/>
<text x="287.5" y="308.7" font-size="2.5" text-anchor="middle" font-weight="bold" fill="#222" stroke="#222" stroke-width="0.1">0</text>
<line x1="300.7" y1="306.2" x2="300.7" y2="307.4" stroke="#666" stroke-width="0.6"/>
<text x="300.7" y="308.7" font-size="2.5" text-anchor="middle" font-weight="bold" fill="#222" stroke="#222" stroke-width="0.1">10</text>
<line x1="313.9" y1="306.2" x2="313.9" y2="307.4" stroke="#666" stroke-width="0.6"/>
<text x="313.9" y="308.7" font-size="2.5" text-anchor="middle" font-weight="bold" fill="#222" stroke="#222" stroke-width="0.1">10</text>
<line x1="327.1" y1="306.2" x2="327.1" y2="307.4" stroke="#666" stroke-width="0.6"/>
<text x="327.1" y="308.7" font-size="2.5" text-anchor="middle" font-weight="bold" fill="#222" stroke="#222" stroke-width="0.1">10</text>
<line x1="340.3" y1="306.2" x2="340.3" y2="307.4" stroke="#666" stroke-width="0.6"/>
<text x="340.3" y="308.7" font-size="2.5" text-anchor="middle" font-weight="bold" fill="#222" stroke="#222" stroke-width="0.1">10</text>
<line x1="286.3" y1="306.2" x2="287.5" y2="306.2" stroke="#666" stroke-width="0.6"/>
<text x="286" y="307.2" font-size="2.9" text-anchor="end" font-weight="bold" fill="#111" stroke="#111" stroke-width="0.2">0</text>
<line x1="286.3" y1="295.55" x2="287.5" y2="295.55" stroke="#666" stroke-width="0.6"/>
<text x="286" y="296.55" font-size="2.9" text-anchor="end" font-weight="bold" fill="#111" stroke="#111" stroke-width="0.2">50</text>
<line x1="286.3" y1="284.9" x2="287.5" y2="284.9" stroke="#666" stroke-width="0.6"/>
<text x="286" y="285.9" font-size="2.9" text-anchor="end" font-weight="bold" fill="#111" stroke="#111" stroke-width="0.2">100</text>
<line x1="286.3" y1="274.25" x2="287.5" y2="274.25" stroke="#666" stroke-width="0.6"/>
<text x="286" y="275.25" font-size="2.9" text-anchor="end" font-weight="bold" fill="#111" stroke="#111" stroke-width="0.2">150</text>
<line x1="286.3" y1="263.6" x2="287.5" y2="263.6" stroke="#666" stroke-width="0.6"/>
<text x="286" y="264.6" font-size="2.9" text-anchor="end" font-weight="bold" fill="#111" stroke="#111" stroke-width="0.2">200</text>
<rect x="345.2" y="210" width="52.8" height="42.4" fill="#fff" stroke="#c0c0c0" stroke-width="1.0"/>
<path d="M345.2 252.4 L345.2 252.3 L346 252.3 L346.7 252.2 L347.5 252.1 L348.2 252 L349 251.8 L349.7 251.3 L350.5 250.2 L351.2 248.5 L352 244.6 L352.7 241.4 L353.5 233.6 L354.3 229.9 L355 227.7 L355.8 225.9 L356.5 231.5 L357.3 236.3 L358 244.1 L358.8 247.9 L359.5 250.5 L360.3 251.5 L361 251.9 L361.8 252 L362.5 252.2 L363.3 252.2 L364.1 252.3 L364.8 252.3 L365.6 252.4 L366.3 252.4 L367.1 252.4 L367.8 252.4 L368.6 252.4 L369.3 252.4 L370.1 252.4 L370.8 252.4 L371.6 252.4 L372.4 252.4 L373.1 252.4 L373.9 252.4 L374.6 252.4 L375.4 252.4 L376.1 252.4 L376.9 252.4 L377.6 252.4 L378.4 252.4 L379.1 252.4 L379.9 252.4 L380.7 252.4 L381.4 252.4 L382.2 252.4 L382.9 252.4 L383.7 252.4 L384.4 252.4 L385.2 252.4 L385.9 252.4 L386.7 252.4 L387.4 252.4 L388.2 252.4 L388.9 252.4 L389.7 252.4 L390.5 252.4 L391.2 252.4 L392 252.4 L392.7 252.4 L393.5 252.4 L394.2 252.4 L395 252.4 L395.7 252.4 L396.5 252.4 L397.2 252.4 L398 252.4 L398 252.4 Z" fill="#86c2ee" fill-opacity="0.7"/>
<path d="M349 251.8 L349.7 251.3 L350.5 250.2 L351.2 248.5 L352 244.6 L352.7 241.4 L353.5 233.6 L354.3 229.9 L355 227.7 L355.8 225.9 L356.5 231.5 L357.3 236.3 L358 244.1 L358.8 247.9 L359.5 250.5 L360.3 251.5" fill="none" stroke="#2c80c8" stroke-width="0.7" stroke-opacity="0.85"/>
<path d="M345.2 252.4 L345.2 252.4 L346 252.4 L346.7 252.4 L347.5 252.4 L348.2 252.4 L349 252.4 L349.7 252.3 L350.5 252.3 L351.2 252.2 L352 252.2 L352.7 252 L353.5 251.6 L354.3 251 L355 249.1 L355.8 246.1 L356.5 240.4 L357.3 234.6 L358 226.6 L358.8 220 L359.5 221.4 L360.3 225.9 L361 226.2 L361.8 232.7 L362.5 239.9 L363.3 244.8 L364.1 246.9 L364.8 249.3 L365.6 250.8 L366.3 251.3 L367.1 251.7 L367.8 251.8 L368.6 252 L369.3 252 L370.1 252.1 L370.8 252.2 L371.6 252.2 L372.4 252.3 L373.1 252.3 L373.9 252.3 L374.6 252.4 L375.4 252.4 L376.1 252.4 L376.9 252.4 L377.6 252.4 L378.4 252.4 L379.1 252.4 L379.9 252.4 L380.7 252.4 L381.4 252.4 L382.2 252.4 L382.9 252.4 L383.7 252.4 L384.4 252.4 L385.2 252.4 L385.9 252.4 L386.7 252.4 L387.4 252.4 L388.2 252.4 L388.9 252.4 L389.7 252.4 L390.5 252.4 L391.2 252.4 L392 252.4 L392.7 252.4 L393.5 252.4 L394.2 252.4 L395 252.4 L395.7 252.4 L396.5 252.4 L397.2 252.4 L398 252.4 L398 252.4 Z" fill="#f2b2bd" fill-opacity="0.9"/>
<path d="M353.5 251.6 L354.3 251 L355 249.1 L355.8 246.1 L356.5 240.4 L357.3 234.6 L358 226.6 L358.8 220 L359.5 221.4 L360.3 225.9 L361 226.2 L361.8 232.7 L362.5 239.9 L363.3 244.8 L364.1 246.9 L364.8 249.3 L365.6 250.8 L366.3 251.3 L367.1 251.7" fill="none" stroke="#b83c4e" stroke-width="0.7" stroke-opacity="0.85"/>
<line x1="345.2" y1="210" x2="345.2" y2="252.4" stroke="#a8a8a8" stroke-width="0.8"/>
<line x1="345.2" y1="252.4" x2="398" y2="252.4" stroke="#b0b0b0" stroke-width="0.8"/>
<line x1="345.2" y1="252.4" x2="345.2" y2="253.6" stroke="#666" stroke-width="0.6"/>
<text x="345.2" y="254.9" font-size="2.5" text-anchor="middle" font-weight="bold" fill="#222" stroke="#222" stroke-width="0.1">0</text>
<line x1="358.4" y1="252.4" x2="358.4" y2="253.6" stroke="#666" stroke-width="0.6"/>
<text x="358.4" y="254.9" font-size="2.5" text-anchor="middle" font-weight="bold" fill="#222" stroke="#222" stroke-width="0.1">10</text>
<line x1="371.6" y1="252.4" x2="371.6" y2="253.6" stroke="#666" stroke-width="0.6"/>
<text x="371.6" y="254.9" font-size="2.5" text-anchor="middle" font-weight="bold" fill="#222" stroke="#222" stroke-width="0.1">10</text>
<line x1="384.8" y1="252.4" x2="384.8" y2="253.6" stroke="#666" stroke-width="0.6"/>
<text x="384.8" y="254.9" font-size="2.5" text-anchor="middle" font-weight="bold" fill="#222" stroke="#222" stroke-width="0.1">10</text>
<line x1="398" y1="252.4" x2="398" y2="253.6" stroke="#666" stroke-width="0.6"/>
<text x="398" y="254.9" font-size="2.5" text-anchor="middle" font-weight="bold" fill="#222" stroke="#222" stroke-width="0.1">10</text>
<line x1="344" y1="252.4" x2="345.2" y2="252.4" stroke="#666" stroke-width="0.6"/>
<line x1="344" y1="241.8" x2="345.2" y2="241.8" stroke="#666" stroke-width="0.6"/>
<line x1="344" y1="231.2" x2="345.2" y2="231.2" stroke="#666" stroke-width="0.6"/>
<line x1="344" y1="220.6" x2="345.2" y2="220.6" stroke="#666" stroke-width="0.6"/>
<line x1="344" y1="210" x2="345.2" y2="210" stroke="#666" stroke-width="0.6"/>
<rect x="345.2" y="263.6" width="52.8" height="42.6" fill="#fff" stroke="#c0c0c0" stroke-width="1.0"/>
<path d="M345.2 306.2 L345.2 306.2 L346 306.1 L346.7 306.1 L347.5 306.1 L348.2 306 L349 305.9 L349.7 305.8 L350.5 305.5 L351.2 305 L352 303.6 L352.7 302 L353.5 298.2 L354.3 294.1 L355 287.4 L355.8 283.7 L356.5 280.1 L357.3 283.4 L358 285 L358.8 291.2 L359.5 297.1 L360.3 300.9 L361 303.4 L361.8 305 L362.5 305.5 L363.3 305.7 L364.1 305.9 L364.8 306 L365.6 306 L366.3 306.1 L367.1 306.1 L367.8 306.1 L368.6 306.2 L369.3 306.2 L370.1 306.2 L370.8 306.2 L371.6 306.2 L372.4 306.2 L373.1 306.2 L373.9 306.2 L374.6 306.2 L375.4 306.2 L376.1 306.2 L376.9 306.2 L377.6 306.2 L378.4 306.2 L379.1 306.2 L379.9 306.2 L380.7 306.2 L381.4 306.2 L382.2 306.2 L382.9 306.2 L383.7 306.2 L384.4 306.2 L385.2 306.2 L385.9 306.2 L386.7 306.2 L387.4 306.2 L388.2 306.2 L388.9 306.2 L389.7 306.2 L390.5 306.2 L391.2 306.2 L392 306.2 L392.7 306.2 L393.5 306.2 L394.2 306.2 L395 306.2 L395.7 306.2 L396.5 306.2 L397.2 306.2 L398 306.2 L398 306.2 Z" fill="#86c2ee" fill-opacity="0.7"/>
<path d="M350.5 305.5 L351.2 305 L352 303.6 L352.7 302 L353.5 298.2 L354.3 294.1 L355 287.4 L355.8 283.7 L356.5 280.1 L357.3 283.4 L358 285 L358.8 291.2 L359.5 297.1 L360.3 300.9 L361 303.4 L361.8 305 L362.5 305.5" fill="none" stroke="#2c80c8" stroke-width="0.7" stroke-opacity="0.85"/>
<path d="M345.2 306.2 L345.2 306.2 L346 306.2 L346.7 306.2 L347.5 306.2 L348.2 306.2 L349 306.2 L349.7 306.2 L350.5 306.2 L351.2 306.2 L352 306.2 L352.7 306.2 L353.5 306.1 L354.3 306.1 L355 306 L355.8 305.8 L356.5 305.5 L357.3 304.8 L358 303 L358.8 298.9 L359.5 291.2 L360.3 284.5 L361 274.4 L361.8 276.2 L362.5 277.3 L363.3 280.5 L364.1 290.8 L364.8 296.4 L365.6 299.9 L366.3 302.9 L367.1 304.1 L367.8 305.1 L368.6 305.4 L369.3 305.6 L370.1 305.8 L370.8 305.9 L371.6 306 L372.4 306 L373.1 306.1 L373.9 306.1 L374.6 306.1 L375.4 306.2 L376.1 306.2 L376.9 306.2 L377.6 306.2 L378.4 306.2 L379.1 306.2 L379.9 306.2 L380.7 306.2 L381.4 306.2 L382.2 306.2 L382.9 306.2 L383.7 306.2 L384.4 306.2 L385.2 306.2 L385.9 306.2 L386.7 306.2 L387.4 306.2 L388.2 306.2 L388.9 306.2 L389.7 306.2 L390.5 306.2 L391.2 306.2 L392 306.2 L392.7 306.2 L393.5 306.2 L394.2 306.2 L395 306.2 L395.7 306.2 L396.5 306.2 L397.2 306.2 L398 306.2 L398 306.2 Z" fill="#f2b2bd" fill-opacity="0.9"/>
<path d="M356.5 305.5 L357.3 304.8 L358 303 L358.8 298.9 L359.5 291.2 L360.3 284.5 L361 274.4 L361.8 276.2 L362.5 277.3 L363.3 280.5 L364.1 290.8 L364.8 296.4 L365.6 299.9 L366.3 302.9 L367.1 304.1 L367.8 305.1" fill="none" stroke="#b83c4e" stroke-width="0.7" stroke-opacity="0.85"/>
<line x1="345.2" y1="263.6" x2="345.2" y2="306.2" stroke="#a8a8a8" stroke-width="0.8"/>
<line x1="345.2" y1="306.2" x2="398" y2="306.2" stroke="#b0b0b0" stroke-width="0.8"/>
<line x1="345.2" y1="306.2" x2="345.2" y2="307.4" stroke="#666" stroke-width="0.6"/>
<text x="345.2" y="308.7" font-size="2.5" text-anchor="middle" font-weight="bold" fill="#222" stroke="#222" stroke-width="0.1">0</text>
<line x1="358.4" y1="306.2" x2="358.4" y2="307.4" stroke="#666" stroke-width="0.6"/>
<text x="358.4" y="308.7" font-size="2.5" text-anchor="middle" font-weight="bold" fill="#222" stroke="#222" stroke-width="0.1">10</text>
<line x1="371.6" y1="306.2" x2="371.6" y2="307.4" stroke="#666" stroke-width="0.6"/>
<text x="371.6" y="308.7" font-size="2.5" text-anchor="middle" font-weight="bold" fill="#222" stroke="#222" stroke-width="0.1">10</text>
<line x1="384.8" y1="306.2" x2="384.8" y2="307.4" stroke="#666" stroke-width="0.6"/>
<text x="384.8" y="308.7" font-size="2.5" text-anchor="middle" font-weight="bold" fill="#222" stroke="#222" stroke-width="0.1">10</text>
<line x1="398" y1="306.2" x2="398" y2="307.4" stroke="#666" stroke-width="0.6"/>
<text x="398" y="308.7" font-size="2.5" text-anchor="middle" font-weight="bold" fill="#222" stroke="#222" stroke-width="0.1">10</text>
<line x1="344" y1="306.2" x2="345.2" y2="306.2" stroke="#666" stroke-width="0.6"/>
<line x1="344" y1="295.55" x2="345.2" y2="295.55" stroke="#666" stroke-width="0.6"/>
<line x1="344" y1="284.9" x2="345.2" y2="284.9" stroke="#666" stroke-width="0.6"/>
<line x1="344" y1="274.25" x2="345.2" y2="274.25" stroke="#666" stroke-width="0.6"/>
<line x1="344" y1="263.6" x2="345.2" y2="263.6" stroke="#666" stroke-width="0.6"/>
<rect x="404.2" y="210" width="52.8" height="42.4" fill="#fff" stroke="#c0c0c0" stroke-width="1.0"/>
<path d="M404.2 252.4 L404.2 252.3 L405 252.3 L405.7 252.2 L406.5 252.2 L407.2 252.1 L408 251.9 L408.7 251.7 L409.5 251.3 L410.2 250.7 L411 249.5 L411.7 247.5 L412.5 244.9 L413.3 241.7 L414 236.9 L414.8 228.8 L415.5 225.2 L416.3 224.2 L417 217.9 L417.8 223.1 L418.5 228.3 L419.3 232.5 L420 239.8 L420.8 244.3 L421.5 247.7 L422.3 250 L423.1 250.9 L423.8 251.6 L424.6 251.8 L425.3 251.9 L426.1 252.1 L426.8 252.1 L427.6 252.2 L428.3 252.3 L429.1 252.3 L429.8 252.3 L430.6 252.3 L431.4 252.4 L432.1 252.4 L432.9 252.4 L433.6 252.4 L434.4 252.4 L435.1 252.4 L435.9 252.4 L436.6 252.4 L437.4 252.4 L438.1 252.4 L438.9 252.4 L439.7 252.4 L440.4 252.4 L441.2 252.4 L441.9 252.4 L442.7 252.4 L443.4 252.4 L444.2 252.4 L444.9 252.4 L445.7 252.4 L446.4 252.4 L447.2 252.4 L447.9 252.4 L448.7 252.4 L449.5 252.4 L450.2 252.4 L451 252.4 L451.7 252.4 L452.5 252.4 L453.2 252.4 L454 252.4 L454.7 252.4 L455.5 252.4 L456.2 252.4 L457 252.4 L457 252.4 Z" fill="#86c2ee" fill-opacity="0.7"/>
<path d="M408.7 251.7 L409.5 251.3 L410.2 250.7 L411 249.5 L411.7 247.5 L412.5 244.9 L413.3 241.7 L414 236.9 L414.8 228.8 L415.5 225.2 L416.3 224.2 L417 217.9 L417.8 223.1 L418.5 228.3 L419.3 232.5 L420 239.8 L420.8 244.3 L421.5 247.7 L422.3 250 L423.1 250.9 L423.8 251.6" fill="none" stroke="#2c80c8" stroke-width="0.7" stroke-opacity="0.85"/>
<path d="M404.2 252.4 L404.2 252.4 L405 252.4 L405.7 252.3 L406.5 252.3 L407.2 252.3 L408 252.2 L408.7 252.2 L409.5 252.1 L410.2 251.9 L411 251.7 L411.7 251.1 L412.5 250.3 L413.3 249.1 L414 247.1 L414.8 243.7 L415.5 238.7 L416.3 234.6 L417 231.8 L417.8 228.7 L418.5 226 L419.3 221.8 L420 227.2 L420.8 229 L421.5 234.6 L422.3 238.1 L423.1 243 L423.8 246.5 L424.6 248.1 L425.3 249.9 L426.1 250.8 L426.8 251.3 L427.6 251.6 L428.3 251.9 L429.1 252 L429.8 252.1 L430.6 252.1 L431.4 252.2 L432.1 252.2 L432.9 252.3 L433.6 252.3 L434.4 252.3 L435.1 252.3 L435.9 252.4 L436.6 252.4 L437.4 252.4 L438.1 252.4 L438.9 252.4 L439.7 252.4 L440.4 252.4 L441.2 252.4 L441.9 252.4 L442.7 252.4 L443.4 252.4 L444.2 252.4 L444.9 252.4 L445.7 252.4 L446.4 252.4 L447.2 252.4 L447.9 252.4 L448.7 252.4 L449.5 252.4 L450.2 252.4 L451 252.4 L451.7 252.4 L452.5 252.4 L453.2 252.4 L454 252.4 L454.7 252.4 L455.5 252.4 L456.2 252.4 L457 252.4 L457 252.4 Z" fill="#f2b2bd" fill-opacity="0.9"/>
<path d="M411 251.7 L411.7 251.1 L412.5 250.3 L413.3 249.1 L414 247.1 L414.8 243.7 L415.5 238.7 L416.3 234.6 L417 231.8 L417.8 228.7 L418.5 226 L419.3 221.8 L420 227.2 L420.8 229 L421.5 234.6 L422.3 238.1 L423.1 243 L423.8 246.5 L424.6 248.1 L425.3 249.9 L426.1 250.8 L426.8 251.3 L427.6 251.6" fill="none" stroke="#b83c4e" stroke-width="0.7" stroke-opacity="0.85"/>
<line x1="404.2" y1="210" x2="404.2" y2="252.4" stroke="#a8a8a8" stroke-width="0.8"/>
<line x1="404.2" y1="252.4" x2="457" y2="252.4" stroke="#b0b0b0" stroke-width="0.8"/>
<line x1="404.2" y1="252.4" x2="404.2" y2="253.6" stroke="#666" stroke-width="0.6"/>
<text x="404.2" y="254.9" font-size="2.5" text-anchor="middle" font-weight="bold" fill="#222" stroke="#222" stroke-width="0.1">0</text>
<line x1="417.4" y1="252.4" x2="417.4" y2="253.6" stroke="#666" stroke-width="0.6"/>
<text x="417.4" y="254.9" font-size="2.5" text-anchor="middle" font-weight="bold" fill="#222" stroke="#222" stroke-width="0.1">10</text>
<line x1="430.6" y1="252.4" x2="430.6" y2="253.6" stroke="#666" stroke-width="0.6"/>
<text x="430.6" y="254.9" font-size="2.5" text-anchor="middle" font-weight="bold" fill="#222" stroke="#222" stroke-width="0.1">10</text>
<line x1="443.8" y1="252.4" x2="443.8" y2="253.6" stroke="#666" stroke-width="0.6"/>
<text x="443.8" y="254.9" font-size="2.5" text-anchor="middle" font-weight="bold" fill="#222" stroke="#222" stroke-width="0.1">10</text>
<line x1="457" y1="252.4" x2="457" y2="253.6" stroke="#666" stroke-width="0.6"/>
<text x="457" y="254.9" font-size="2.5" text-anchor="middle" font-weight="bold" fill="#222" stroke="#222" stroke-width="0.1">10</text>
<line x1="403" y1="252.4" x2="404.2" y2="252.4" stroke="#666" stroke-width="0.6"/>
<line x1="403" y1="241.8" x2="404.2" y2="241.8" stroke="#666" stroke-width="0.6"/>
<line x1="403" y1="231.2" x2="404.2" y2="231.2" stroke="#666" stroke-width="0.6"/>
<line x1="403" y1="220.6" x2="404.2" y2="220.6" stroke="#666" stroke-width="0.6"/>
<line x1="403" y1="210" x2="404.2" y2="210" stroke="#666" stroke-width="0.6"/>
<rect x="404.2" y="263.6" width="52.8" height="42.6" fill="#fff" stroke="#c0c0c0" stroke-width="1.0"/>
<path d="M404.2 306.2 L404.2 306.2 L405 306.1 L405.7 306.1 L406.5 306.1 L407.2 306.1 L408 306 L408.7 305.9 L409.5 305.8 L410.2 305.6 L411 305.3 L411.7 304.7 L412.5 303.7 L413.3 302.1 L414 299.5 L414.8 296.3 L415.5 292 L416.3 284.7 L417 278.5 L417.8 273.1 L418.5 271.9 L419.3 274.3 L420 275.9 L420.8 283.9 L421.5 292.5 L422.3 298.3 L423.1 302.4 L423.8 304.2 L424.6 305.1 L425.3 305.5 L426.1 305.7 L426.8 305.8 L427.6 305.9 L428.3 306 L429.1 306.1 L429.8 306.1 L430.6 306.1 L431.4 306.2 L432.1 306.2 L432.9 306.2 L433.6 306.2 L434.4 306.2 L435.1 306.2 L435.9 306.2 L436.6 306.2 L437.4 306.2 L438.1 306.2 L438.9 306.2 L439.7 306.2 L440.4 306.2 L441.2 306.2 L441.9 306.2 L442.7 306.2 L443.4 306.2 L444.2 306.2 L444.9 306.2 L445.7 306.2 L446.4 306.2 L447.2 306.2 L447.9 306.2 L448.7 306.2 L449.5 306.2 L450.2 306.2 L451 306.2 L451.7 306.2 L452.5 306.2 L453.2 306.2 L454 306.2 L454.7 306.2 L455.5 306.2 L456.2 306.2 L457 306.2 L457 306.2 Z" fill="#86c2ee" fill-opacity="0.7"/>
<path d="M411 305.3 L411.7 304.7 L412.5 303.7 L413.3 302.1 L414 299.5 L414.8 296.3 L415.5 292 L416.3 284.7 L417 278.5 L417.8 273.1 L418.5 271.9 L419.3 274.3 L420 275.9 L420.8 283.9 L421.5 292.5 L422.3 298.3 L423.1 302.4 L423.8 304.2 L424.6 305.1 L425.3 305.5" fill="none" stroke="#2c80c8" stroke-width="0.7" stroke-opacity="0.85"/>
<path d="M404.2 306.2 L404.2 306.2 L405 306.2 L405.7 306.2 L406.5 306.2 L407.2 306.2 L408 306.2 L408.7 306.2 L409.5 306.2 L410.2 306.2 L411 306.2 L411.7 306.1 L412.5 306.1 L413.3 306 L414 306 L414.8 305.8 L415.5 305.6 L416.3 305.2 L417 304.2 L417.8 302.6 L418.5 299.1 L419.3 295.4 L420 288.5 L420.8 278.6 L421.5 271.7 L422.3 269.1 L423.1 266.9 L423.8 272.8 L424.6 280.2 L425.3 285.1 L426.1 292.7 L426.8 296.5 L427.6 300.7 L428.3 302.8 L429.1 304.1 L429.8 305 L430.6 305.3 L431.4 305.6 L432.1 305.6 L432.9 305.8 L433.6 305.8 L434.4 306 L435.1 306 L435.9 306.1 L436.6 306.1 L437.4 306.1 L438.1 306.2 L438.9 306.2 L439.7 306.2 L440.4 306.2 L441.2 306.2 L441.9 306.2 L442.7 306.2 L443.4 306.2 L444.2 306.2 L444.9 306.2 L445.7 306.2 L446.4 306.2 L447.2 306.2 L447.9 306.2 L448.7 306.2 L449.5 306.2 L450.2 306.2 L451 306.2 L451.7 306.2 L452.5 306.2 L453.2 306.2 L454 306.2 L454.7 306.2 L455.5 306.2 L456.2 306.2 L457 306.2 L457 306.2 Z" fill="#f2b2bd" fill-opacity="0.9"/>
<path d="M416.3 305.2 L417 304.2 L417.8 302.6 L418.5 299.1 L419.3 295.4 L420 288.5 L420.8 278.6 L421.5 271.7 L422.3 269.1 L423.1 266.9 L423.8 272.8 L424.6 280.2 L425.3 285.1 L426.1 292.7 L426.8 296.5 L427.6 300.7 L428.3 302.8 L429.1 304.1 L429.8 305 L430.6 305.3" fill="none" stroke="#b83c4e" stroke-width="0.7" stroke-opacity="0.85"/>
<line x1="404.2" y1="263.6" x2="404.2" y2="306.2" stroke="#a8a8a8" stroke-width="0.8"/>
<line x1="404.2" y1="306.2" x2="457" y2="306.2" stroke="#b0b0b0" stroke-width="0.8"/>
<line x1="404.2" y1="306.2" x2="404.2" y2="307.4" stroke="#666" stroke-width="0.6"/>
<text x="404.2" y="308.7" font-size="2.5" text-anchor="middle" font-weight="bold" fill="#222" stroke="#222" stroke-width="0.1">0</text>
<line x1="417.4" y1="306.2" x2="417.4" y2="307.4" stroke="#666" stroke-width="0.6"/>
<text x="417.4" y="308.7" font-size="2.5" text-anchor="middle" font-weight="bold" fill="#222" stroke="#222" stroke-width="0.1">10</text>
<line x1="430.6" y1="306.2" x2="430.6" y2="307.4" stroke="#666" stroke-width="0.6"/>
<text x="430.6" y="308.7" font-size="2.5" text-anchor="middle" font-weight="bold" fill="#222" stroke="#222" stroke-width="0.1">10</text>
<line x1="443.8" y1="306.2" x2="443.8" y2="307.4" stroke="#666" stroke-width="0.6"/>
<text x="443.8" y="308.7" font-size="2.5" text-anchor="middle" font-weight="bold" fill="#222" stroke="#222" stroke-width="0.1">10</text>
<line x1="457" y1="306.2" x2="457" y2="307.4" stroke="#666" stroke-width="0.6"/>
<text x="457" y="308.7" font-size="2.5" text-anchor="middle" font-weight="bold" fill="#222" stroke="#222" stroke-width="0.1">10</text>
<line x1="403" y1="306.2" x2="404.2" y2="306.2" stroke="#666" stroke-width="0.6"/>
<line x1="403" y1="295.55" x2="404.2" y2="295.55" stroke="#666" stroke-width="0.6"/>
<line x1="403" y1="284.9" x2="404.2" y2="284.9" stroke="#666" stroke-width="0.6"/>
<line x1="403" y1="274.25" x2="404.2" y2="274.25" stroke="#666" stroke-width="0.6"/>
<line x1="403" y1="263.6" x2="404.2" y2="263.6" stroke="#666" stroke-width="0.6"/>
<rect x="462.6" y="210" width="52.8" height="42.4" fill="#fff" stroke="#c0c0c0" stroke-width="1.0"/>
<path d="M462.6 252.4 L462.6 252.4 L463.4 252.4 L464.1 252.4 L464.9 252.4 L465.6 252.3 L466.4 252.3 L467.1 252.2 L467.9 252.2 L468.6 252.1 L469.4 251.9 L470.1 251.6 L470.9 250.9 L471.7 249.6 L472.4 247.5 L473.2 242.1 L473.9 237 L474.7 230.4 L475.4 222.8 L476.2 213 L476.9 210 L477.7 218.2 L478.4 225 L479.2 229 L479.9 238.6 L480.7 242.9 L481.5 247.5 L482.2 249.6 L483 250.9 L483.7 251.3 L484.5 251.7 L485.2 251.9 L486 252 L486.7 252.1 L487.5 252.2 L488.2 252.2 L489 252.3 L489.8 252.3 L490.5 252.3 L491.3 252.4 L492 252.4 L492.8 252.4 L493.5 252.4 L494.3 252.4 L495 252.4 L495.8 252.4 L496.5 252.4 L497.3 252.4 L498.1 252.4 L498.8 252.4 L499.6 252.4 L500.3 252.4 L501.1 252.4 L501.8 252.4 L502.6 252.4 L503.3 252.4 L504.1 252.4 L504.8 252.4 L505.6 252.4 L506.3 252.4 L507.1 252.4 L507.9 252.4 L508.6 252.4 L509.4 252.4 L510.1 252.4 L510.9 252.4 L511.6 252.4 L512.4 252.4 L513.1 252.4 L513.9 252.4 L514.6 252.4 L515.4 252.4 L515.4 252.4 Z" fill="#86c2ee" fill-opacity="0.7"/>
<path d="M470.1 251.6 L470.9 250.9 L471.7 249.6 L472.4 247.5 L473.2 242.1 L473.9 237 L474.7 230.4 L475.4 222.8 L476.2 213 L476.9 210 L477.7 218.2 L478.4 225 L479.2 229 L479.9 238.6 L480.7 242.9 L481.5 247.5 L482.2 249.6 L483 250.9 L483.7 251.3 L484.5 251.7" fill="none" stroke="#2c80c8" stroke-width="0.7" stroke-opacity="0.85"/>
<path d="M462.6 252.4 L462.6 252.2 L463.4 252.1 L464.1 251.8 L464.9 251.6 L465.6 251.2 L466.4 251 L467.1 251.1 L467.9 251 L468.6 251.1 L469.4 251.3 L470.1 251.2 L470.9 250.7 L471.7 248.9 L472.4 247.1 L473.2 241.3 L473.9 237.1 L474.7 227.7 L475.4 224.6 L476.2 220.3 L476.9 216.4 L477.7 223.3 L478.4 227 L479.2 230.8 L479.9 238 L480.7 242.9 L481.5 246.5 L482.2 249.5 L483 250.6 L483.7 251.1 L484.5 251.5 L485.2 251.8 L486 251.9 L486.7 252 L487.5 252.1 L488.2 252.2 L489 252.2 L489.8 252.3 L490.5 252.3 L491.3 252.3 L492 252.4 L492.8 252.4 L493.5 252.4 L494.3 252.4 L495 252.4 L495.8 252.4 L496.5 252.4 L497.3 252.4 L498.1 252.4 L498.8 252.4 L499.6 252.4 L500.3 252.4 L501.1 252.4 L501.8 252.4 L502.6 252.4 L503.3 252.4 L504.1 252.4 L504.8 252.4 L505.6 252.4 L506.3 252.4 L507.1 252.4 L507.9 252.4 L508.6 252.4 L509.4 252.4 L510.1 252.4 L510.9 252.4 L511.6 252.4 L512.4 252.4 L513.1 252.4 L513.9 252.4 L514.6 252.4 L515.4 252.4 L515.4 252.4 Z" fill="#f2b2bd" fill-opacity="0.9"/>
<path d="M464.9 251.6 L465.6 251.2 L466.4 251 L467.1 251.1 L467.9 251 L468.6 251.1 L469.4 251.3 L470.1 251.2 L470.9 250.7 L471.7 248.9 L472.4 247.1 L473.2 241.3 L473.9 237.1 L474.7 227.7 L475.4 224.6 L476.2 220.3 L476.9 216.4 L477.7 223.3 L478.4 227 L479.2 230.8 L479.9 238 L480.7 242.9 L481.5 246.5 L482.2 249.5 L483 250.6 L483.7 251.1 L484.5 251.5" fill="none" stroke="#b83c4e" stroke-width="0.7" stroke-opacity="0.85"/>
<line x1="462.6" y1="210" x2="462.6" y2="252.4" stroke="#a8a8a8" stroke-width="0.8"/>
<line x1="462.6" y1="252.4" x2="515.4" y2="252.4" stroke="#b0b0b0" stroke-width="0.8"/>
<line x1="462.6" y1="252.4" x2="462.6" y2="253.6" stroke="#666" stroke-width="0.6"/>
<text x="462.6" y="254.9" font-size="2.5" text-anchor="middle" font-weight="bold" fill="#222" stroke="#222" stroke-width="0.1">0</text>
<line x1="475.8" y1="252.4" x2="475.8" y2="253.6" stroke="#666" stroke-width="0.6"/>
<text x="475.8" y="254.9" font-size="2.5" text-anchor="middle" font-weight="bold" fill="#222" stroke="#222" stroke-width="0.1">10</text>
<line x1="489" y1="252.4" x2="489" y2="253.6" stroke="#666" stroke-width="0.6"/>
<text x="489" y="254.9" font-size="2.5" text-anchor="middle" font-weight="bold" fill="#222" stroke="#222" stroke-width="0.1">10</text>
<line x1="502.2" y1="252.4" x2="502.2" y2="253.6" stroke="#666" stroke-width="0.6"/>
<text x="502.2" y="254.9" font-size="2.5" text-anchor="middle" font-weight="bold" fill="#222" stroke="#222" stroke-width="0.1">10</text>
<line x1="515.4" y1="252.4" x2="515.4" y2="253.6" stroke="#666" stroke-width="0.6"/>
<text x="515.4" y="254.9" font-size="2.5" text-anchor="middle" font-weight="bold" fill="#222" stroke="#222" stroke-width="0.1">10</text>
<line x1="461.4" y1="252.4" x2="462.6" y2="252.4" stroke="#666" stroke-width="0.6"/>
<line x1="461.4" y1="241.8" x2="462.6" y2="241.8" stroke="#666" stroke-width="0.6"/>
<line x1="461.4" y1="231.2" x2="462.6" y2="231.2" stroke="#666" stroke-width="0.6"/>
<line x1="461.4" y1="220.6" x2="462.6" y2="220.6" stroke="#666" stroke-width="0.6"/>
<line x1="461.4" y1="210" x2="462.6" y2="210" stroke="#666" stroke-width="0.6"/>
<rect x="462.6" y="263.6" width="52.8" height="42.6" fill="#fff" stroke="#c0c0c0" stroke-width="1.0"/>
<path d="M462.6 306.2 L462.6 306.2 L463.4 306.2 L464.1 306.2 L464.9 306.2 L465.6 306.2 L466.4 306.2 L467.1 306.1 L467.9 306.1 L468.6 306.1 L469.4 306 L470.1 305.9 L470.9 305.7 L471.7 305.2 L472.4 304.7 L473.2 303 L473.9 299.9 L474.7 296.7 L475.4 290.2 L476.2 284.8 L476.9 280.2 L477.7 277.8 L478.4 279 L479.2 279 L479.9 285.6 L480.7 291.7 L481.5 298.7 L482.2 301.3 L483 303.7 L483.7 304.7 L484.5 305.3 L485.2 305.6 L486 305.7 L486.7 305.9 L487.5 305.9 L488.2 306 L489 306.1 L489.8 306.1 L490.5 306.1 L491.3 306.2 L492 306.2 L492.8 306.2 L493.5 306.2 L494.3 306.2 L495 306.2 L495.8 306.2 L496.5 306.2 L497.3 306.2 L498.1 306.2 L498.8 306.2 L499.6 306.2 L500.3 306.2 L501.1 306.2 L501.8 306.2 L502.6 306.2 L503.3 306.2 L504.1 306.2 L504.8 306.2 L505.6 306.2 L506.3 306.2 L507.1 306.2 L507.9 306.2 L508.6 306.2 L509.4 306.2 L510.1 306.2 L510.9 306.2 L511.6 306.2 L512.4 306.2 L513.1 306.2 L513.9 306.2 L514.6 306.2 L515.4 306.2 L515.4 306.2 Z" fill="#86c2ee" fill-opacity="0.7"/>
<path d="M471.7 305.2 L472.4 304.7 L473.2 303 L473.9 299.9 L474.7 296.7 L475.4 290.2 L476.2 284.8 L476.9 280.2 L477.7 277.8 L478.4 279 L479.2 279 L479.9 285.6 L480.7 291.7 L481.5 298.7 L482.2 301.3 L483 303.7 L483.7 304.7 L484.5 305.3" fill="none" stroke="#2c80c8" stroke-width="0.7" stroke-opacity="0.85"/>
<path d="M462.6 306.2 L462.6 306.2 L463.4 306.2 L464.1 306.2 L464.9 306.2 L465.6 306.2 L466.4 306.1 L467.1 306.1 L467.9 306.1 L468.6 306 L469.4 306 L470.1 305.9 L470.9 305.7 L471.7 305.4 L472.4 304.8 L473.2 304 L473.9 302 L474.7 298.2 L475.4 294.1 L476.2 289.1 L476.9 282.9 L477.7 275.6 L478.4 272.1 L479.2 275.4 L479.9 274 L480.7 279.9 L481.5 284.3 L482.2 290.7 L483 295.1 L483.7 298.9 L484.5 301.5 L485.2 303.5 L486 304.4 L486.7 304.9 L487.5 305.4 L488.2 305.6 L489 305.7 L489.8 305.8 L490.5 305.9 L491.3 305.9 L492 306 L492.8 306.1 L493.5 306.1 L494.3 306.1 L495 306.1 L495.8 306.1 L496.5 306.2 L497.3 306.2 L498.1 306.2 L498.8 306.2 L499.6 306.2 L500.3 306.2 L501.1 306.2 L501.8 306.2 L502.6 306.2 L503.3 306.2 L504.1 306.2 L504.8 306.2 L505.6 306.2 L506.3 306.2 L507.1 306.2 L507.9 306.2 L508.6 306.2 L509.4 306.2 L510.1 306.2 L510.9 306.2 L511.6 306.2 L512.4 306.2 L513.1 306.2 L513.9 306.2 L514.6 306.2 L515.4 306.2 L515.4 306.2 Z" fill="#f2b2bd" fill-opacity="0.9"/>
<path d="M471.7 305.4 L472.4 304.8 L473.2 304 L473.9 302 L474.7 298.2 L475.4 294.1 L476.2 289.1 L476.9 282.9 L477.7 275.6 L478.4 272.1 L479.2 275.4 L479.9 274 L480.7 279.9 L481.5 284.3 L482.2 290.7 L483 295.1 L483.7 298.9 L484.5 301.5 L485.2 303.5 L486 304.4 L486.7 304.9 L487.5 305.4" fill="none" stroke="#b83c4e" stroke-width="0.7" stroke-opacity="0.85"/>
<line x1="462.6" y1="263.6" x2="462.6" y2="306.2" stroke="#a8a8a8" stroke-width="0.8"/>
<line x1="462.6" y1="306.2" x2="515.4" y2="306.2" stroke="#b0b0b0" stroke-width="0.8"/>
<line x1="462.6" y1="306.2" x2="462.6" y2="307.4" stroke="#666" stroke-width="0.6"/>
<text x="462.6" y="308.7" font-size="2.5" text-anchor="middle" font-weight="bold" fill="#222" stroke="#222" stroke-width="0.1">0</text>
<line x1="475.8" y1="306.2" x2="475.8" y2="307.4" stroke="#666" stroke-width="0.6"/>
<text x="475.8" y="308.7" font-size="2.5" text-anchor="middle" font-weight="bold" fill="#222" stroke="#222" stroke-width="0.1">10</text>
<line x1="489" y1="306.2" x2="489" y2="307.4" stroke="#666" stroke-width="0.6"/>
<text x="489" y="308.7" font-size="2.5" text-anchor="middle" font-weight="bold" fill="#222" stroke="#222" stroke-width="0.1">10</text>
<line x1="502.2" y1="306.2" x2="502.2" y2="307.4" stroke="#666" stroke-width="0.6"/>
<text x="502.2" y="308.7" font-size="2.5" text-anchor="middle" font-weight="bold" fill="#222" stroke="#222" stroke-width="0.1">10</text>
<line x1="515.4" y1="306.2" x2="515.4" y2="307.4" stroke="#666" stroke-width="0.6"/>
<text x="515.4" y="308.7" font-size="2.5" text-anchor="middle" font-weight="bold" fill="#222" stroke="#222" stroke-width="0.1">10</text>
<line x1="461.4" y1="306.2" x2="462.6" y2="306.2" stroke="#666" stroke-width="0.6"/>
<line x1="461.4" y1="295.55" x2="462.6" y2="295.55" stroke="#666" stroke-width="0.6"/>
<line x1="461.4" y1="284.9" x2="462.6" y2="284.9" stroke="#666" stroke-width="0.6"/>
<line x1="461.4" y1="274.25" x2="462.6" y2="274.25" stroke="#666" stroke-width="0.6"/>
<line x1="461.4" y1="263.6" x2="462.6" y2="263.6" stroke="#666" stroke-width="0.6"/>
<text x="276.9" y="232.6" font-size="8" text-anchor="middle" font-weight="bold" transform="rotate(-90 276.9 232.6)">tTA</text>
<line x1="278.1" y1="214.6" x2="278.1" y2="249.7" stroke="#000" stroke-width="1.1"/>
<text x="276.9" y="286.3" font-size="8" text-anchor="middle" font-weight="bold" transform="rotate(-90 276.9 286.3)">Tat</text>
<line x1="278.1" y1="267.9" x2="278.1" y2="303.2" stroke="#000" stroke-width="1.1"/>
<text x="-0.1" y="337.5" font-size="12" font-weight="bold">E</text>
<text x="44.2" y="335.2" font-size="8" text-anchor="middle" stroke="#000" stroke-width="0.2">MAP2K3</text>
<line x1="18.1" y1="336.6" x2="69.6" y2="336.6" stroke="#000" stroke-width="1.1"/>
<text x="19.9" y="345.1" font-size="5.8" stroke="#000" stroke-width="0.3">siRNA</text>
<line x1="18.1" y1="346.5" x2="39.4" y2="346.5" stroke="#000" stroke-width="0.95"/>
<text x="48.9" y="345.1" font-size="5.8" stroke="#000" stroke-width="0.3">(MFI)</text>
<line x1="46" y1="346.5" x2="66.7" y2="346.5" stroke="#000" stroke-width="0.95"/>
<text x="46" y="353.6" font-size="5.8" stroke="#000" stroke-width="0.3">tTA</text>
<text x="60.2" y="353.6" font-size="5.8" stroke="#000" stroke-width="0.3">Tat</text>
<line x1="17" y1="358.8" x2="19.3" y2="358.8" stroke="#e05a6a" stroke-width="1.1"/>
<text x="21.7" y="360.7" font-size="5.8" stroke="#000" stroke-width="0.3">ns</text>
<text x="49.2" y="360.7" font-size="5.8" stroke="#000" stroke-width="0.3">18.6</text>
<text x="61.8" y="360.7" font-size="5.8" stroke="#000" stroke-width="0.3">40</text>
<line x1="17" y1="365.3" x2="19.3" y2="365.3" stroke="#6cd86c" stroke-width="1.1"/>
<text x="21.7" y="367.2" font-size="5.8" stroke="#000" stroke-width="0.3">MAP2K3</text>
<text x="45.1" y="367.2" font-size="5.8" stroke="#000" stroke-width="0.3">8.4</text>
<text x="61.8" y="367.2" font-size="5.8" stroke="#000" stroke-width="0.3">23</text>
<line x1="17" y1="371.8" x2="19.3" y2="371.8" stroke="#3a3ab0" stroke-width="1.1"/>
<text x="21.7" y="373.7" font-size="5.8" stroke="#000" stroke-width="0.3">MAP2K6</text>
<text x="45.1" y="373.7" font-size="5.8" stroke="#000" stroke-width="0.3">20.7</text>
<text x="61.8" y="373.7" font-size="5.8" stroke="#000" stroke-width="0.3">35</text>
<text x="102.9" y="335.2" font-size="8" text-anchor="middle" stroke="#000" stroke-width="0.2">MAP2K6</text>
<line x1="76.6" y1="336.6" x2="128.6" y2="336.6" stroke="#000" stroke-width="1.1"/>
<text x="78.9" y="345.1" font-size="5.8" stroke="#000" stroke-width="0.3">siRNA</text>
<line x1="76.6" y1="346.5" x2="98.4" y2="346.5" stroke="#000" stroke-width="0.95"/>
<text x="107.9" y="345.1" font-size="5.8" stroke="#000" stroke-width="0.3">(MFI)</text>
<line x1="103.8" y1="346.5" x2="125.1" y2="346.5" stroke="#000" stroke-width="0.95"/>
<text x="106.1" y="353.6" font-size="5.8" stroke="#000" stroke-width="0.3">tTA</text>
<text x="118" y="353.6" font-size="5.8" stroke="#000" stroke-width="0.3">Tat</text>
<line x1="75.4" y1="358.8" x2="78.3" y2="358.8" stroke="#e05a6a" stroke-width="1.1"/>
<text x="79.5" y="360.7" font-size="5.8" stroke="#000" stroke-width="0.3">ns</text>
<text x="106.4" y="360.7" font-size="5.8" stroke="#000" stroke-width="0.3">8.7</text>
<text x="117.9" y="360.7" font-size="5.8" stroke="#000" stroke-width="0.3">31</text>
<line x1="75.4" y1="365.3" x2="78.3" y2="365.3" stroke="#6cd86c" stroke-width="1.1"/>
<text x="79.5" y="367.2" font-size="5.8" stroke="#000" stroke-width="0.3">MAP2K3</text>
<text x="106.4" y="367.2" font-size="5.8" stroke="#000" stroke-width="0.3">7.8</text>
<text x="117.9" y="367.2" font-size="5.8" stroke="#000" stroke-width="0.3">28</text>
<line x1="75.4" y1="371.8" x2="78.3" y2="371.8" stroke="#3a3ab0" stroke-width="1.1"/>
<text x="79.5" y="373.7" font-size="5.8" stroke="#000" stroke-width="0.3">MAP2K6</text>
<text x="106.4" y="373.7" font-size="5.8" stroke="#000" stroke-width="0.3">4.9</text>
<text x="117.9" y="373.7" font-size="5.8" stroke="#000" stroke-width="0.3">18</text>
<text x="160.6" y="335.2" font-size="8" text-anchor="middle" stroke="#000" stroke-width="0.2">pp38</text>
<line x1="134.6" y1="336.6" x2="186" y2="336.6" stroke="#000" stroke-width="1.1"/>
<text x="138.7" y="345.1" font-size="5.8" stroke="#000" stroke-width="0.3">siRNA</text>
<line x1="135.1" y1="346.5" x2="157.6" y2="346.5" stroke="#000" stroke-width="0.95"/>
<text x="164.1" y="345.1" font-size="5.8" stroke="#000" stroke-width="0.3">(MFI)</text>
<line x1="162.4" y1="346.5" x2="181.9" y2="346.5" stroke="#000" stroke-width="0.95"/>
<text x="164.1" y="353.6" font-size="5.8" stroke="#000" stroke-width="0.3">tTA</text>
<text x="176.6" y="353.6" font-size="5.8" stroke="#000" stroke-width="0.3">Tat</text>
<line x1="134" y1="358.8" x2="136.9" y2="358.8" stroke="#e05a6a" stroke-width="1.1"/>
<text x="138.1" y="360.7" font-size="5.8" stroke="#000" stroke-width="0.3">ns</text>
<text x="163.8" y="360.7" font-size="5.8" stroke="#000" stroke-width="0.3">14</text>
<text x="177.6" y="360.7" font-size="5.8" stroke="#000" stroke-width="0.3">31</text>
<line x1="134" y1="365.3" x2="136.9" y2="365.3" stroke="#6cd86c" stroke-width="1.1"/>
<text x="138.1" y="367.2" font-size="5.8" stroke="#000" stroke-width="0.3">MAP2K3</text>
<text x="163.8" y="367.2" font-size="5.8" stroke="#000" stroke-width="0.3">8.4</text>
<text x="177.6" y="367.2" font-size="5.8" stroke="#000" stroke-width="0.3">14</text>
<line x1="134" y1="371.8" x2="136.9" y2="371.8" stroke="#3a3ab0" stroke-width="1.1"/>
<text x="138.1" y="373.7" font-size="5.8" stroke="#000" stroke-width="0.3">MAP2K6</text>
<text x="163.8" y="373.7" font-size="5.8" stroke="#000" stroke-width="0.3">8.3</text>
<text x="177.6" y="373.7" font-size="5.8" stroke="#000" stroke-width="0.3">15</text>
<text x="217.7" y="335.2" font-size="8" text-anchor="middle" stroke="#000" stroke-width="0.2">pSTAT1</text>
<line x1="192.6" y1="336.6" x2="244" y2="336.6" stroke="#000" stroke-width="1.1"/>
<text x="196.1" y="345.1" font-size="5.8" stroke="#000" stroke-width="0.3">siRNA</text>
<line x1="193.1" y1="346.5" x2="215.6" y2="346.5" stroke="#000" stroke-width="0.95"/>
<text x="223.9" y="345.1" font-size="5.8" stroke="#000" stroke-width="0.3">(MFI)</text>
<line x1="219.8" y1="346.5" x2="241.1" y2="346.5" stroke="#000" stroke-width="0.95"/>
<text x="221.5" y="353.6" font-size="5.8" stroke="#000" stroke-width="0.3">tTA</text>
<text x="233.4" y="353.6" font-size="5.8" stroke="#000" stroke-width="0.3">Tat</text>
<line x1="192" y1="358.8" x2="194.9" y2="358.8" stroke="#e05a6a" stroke-width="1.1"/>
<text x="196.1" y="360.7" font-size="5.8" stroke="#000" stroke-width="0.3">ns</text>
<text x="222.4" y="360.7" font-size="5.8" stroke="#000" stroke-width="0.3">14</text>
<text x="234.5" y="360.7" font-size="5.8" stroke="#000" stroke-width="0.3">25</text>
<line x1="192" y1="365.3" x2="194.9" y2="365.3" stroke="#6cd86c" stroke-width="1.1"/>
<text x="196.1" y="367.2" font-size="5.8" stroke="#000" stroke-width="0.3">MAP2K3</text>
<text x="221.8" y="367.2" font-size="5.8" stroke="#000" stroke-width="0.3">8.4</text>
<text x="234.5" y="367.2" font-size="5.8" stroke="#000" stroke-width="0.3">16</text>
<line x1="192" y1="371.8" x2="194.9" y2="371.8" stroke="#3a3ab0" stroke-width="1.1"/>
<text x="196.1" y="373.7" font-size="5.8" stroke="#000" stroke-width="0.3">MAP2K6</text>
<text x="221.8" y="373.7" font-size="5.8" stroke="#000" stroke-width="0.3">7.8</text>
<text x="234.5" y="373.7" font-size="5.8" stroke="#000" stroke-width="0.3">14</text>
<text x="277.2" y="335.2" font-size="8" text-anchor="middle" stroke="#000" stroke-width="0.2">Tat</text>
<line x1="250.6" y1="336.6" x2="302" y2="336.6" stroke="#000" stroke-width="1.1"/>
<text x="254.7" y="345.1" font-size="5.8" stroke="#000" stroke-width="0.3">siRNA</text>
<line x1="251.7" y1="346.5" x2="274.2" y2="346.5" stroke="#000" stroke-width="0.95"/>
<text x="283.7" y="345.1" font-size="5.8" stroke="#000" stroke-width="0.3">(MFI)</text>
<line x1="278.4" y1="346.5" x2="300.8" y2="346.5" stroke="#000" stroke-width="0.95"/>
<text x="280.1" y="353.6" font-size="5.8" stroke="#000" stroke-width="0.3">tTA</text>
<text x="292.6" y="353.6" font-size="5.8" stroke="#000" stroke-width="0.3">Tat</text>
<line x1="250" y1="358.8" x2="252.9" y2="358.8" stroke="#e05a6a" stroke-width="1.1"/>
<text x="254.1" y="360.7" font-size="5.8" stroke="#000" stroke-width="0.3">ns</text>
<text x="281.6" y="360.7" font-size="5.8" stroke="#000" stroke-width="0.3">16.1</text>
<text x="295.4" y="360.7" font-size="5.8" stroke="#000" stroke-width="0.3">46</text>
<line x1="250" y1="365.3" x2="252.9" y2="365.3" stroke="#6cd86c" stroke-width="1.1"/>
<text x="254.1" y="367.2" font-size="5.8" stroke="#000" stroke-width="0.3">MAP2K3</text>
<text x="281" y="367.2" font-size="5.8" stroke="#000" stroke-width="0.3">14</text>
<text x="295.4" y="367.2" font-size="5.8" stroke="#000" stroke-width="0.3">49</text>
<line x1="250" y1="371.8" x2="252.9" y2="371.8" stroke="#3a3ab0" stroke-width="1.1"/>
<text x="254.1" y="373.7" font-size="5.8" stroke="#000" stroke-width="0.3">MAP2K6</text>
<text x="281" y="373.7" font-size="5.8" stroke="#000" stroke-width="0.3">14</text>
<text x="295.4" y="373.7" font-size="5.8" stroke="#000" stroke-width="0.3">48</text>
<rect x="17.2" y="381" width="51.8" height="38.9" fill="#fff" stroke="#c0c0c0" stroke-width="1.0"/>
<path d="M17.2 419.9 L17.2 419.3 L17.9 419.2 L18.7 419.1 L19.4 418.7 L20.2 418.4 L20.9 417.9 L21.6 416.9 L22.4 416 L23.1 414.3 L23.9 411.3 L24.6 409.2 L25.3 405.5 L26.1 401.4 L26.8 395.9 L27.6 392.7 L28.3 389.3 L29 389.8 L29.8 392.3 L30.5 392.7 L31.3 400 L32 406.2 L32.7 411.6 L33.5 415.7 L34.2 417.2 L35 418.2 L35.7 418.5 L36.4 419 L37.2 419.2 L37.9 419.3 L38.7 419.5 L39.4 419.7 L40.1 419.7 L40.9 419.8 L41.6 419.8 L42.4 419.9 L43.1 419.9 L43.8 419.9 L44.6 419.9 L45.3 419.9 L46.1 419.9 L46.8 419.9 L47.5 419.9 L48.3 419.9 L49 419.9 L49.8 419.9 L50.5 419.9 L51.2 419.9 L52 419.9 L52.7 419.9 L53.5 419.9 L54.2 419.9 L54.9 419.9 L55.7 419.9 L56.4 419.9 L57.2 419.9 L57.9 419.9 L58.6 419.9 L59.4 419.9 L60.1 419.9 L60.9 419.9 L61.6 419.9 L62.3 419.9 L63.1 419.9 L63.8 419.9 L64.6 419.9 L65.3 419.9 L66 419.9 L66.8 419.9 L67.5 419.9 L68.3 419.9 L69 419.9 L69 419.9 Z" fill="#7eee7e" fill-opacity="0.7"/>
<path d="M18.7 419.1 L19.4 418.7 L20.2 418.4 L20.9 417.9 L21.6 416.9 L22.4 416 L23.1 414.3 L23.9 411.3 L24.6 409.2 L25.3 405.5 L26.1 401.4 L26.8 395.9 L27.6 392.7 L28.3 389.3 L29 389.8 L29.8 392.3 L30.5 392.7 L31.3 400 L32 406.2 L32.7 411.6 L33.5 415.7 L34.2 417.2 L35 418.2 L35.7 418.5 L36.4 419" fill="none" stroke="#28a428" stroke-width="0.7" stroke-opacity="0.85"/>
<path d="M17.2 419.9 L17.2 419.9 L17.9 419.9 L18.7 419.9 L19.4 419.9 L20.2 419.8 L20.9 419.8 L21.6 419.8 L22.4 419.7 L23.1 419.6 L23.9 419.6 L24.6 419.4 L25.3 419.2 L26.1 419 L26.8 418.7 L27.6 418.1 L28.3 417.5 L29 416 L29.8 415 L30.5 411.8 L31.3 407.6 L32 404.6 L32.7 396 L33.5 394.5 L34.2 387.2 L35 387.5 L35.7 382.4 L36.4 387.4 L37.2 390.4 L37.9 397.5 L38.7 402.3 L39.4 407.2 L40.1 411.7 L40.9 414.4 L41.6 415.5 L42.4 417.2 L43.1 417.5 L43.8 418.3 L44.6 418.6 L45.3 418.8 L46.1 418.9 L46.8 419.1 L47.5 419.3 L48.3 419.4 L49 419.6 L49.8 419.6 L50.5 419.7 L51.2 419.8 L52 419.8 L52.7 419.8 L53.5 419.8 L54.2 419.9 L54.9 419.9 L55.7 419.9 L56.4 419.9 L57.2 419.9 L57.9 419.9 L58.6 419.9 L59.4 419.9 L60.1 419.9 L60.9 419.9 L61.6 419.9 L62.3 419.9 L63.1 419.9 L63.8 419.9 L64.6 419.9 L65.3 419.9 L66 419.9 L66.8 419.9 L67.5 419.9 L68.3 419.9 L69 419.9 L69 419.9 Z" fill="#8d94f1" fill-opacity="0.7"/>
<path d="M26.1 419 L26.8 418.7 L27.6 418.1 L28.3 417.5 L29 416 L29.8 415 L30.5 411.8 L31.3 407.6 L32 404.6 L32.7 396 L33.5 394.5 L34.2 387.2 L35 387.5 L35.7 382.4 L36.4 387.4 L37.2 390.4 L37.9 397.5 L38.7 402.3 L39.4 407.2 L40.1 411.7 L40.9 414.4 L41.6 415.5 L42.4 417.2 L43.1 417.5 L43.8 418.3 L44.6 418.6 L45.3 418.8 L46.1 418.9 L46.8 419.1" fill="none" stroke="#2c2ca8" stroke-width="0.7" stroke-opacity="0.85"/>
<path d="M17.2 419.9 L17.2 419.9 L17.9 419.9 L18.7 419.9 L19.4 419.9 L20.2 419.9 L20.9 419.8 L21.6 419.8 L22.4 419.7 L23.1 419.7 L23.9 419.6 L24.6 419.5 L25.3 419.4 L26.1 419.1 L26.8 418.9 L27.6 418.4 L28.3 418.2 L29 417.1 L29.8 415.5 L30.5 413.5 L31.3 410.4 L32 407.4 L32.7 402.4 L33.5 396.5 L34.2 387.7 L35 383.7 L35.7 386.2 L36.4 381.9 L37.2 390.6 L37.9 391.1 L38.7 394.5 L39.4 402.3 L40.1 405.1 L40.9 409.8 L41.6 413.5 L42.4 415.1 L43.1 416.3 L43.8 417.3 L44.6 417.6 L45.3 418.3 L46.1 418.4 L46.8 418.8 L47.5 419 L48.3 419.1 L49 419.3 L49.8 419.4 L50.5 419.5 L51.2 419.6 L52 419.6 L52.7 419.7 L53.5 419.7 L54.2 419.8 L54.9 419.8 L55.7 419.8 L56.4 419.9 L57.2 419.9 L57.9 419.9 L58.6 419.9 L59.4 419.9 L60.1 419.9 L60.9 419.9 L61.6 419.9 L62.3 419.9 L63.1 419.9 L63.8 419.9 L64.6 419.9 L65.3 419.9 L66 419.9 L66.8 419.9 L67.5 419.9 L68.3 419.9 L69 419.9 L69 419.9 Z" fill="#f2b2bd" fill-opacity="0.9"/>
<path d="M26.1 419.1 L26.8 418.9 L27.6 418.4 L28.3 418.2 L29 417.1 L29.8 415.5 L30.5 413.5 L31.3 410.4 L32 407.4 L32.7 402.4 L33.5 396.5 L34.2 387.7 L35 383.7 L35.7 386.2 L36.4 381.9 L37.2 390.6 L37.9 391.1 L38.7 394.5 L39.4 402.3 L40.1 405.1 L40.9 409.8 L41.6 413.5 L42.4 415.1 L43.1 416.3 L43.8 417.3 L44.6 417.6 L45.3 418.3 L46.1 418.4 L46.8 418.8 L47.5 419" fill="none" stroke="#b83c4e" stroke-width="0.7" stroke-opacity="0.85"/>
<line x1="17.2" y1="381" x2="17.2" y2="419.9" stroke="#a8a8a8" stroke-width="0.8"/>
<line x1="17.2" y1="419.9" x2="69" y2="419.9" stroke="#b0b0b0" stroke-width="0.8"/>
<line x1="17.2" y1="419.9" x2="17.2" y2="421.1" stroke="#666" stroke-width="0.6"/>
<text x="17.2" y="422.4" font-size="2.5" text-anchor="middle" font-weight="bold" fill="#222" stroke="#222" stroke-width="0.1">0</text>
<line x1="30.15" y1="419.9" x2="30.15" y2="421.1" stroke="#666" stroke-width="0.6"/>
<text x="30.15" y="422.4" font-size="2.5" text-anchor="middle" font-weight="bold" fill="#222" stroke="#222" stroke-width="0.1">10</text>
<line x1="43.1" y1="419.9" x2="43.1" y2="421.1" stroke="#666" stroke-width="0.6"/>
<text x="43.1" y="422.4" font-size="2.5" text-anchor="middle" font-weight="bold" fill="#222" stroke="#222" stroke-width="0.1">10</text>
<line x1="56.05" y1="419.9" x2="56.05" y2="421.1" stroke="#666" stroke-width="0.6"/>
<text x="56.05" y="422.4" font-size="2.5" text-anchor="middle" font-weight="bold" fill="#222" stroke="#222" stroke-width="0.1">10</text>
<line x1="69" y1="419.9" x2="69" y2="421.1" stroke="#666" stroke-width="0.6"/>
<text x="69" y="422.4" font-size="2.5" text-anchor="middle" font-weight="bold" fill="#222" stroke="#222" stroke-width="0.1">10</text>
<line x1="16" y1="419.9" x2="17.2" y2="419.9" stroke="#666" stroke-width="0.6"/>
<text x="15.7" y="420.9" font-size="2.9" text-anchor="end" font-weight="bold" fill="#111" stroke="#111" stroke-width="0.2">0</text>
<line x1="16" y1="410.17" x2="17.2" y2="410.17" stroke="#666" stroke-width="0.6"/>
<text x="15.7" y="411.17" font-size="2.9" text-anchor="end" font-weight="bold" fill="#111" stroke="#111" stroke-width="0.2">50</text>
<line x1="16" y1="400.45" x2="17.2" y2="400.45" stroke="#666" stroke-width="0.6"/>
<text x="15.7" y="401.45" font-size="2.9" text-anchor="end" font-weight="bold" fill="#111" stroke="#111" stroke-width="0.2">100</text>
<line x1="16" y1="390.72" x2="17.2" y2="390.72" stroke="#666" stroke-width="0.6"/>
<text x="15.7" y="391.72" font-size="2.9" text-anchor="end" font-weight="bold" fill="#111" stroke="#111" stroke-width="0.2">150</text>
<line x1="16" y1="381" x2="17.2" y2="381" stroke="#666" stroke-width="0.6"/>
<text x="15.7" y="382" font-size="2.9" text-anchor="end" font-weight="bold" fill="#111" stroke="#111" stroke-width="0.2">200</text>
<rect x="17.2" y="431.2" width="51.8" height="39" fill="#fff" stroke="#c0c0c0" stroke-width="1.0"/>
<path d="M17.2 470.2 L17.2 470.2 L17.9 470.2 L18.7 470.2 L19.4 470.2 L20.2 470.2 L20.9 470.2 L21.6 470.2 L22.4 470.1 L23.1 470.1 L23.9 470.1 L24.6 470 L25.3 469.9 L26.1 469.7 L26.8 469.7 L27.6 469.3 L28.3 469 L29 468.4 L29.8 467.5 L30.5 465.9 L31.3 464 L32 459.6 L32.7 456.3 L33.5 450.6 L34.2 446.5 L35 440.3 L35.7 437.5 L36.4 440.1 L37.2 441 L37.9 451 L38.7 455.2 L39.4 461.1 L40.1 464.1 L40.9 466.2 L41.6 467.5 L42.4 468.5 L43.1 468.9 L43.8 469.1 L44.6 469.3 L45.3 469.6 L46.1 469.7 L46.8 469.8 L47.5 469.9 L48.3 470 L49 470.1 L49.8 470.1 L50.5 470.1 L51.2 470.2 L52 470.2 L52.7 470.2 L53.5 470.2 L54.2 470.2 L54.9 470.2 L55.7 470.2 L56.4 470.2 L57.2 470.2 L57.9 470.2 L58.6 470.2 L59.4 470.2 L60.1 470.2 L60.9 470.2 L61.6 470.2 L62.3 470.2 L63.1 470.2 L63.8 470.2 L64.6 470.2 L65.3 470.2 L66 470.2 L66.8 470.2 L67.5 470.2 L68.3 470.2 L69 470.2 L69 470.2 Z" fill="#7eee7e" fill-opacity="0.7"/>
<path d="M27.6 469.3 L28.3 469 L29 468.4 L29.8 467.5 L30.5 465.9 L31.3 464 L32 459.6 L32.7 456.3 L33.5 450.6 L34.2 446.5 L35 440.3 L35.7 437.5 L36.4 440.1 L37.2 441 L37.9 451 L38.7 455.2 L39.4 461.1 L40.1 464.1 L40.9 466.2 L41.6 467.5 L42.4 468.5 L43.1 468.9 L43.8 469.1 L44.6 469.3" fill="none" stroke="#28a428" stroke-width="0.7" stroke-opacity="0.85"/>
<path d="M17.2 470.2 L17.2 470.2 L17.9 470.2 L18.7 470.2 L19.4 470.2 L20.2 470.2 L20.9 470.2 L21.6 470.2 L22.4 470.2 L23.1 470.2 L23.9 470.2 L24.6 470.2 L25.3 470.1 L26.1 470.1 L26.8 470 L27.6 469.9 L28.3 469.8 L29 469.6 L29.8 469.4 L30.5 468.8 L31.3 467.9 L32 466.4 L32.7 464.5 L33.5 460 L34.2 456.6 L35 450.9 L35.7 450.9 L36.4 446.3 L37.2 447.8 L37.9 451.6 L38.7 451.9 L39.4 456.6 L40.1 459.4 L40.9 461.4 L41.6 463.9 L42.4 465.3 L43.1 466.4 L43.8 467.5 L44.6 468.1 L45.3 468.7 L46.1 468.9 L46.8 469.1 L47.5 469.3 L48.3 469.4 L49 469.5 L49.8 469.7 L50.5 469.8 L51.2 469.8 L52 469.9 L52.7 470 L53.5 470 L54.2 470 L54.9 470.1 L55.7 470.1 L56.4 470.1 L57.2 470.2 L57.9 470.2 L58.6 470.2 L59.4 470.2 L60.1 470.2 L60.9 470.2 L61.6 470.2 L62.3 470.2 L63.1 470.2 L63.8 470.2 L64.6 470.2 L65.3 470.2 L66 470.2 L66.8 470.2 L67.5 470.2 L68.3 470.2 L69 470.2 L69 470.2 Z" fill="#8d94f1" fill-opacity="0.7"/>
<path d="M29.8 469.4 L30.5 468.8 L31.3 467.9 L32 466.4 L32.7 464.5 L33.5 460 L34.2 456.6 L35 450.9 L35.7 450.9 L36.4 446.3 L37.2 447.8 L37.9 451.6 L38.7 451.9 L39.4 456.6 L40.1 459.4 L40.9 461.4 L41.6 463.9 L42.4 465.3 L43.1 466.4 L43.8 467.5 L44.6 468.1 L45.3 468.7 L46.1 468.9 L46.8 469.1 L47.5 469.3" fill="none" stroke="#2c2ca8" stroke-width="0.7" stroke-opacity="0.85"/>
<path d="M17.2 470.2 L17.2 470.2 L17.9 470.2 L18.7 470.2 L19.4 470.2 L20.2 470.2 L20.9 470.2 L21.6 470.2 L22.4 470.2 L23.1 470.2 L23.9 470.2 L24.6 470.2 L25.3 470.2 L26.1 470.2 L26.8 470.1 L27.6 470.1 L28.3 470 L29 469.9 L29.8 469.8 L30.5 469.7 L31.3 469.3 L32 469 L32.7 468.2 L33.5 467.2 L34.2 465 L35 460.6 L35.7 457.4 L36.4 452 L37.2 450.9 L37.9 449.3 L38.7 450.7 L39.4 449.9 L40.1 450.5 L40.9 454 L41.6 456.7 L42.4 457.6 L43.1 459.9 L43.8 462.1 L44.6 464.2 L45.3 464.4 L46.1 465.2 L46.8 464.9 L47.5 465.7 L48.3 465.5 L49 465.6 L49.8 466.1 L50.5 466.3 L51.2 466.6 L52 467 L52.7 467.7 L53.5 468.3 L54.2 468.5 L54.9 469.1 L55.7 469.2 L56.4 469.5 L57.2 469.6 L57.9 469.8 L58.6 469.8 L59.4 469.9 L60.1 470 L60.9 470 L61.6 470.1 L62.3 470.1 L63.1 470.1 L63.8 470.1 L64.6 470.1 L65.3 470.1 L66 470.2 L66.8 470.2 L67.5 470.2 L68.3 470.2 L69 470.2 L69 470.2 Z" fill="#f2b2bd" fill-opacity="0.9"/>
<path d="M31.3 469.3 L32 469 L32.7 468.2 L33.5 467.2 L34.2 465 L35 460.6 L35.7 457.4 L36.4 452 L37.2 450.9 L37.9 449.3 L38.7 450.7 L39.4 449.9 L40.1 450.5 L40.9 454 L41.6 456.7 L42.4 457.6 L43.1 459.9 L43.8 462.1 L44.6 464.2 L45.3 464.4 L46.1 465.2 L46.8 464.9 L47.5 465.7 L48.3 465.5 L49 465.6 L49.8 466.1 L50.5 466.3 L51.2 466.6 L52 467 L52.7 467.7 L53.5 468.3 L54.2 468.5 L54.9 469.1 L55.7 469.2 L56.4 469.5" fill="none" stroke="#b83c4e" stroke-width="0.7" stroke-opacity="0.85"/>
<line x1="17.2" y1="431.2" x2="17.2" y2="470.2" stroke="#a8a8a8" stroke-width="0.8"/>
<line x1="17.2" y1="470.2" x2="69" y2="470.2" stroke="#b0b0b0" stroke-width="0.8"/>
<line x1="17.2" y1="470.2" x2="17.2" y2="471.4" stroke="#666" stroke-width="0.6"/>
<text x="17.2" y="472.7" font-size="2.5" text-anchor="middle" font-weight="bold" fill="#222" stroke="#222" stroke-width="0.1">0</text>
<line x1="30.15" y1="470.2" x2="30.15" y2="471.4" stroke="#666" stroke-width="0.6"/>
<text x="30.15" y="472.7" font-size="2.5" text-anchor="middle" font-weight="bold" fill="#222" stroke="#222" stroke-width="0.1">10</text>
<line x1="43.1" y1="470.2" x2="43.1" y2="471.4" stroke="#666" stroke-width="0.6"/>
<text x="43.1" y="472.7" font-size="2.5" text-anchor="middle" font-weight="bold" fill="#222" stroke="#222" stroke-width="0.1">10</text>
<line x1="56.05" y1="470.2" x2="56.05" y2="471.4" stroke="#666" stroke-width="0.6"/>
<text x="56.05" y="472.7" font-size="2.5" text-anchor="middle" font-weight="bold" fill="#222" stroke="#222" stroke-width="0.1">10</text>
<line x1="69" y1="470.2" x2="69" y2="471.4" stroke="#666" stroke-width="0.6"/>
<text x="69" y="472.7" font-size="2.5" text-anchor="middle" font-weight="bold" fill="#222" stroke="#222" stroke-width="0.1">10</text>
<line x1="16" y1="470.2" x2="17.2" y2="470.2" stroke="#666" stroke-width="0.6"/>
<text x="15.7" y="471.2" font-size="2.9" text-anchor="end" font-weight="bold" fill="#111" stroke="#111" stroke-width="0.2">0</text>
<line x1="16" y1="460.45" x2="17.2" y2="460.45" stroke="#666" stroke-width="0.6"/>
<text x="15.7" y="461.45" font-size="2.9" text-anchor="end" font-weight="bold" fill="#111" stroke="#111" stroke-width="0.2">50</text>
<line x1="16" y1="450.7" x2="17.2" y2="450.7" stroke="#666" stroke-width="0.6"/>
<text x="15.7" y="451.7" font-size="2.9" text-anchor="end" font-weight="bold" fill="#111" stroke="#111" stroke-width="0.2">100</text>
<line x1="16" y1="440.95" x2="17.2" y2="440.95" stroke="#666" stroke-width="0.6"/>
<text x="15.7" y="441.95" font-size="2.9" text-anchor="end" font-weight="bold" fill="#111" stroke="#111" stroke-width="0.2">150</text>
<line x1="16" y1="431.2" x2="17.2" y2="431.2" stroke="#666" stroke-width="0.6"/>
<text x="15.7" y="432.2" font-size="2.9" text-anchor="end" font-weight="bold" fill="#111" stroke="#111" stroke-width="0.2">200</text>
<rect x="75.8" y="381" width="51.8" height="38.9" fill="#fff" stroke="#c0c0c0" stroke-width="1.0"/>
<path d="M75.8 419.9 L75.8 419.6 L76.5 419.4 L77.3 419.1 L78 418.7 L78.8 417.9 L79.5 416.5 L80.2 413 L81 408.5 L81.7 401.2 L82.5 394.2 L83.2 390.2 L83.9 384.8 L84.7 387.5 L85.4 390.2 L86.2 396 L86.9 400.4 L87.6 403 L88.4 406.2 L89.1 409.7 L89.9 413.1 L90.6 415.1 L91.3 416.1 L92.1 416.8 L92.8 417.8 L93.6 418 L94.3 418.5 L95 418.7 L95.8 418.9 L96.5 419 L97.3 419.2 L98 419.2 L98.7 419.3 L99.5 419.5 L100.2 419.6 L101 419.6 L101.7 419.7 L102.4 419.7 L103.2 419.8 L103.9 419.8 L104.7 419.8 L105.4 419.8 L106.1 419.9 L106.9 419.9 L107.6 419.9 L108.4 419.9 L109.1 419.9 L109.8 419.9 L110.6 419.9 L111.3 419.9 L112.1 419.9 L112.8 419.9 L113.5 419.9 L114.3 419.9 L115 419.9 L115.8 419.9 L116.5 419.9 L117.2 419.9 L118 419.9 L118.7 419.9 L119.5 419.9 L120.2 419.9 L120.9 419.9 L121.7 419.9 L122.4 419.9 L123.2 419.9 L123.9 419.9 L124.6 419.9 L125.4 419.9 L126.1 419.9 L126.9 419.9 L127.6 419.9 L127.6 419.9 Z" fill="#8d94f1" fill-opacity="0.7"/>
<path d="M77.3 419.1 L78 418.7 L78.8 417.9 L79.5 416.5 L80.2 413 L81 408.5 L81.7 401.2 L82.5 394.2 L83.2 390.2 L83.9 384.8 L84.7 387.5 L85.4 390.2 L86.2 396 L86.9 400.4 L87.6 403 L88.4 406.2 L89.1 409.7 L89.9 413.1 L90.6 415.1 L91.3 416.1 L92.1 416.8 L92.8 417.8 L93.6 418 L94.3 418.5 L95 418.7 L95.8 418.9" fill="none" stroke="#2c2ca8" stroke-width="0.7" stroke-opacity="0.85"/>
<path d="M75.8 419.9 L75.8 419.7 L76.5 419.7 L77.3 419.5 L78 419.4 L78.8 419.2 L79.5 419 L80.2 418.6 L81 418.3 L81.7 417.5 L82.5 416 L83.2 413.7 L83.9 411.2 L84.7 407.1 L85.4 402 L86.2 398.3 L86.9 390.8 L87.6 388.2 L88.4 389.2 L89.1 389.7 L89.9 390.2 L90.6 397 L91.3 402.4 L92.1 405 L92.8 410 L93.6 413.1 L94.3 415.1 L95 416.3 L95.8 417.7 L96.5 418.1 L97.3 418.6 L98 418.7 L98.7 418.9 L99.5 419.1 L100.2 419.2 L101 419.4 L101.7 419.5 L102.4 419.6 L103.2 419.7 L103.9 419.7 L104.7 419.8 L105.4 419.8 L106.1 419.8 L106.9 419.9 L107.6 419.9 L108.4 419.9 L109.1 419.9 L109.8 419.9 L110.6 419.9 L111.3 419.9 L112.1 419.9 L112.8 419.9 L113.5 419.9 L114.3 419.9 L115 419.9 L115.8 419.9 L116.5 419.9 L117.2 419.9 L118 419.9 L118.7 419.9 L119.5 419.9 L120.2 419.9 L120.9 419.9 L121.7 419.9 L122.4 419.9 L123.2 419.9 L123.9 419.9 L124.6 419.9 L125.4 419.9 L126.1 419.9 L126.9 419.9 L127.6 419.9 L127.6 419.9 Z" fill="#7eee7e" fill-opacity="0.7"/>
<path d="M79.5 419 L80.2 418.6 L81 418.3 L81.7 417.5 L82.5 416 L83.2 413.7 L83.9 411.2 L84.7 407.1 L85.4 402 L86.2 398.3 L86.9 390.8 L87.6 388.2 L88.4 389.2 L89.1 389.7 L89.9 390.2 L90.6 397 L91.3 402.4 L92.1 405 L92.8 410 L93.6 413.1 L94.3 415.1 L95 416.3 L95.8 417.7 L96.5 418.1 L97.3 418.6 L98 418.7 L98.7 418.9" fill="none" stroke="#28a428" stroke-width="0.7" stroke-opacity="0.85"/>
<path d="M75.8 419.9 L75.8 419.7 L76.5 419.6 L77.3 419.6 L78 419.4 L78.8 419.3 L79.5 419 L80.2 418.6 L81 418 L81.7 417.6 L82.5 415.8 L83.2 414.5 L83.9 411.6 L84.7 406.9 L85.4 403 L86.2 398.1 L86.9 392.1 L87.6 390.7 L88.4 385.5 L89.1 389.9 L89.9 388.6 L90.6 392.8 L91.3 398.8 L92.1 405.1 L92.8 407 L93.6 411.9 L94.3 413.6 L95 415.5 L95.8 416.9 L96.5 417.4 L97.3 417.9 L98 418.3 L98.7 418.6 L99.5 418.8 L100.2 419 L101 419.2 L101.7 419.3 L102.4 419.4 L103.2 419.5 L103.9 419.6 L104.7 419.7 L105.4 419.7 L106.1 419.8 L106.9 419.8 L107.6 419.8 L108.4 419.8 L109.1 419.9 L109.8 419.9 L110.6 419.9 L111.3 419.9 L112.1 419.9 L112.8 419.9 L113.5 419.9 L114.3 419.9 L115 419.9 L115.8 419.9 L116.5 419.9 L117.2 419.9 L118 419.9 L118.7 419.9 L119.5 419.9 L120.2 419.9 L120.9 419.9 L121.7 419.9 L122.4 419.9 L123.2 419.9 L123.9 419.9 L124.6 419.9 L125.4 419.9 L126.1 419.9 L126.9 419.9 L127.6 419.9 L127.6 419.9 Z" fill="#f2b2bd" fill-opacity="0.9"/>
<path d="M79.5 419 L80.2 418.6 L81 418 L81.7 417.6 L82.5 415.8 L83.2 414.5 L83.9 411.6 L84.7 406.9 L85.4 403 L86.2 398.1 L86.9 392.1 L87.6 390.7 L88.4 385.5 L89.1 389.9 L89.9 388.6 L90.6 392.8 L91.3 398.8 L92.1 405.1 L92.8 407 L93.6 411.9 L94.3 413.6 L95 415.5 L95.8 416.9 L96.5 417.4 L97.3 417.9 L98 418.3 L98.7 418.6 L99.5 418.8 L100.2 419" fill="none" stroke="#b83c4e" stroke-width="0.7" stroke-opacity="0.85"/>
<line x1="75.8" y1="381" x2="75.8" y2="419.9" stroke="#a8a8a8" stroke-width="0.8"/>
<line x1="75.8" y1="419.9" x2="127.6" y2="419.9" stroke="#b0b0b0" stroke-width="0.8"/>
<line x1="75.8" y1="419.9" x2="75.8" y2="421.1" stroke="#666" stroke-width="0.6"/>
<text x="75.8" y="422.4" font-size="2.5" text-anchor="middle" font-weight="bold" fill="#222" stroke="#222" stroke-width="0.1">0</text>
<line x1="88.75" y1="419.9" x2="88.75" y2="421.1" stroke="#666" stroke-width="0.6"/>
<text x="88.75" y="422.4" font-size="2.5" text-anchor="middle" font-weight="bold" fill="#222" stroke="#222" stroke-width="0.1">10</text>
<line x1="101.7" y1="419.9" x2="101.7" y2="421.1" stroke="#666" stroke-width="0.6"/>
<text x="101.7" y="422.4" font-size="2.5" text-anchor="middle" font-weight="bold" fill="#222" stroke="#222" stroke-width="0.1">10</text>
<line x1="114.65" y1="419.9" x2="114.65" y2="421.1" stroke="#666" stroke-width="0.6"/>
<text x="114.65" y="422.4" font-size="2.5" text-anchor="middle" font-weight="bold" fill="#222" stroke="#222" stroke-width="0.1">10</text>
<line x1="127.6" y1="419.9" x2="127.6" y2="421.1" stroke="#666" stroke-width="0.6"/>
<text x="127.6" y="422.4" font-size="2.5" text-anchor="middle" font-weight="bold" fill="#222" stroke="#222" stroke-width="0.1">10</text>
<line x1="74.6" y1="419.9" x2="75.8" y2="419.9" stroke="#666" stroke-width="0.6"/>
<line x1="74.6" y1="410.17" x2="75.8" y2="410.17" stroke="#666" stroke-width="0.6"/>
<line x1="74.6" y1="400.45" x2="75.8" y2="400.45" stroke="#666" stroke-width="0.6"/>
<line x1="74.6" y1="390.72" x2="75.8" y2="390.72" stroke="#666" stroke-width="0.6"/>
<line x1="74.6" y1="381" x2="75.8" y2="381" stroke="#666" stroke-width="0.6"/>
<rect x="75.8" y="431.2" width="51.8" height="39" fill="#fff" stroke="#c0c0c0" stroke-width="1.0"/>
<path d="M75.8 470.2 L75.8 470.2 L76.5 470.2 L77.3 470.2 L78 470.2 L78.8 470.2 L79.5 470.2 L80.2 470.2 L81 470.2 L81.7 470.1 L82.5 470.1 L83.2 470 L83.9 469.8 L84.7 469.6 L85.4 469.3 L86.2 468.9 L86.9 468.1 L87.6 466.5 L88.4 463.5 L89.1 457.1 L89.9 450.9 L90.6 440.7 L91.3 435.4 L92.1 435.1 L92.8 442.2 L93.6 449.2 L94.3 459.3 L95 464.3 L95.8 466.7 L96.5 468.1 L97.3 468.8 L98 469.2 L98.7 469.6 L99.5 469.7 L100.2 469.9 L101 470 L101.7 470.1 L102.4 470.1 L103.2 470.2 L103.9 470.2 L104.7 470.2 L105.4 470.2 L106.1 470.2 L106.9 470.2 L107.6 470.2 L108.4 470.2 L109.1 470.2 L109.8 470.2 L110.6 470.2 L111.3 470.2 L112.1 470.2 L112.8 470.2 L113.5 470.2 L114.3 470.2 L115 470.2 L115.8 470.2 L116.5 470.2 L117.2 470.2 L118 470.2 L118.7 470.2 L119.5 470.2 L120.2 470.2 L120.9 470.2 L121.7 470.2 L122.4 470.2 L123.2 470.2 L123.9 470.2 L124.6 470.2 L125.4 470.2 L126.1 470.2 L126.9 470.2 L127.6 470.2 L127.6 470.2 Z" fill="#8d94f1" fill-opacity="0.7"/>
<path d="M85.4 469.3 L86.2 468.9 L86.9 468.1 L87.6 466.5 L88.4 463.5 L89.1 457.1 L89.9 450.9 L90.6 440.7 L91.3 435.4 L92.1 435.1 L92.8 442.2 L93.6 449.2 L94.3 459.3 L95 464.3 L95.8 466.7 L96.5 468.1 L97.3 468.8 L98 469.2" fill="none" stroke="#2c2ca8" stroke-width="0.7" stroke-opacity="0.85"/>
<path d="M75.8 470.2 L75.8 470.2 L76.5 470.2 L77.3 470.2 L78 470.2 L78.8 470.2 L79.5 470.2 L80.2 470.2 L81 470.2 L81.7 470.2 L82.5 470.2 L83.2 470.1 L83.9 470.1 L84.7 470.1 L85.4 470 L86.2 469.9 L86.9 469.8 L87.6 469.5 L88.4 469.1 L89.1 468.7 L89.9 467.8 L90.6 466 L91.3 463.1 L92.1 459 L92.8 452.5 L93.6 448.6 L94.3 442.5 L95 432.7 L95.8 433.5 L96.5 442.8 L97.3 449.4 L98 455.7 L98.7 460.1 L99.5 465.1 L100.2 466.8 L101 467.8 L101.7 468.6 L102.4 468.9 L103.2 469.4 L103.9 469.6 L104.7 469.8 L105.4 469.9 L106.1 470 L106.9 470.1 L107.6 470.1 L108.4 470.2 L109.1 470.2 L109.8 470.2 L110.6 470.2 L111.3 470.2 L112.1 470.2 L112.8 470.2 L113.5 470.2 L114.3 470.2 L115 470.2 L115.8 470.2 L116.5 470.2 L117.2 470.2 L118 470.2 L118.7 470.2 L119.5 470.2 L120.2 470.2 L120.9 470.2 L121.7 470.2 L122.4 470.2 L123.2 470.2 L123.9 470.2 L124.6 470.2 L125.4 470.2 L126.1 470.2 L126.9 470.2 L127.6 470.2 L127.6 470.2 Z" fill="#7eee7e" fill-opacity="0.7"/>
<path d="M87.6 469.5 L88.4 469.1 L89.1 468.7 L89.9 467.8 L90.6 466 L91.3 463.1 L92.1 459 L92.8 452.5 L93.6 448.6 L94.3 442.5 L95 432.7 L95.8 433.5 L96.5 442.8 L97.3 449.4 L98 455.7 L98.7 460.1 L99.5 465.1 L100.2 466.8 L101 467.8 L101.7 468.6 L102.4 468.9 L103.2 469.4" fill="none" stroke="#28a428" stroke-width="0.7" stroke-opacity="0.85"/>
<path d="M75.8 470.2 L75.8 469.3 L76.5 468.9 L77.3 468.8 L78 468.6 L78.8 468.7 L79.5 468.5 L80.2 468.7 L81 468.8 L81.7 469 L82.5 468.9 L83.2 469 L83.9 469.1 L84.7 469.3 L85.4 469.3 L86.2 469.3 L86.9 469.1 L87.6 469.1 L88.4 468.8 L89.1 468.1 L89.9 467.3 L90.6 466.4 L91.3 463.8 L92.1 459.7 L92.8 452.2 L93.6 445.3 L94.3 439.1 L95 435.4 L95.8 435.4 L96.5 438.5 L97.3 446 L98 453.2 L98.7 460.2 L99.5 464.3 L100.2 466.5 L101 467.8 L101.7 468.5 L102.4 469.1 L103.2 469.3 L103.9 469.5 L104.7 469.7 L105.4 469.8 L106.1 470 L106.9 470 L107.6 470.1 L108.4 470.1 L109.1 470.2 L109.8 470.2 L110.6 470.2 L111.3 470.2 L112.1 470.2 L112.8 470.2 L113.5 470.2 L114.3 470.2 L115 470.2 L115.8 470.2 L116.5 470.2 L117.2 470.2 L118 470.2 L118.7 470.2 L119.5 470.2 L120.2 470.2 L120.9 470.2 L121.7 470.2 L122.4 470.2 L123.2 470.2 L123.9 470.2 L124.6 470.2 L125.4 470.2 L126.1 470.2 L126.9 470.2 L127.6 470.2 L127.6 470.2 Z" fill="#f2b2bd" fill-opacity="0.9"/>
<path d="M75.8 469.3 L76.5 468.9 L77.3 468.8 L78 468.6 L78.8 468.7 L79.5 468.5 L80.2 468.7 L81 468.8 L81.7 469 L82.5 468.9 L83.2 469 L83.9 469.1 L84.7 469.3 L85.4 469.3 L86.2 469.3 L86.9 469.1 L87.6 469.1 L88.4 468.8 L89.1 468.1 L89.9 467.3 L90.6 466.4 L91.3 463.8 L92.1 459.7 L92.8 452.2 L93.6 445.3 L94.3 439.1 L95 435.4 L95.8 435.4 L96.5 438.5 L97.3 446 L98 453.2 L98.7 460.2 L99.5 464.3 L100.2 466.5 L101 467.8 L101.7 468.5 L102.4 469.1 L103.2 469.3" fill="none" stroke="#b83c4e" stroke-width="0.7" stroke-opacity="0.85"/>
<line x1="75.8" y1="431.2" x2="75.8" y2="470.2" stroke="#a8a8a8" stroke-width="0.8"/>
<line x1="75.8" y1="470.2" x2="127.6" y2="470.2" stroke="#b0b0b0" stroke-width="0.8"/>
<line x1="75.8" y1="470.2" x2="75.8" y2="471.4" stroke="#666" stroke-width="0.6"/>
<text x="75.8" y="472.7" font-size="2.5" text-anchor="middle" font-weight="bold" fill="#222" stroke="#222" stroke-width="0.1">0</text>
<line x1="88.75" y1="470.2" x2="88.75" y2="471.4" stroke="#666" stroke-width="0.6"/>
<text x="88.75" y="472.7" font-size="2.5" text-anchor="middle" font-weight="bold" fill="#222" stroke="#222" stroke-width="0.1">10</text>
<line x1="101.7" y1="470.2" x2="101.7" y2="471.4" stroke="#666" stroke-width="0.6"/>
<text x="101.7" y="472.7" font-size="2.5" text-anchor="middle" font-weight="bold" fill="#222" stroke="#222" stroke-width="0.1">10</text>
<line x1="114.65" y1="470.2" x2="114.65" y2="471.4" stroke="#666" stroke-width="0.6"/>
<text x="114.65" y="472.7" font-size="2.5" text-anchor="middle" font-weight="bold" fill="#222" stroke="#222" stroke-width="0.1">10</text>
<line x1="127.6" y1="470.2" x2="127.6" y2="471.4" stroke="#666" stroke-width="0.6"/>
<text x="127.6" y="472.7" font-size="2.5" text-anchor="middle" font-weight="bold" fill="#222" stroke="#222" stroke-width="0.1">10</text>
<line x1="74.6" y1="470.2" x2="75.8" y2="470.2" stroke="#666" stroke-width="0.6"/>
<line x1="74.6" y1="460.45" x2="75.8" y2="460.45" stroke="#666" stroke-width="0.6"/>
<line x1="74.6" y1="450.7" x2="75.8" y2="450.7" stroke="#666" stroke-width="0.6"/>
<line x1="74.6" y1="440.95" x2="75.8" y2="440.95" stroke="#666" stroke-width="0.6"/>
<line x1="74.6" y1="431.2" x2="75.8" y2="431.2" stroke="#666" stroke-width="0.6"/>
<rect x="134.4" y="381" width="51.8" height="38.9" fill="#fff" stroke="#c0c0c0" stroke-width="1.0"/>
<path d="M134.4 419.9 L134.4 419.6 L135.1 419.5 L135.9 419.4 L136.6 419.2 L137.4 419 L138.1 418.6 L138.8 417.9 L139.6 417.4 L140.3 415.8 L141.1 413.6 L141.8 410.7 L142.5 405.6 L143.3 402.1 L144 394.5 L144.8 390.5 L145.5 385.1 L146.2 389.3 L147 389.9 L147.7 393.9 L148.5 397.4 L149.2 406.8 L149.9 411 L150.7 413.8 L151.4 415.8 L152.2 417.5 L152.9 418.1 L153.6 418.5 L154.4 418.8 L155.1 419 L155.9 419.2 L156.6 419.5 L157.3 419.6 L158.1 419.7 L158.8 419.7 L159.6 419.8 L160.3 419.8 L161 419.8 L161.8 419.9 L162.5 419.9 L163.3 419.9 L164 419.9 L164.7 419.9 L165.5 419.9 L166.2 419.9 L167 419.9 L167.7 419.9 L168.4 419.9 L169.2 419.9 L169.9 419.9 L170.7 419.9 L171.4 419.9 L172.1 419.9 L172.9 419.9 L173.6 419.9 L174.4 419.9 L175.1 419.9 L175.8 419.9 L176.6 419.9 L177.3 419.9 L178.1 419.9 L178.8 419.9 L179.5 419.9 L180.3 419.9 L181 419.9 L181.8 419.9 L182.5 419.9 L183.2 419.9 L184 419.9 L184.7 419.9 L185.5 419.9 L186.2 419.9 L186.2 419.9 Z" fill="#8d94f1" fill-opacity="0.7"/>
<path d="M137.4 419 L138.1 418.6 L138.8 417.9 L139.6 417.4 L140.3 415.8 L141.1 413.6 L141.8 410.7 L142.5 405.6 L143.3 402.1 L144 394.5 L144.8 390.5 L145.5 385.1 L146.2 389.3 L147 389.9 L147.7 393.9 L148.5 397.4 L149.2 406.8 L149.9 411 L150.7 413.8 L151.4 415.8 L152.2 417.5 L152.9 418.1 L153.6 418.5 L154.4 418.8 L155.1 419" fill="none" stroke="#2c2ca8" stroke-width="0.7" stroke-opacity="0.85"/>
<path d="M134.4 419.9 L134.4 419.1 L135.1 418.8 L135.9 418.5 L136.6 418.1 L137.4 418.3 L138.1 418.2 L138.8 418.4 L139.6 418.6 L140.3 418.8 L141.1 418.8 L141.8 418.6 L142.5 417.9 L143.3 417.3 L144 415.9 L144.8 414 L145.5 411.8 L146.2 408.6 L147 404.7 L147.7 396.7 L148.5 395.8 L149.2 388.1 L149.9 390.6 L150.7 389.3 L151.4 395.1 L152.2 395.6 L152.9 402.1 L153.6 405.8 L154.4 409.1 L155.1 412.7 L155.9 414.7 L156.6 415.7 L157.3 417.1 L158.1 417.8 L158.8 418.1 L159.6 418.6 L160.3 418.8 L161 419 L161.8 419.1 L162.5 419.3 L163.3 419.4 L164 419.5 L164.7 419.5 L165.5 419.7 L166.2 419.7 L167 419.7 L167.7 419.8 L168.4 419.8 L169.2 419.8 L169.9 419.9 L170.7 419.9 L171.4 419.9 L172.1 419.9 L172.9 419.9 L173.6 419.9 L174.4 419.9 L175.1 419.9 L175.8 419.9 L176.6 419.9 L177.3 419.9 L178.1 419.9 L178.8 419.9 L179.5 419.9 L180.3 419.9 L181 419.9 L181.8 419.9 L182.5 419.9 L183.2 419.9 L184 419.9 L184.7 419.9 L185.5 419.9 L186.2 419.9 L186.2 419.9 Z" fill="#f2b2bd" fill-opacity="0.9"/>
<path d="M134.4 419.1 L135.1 418.8 L135.9 418.5 L136.6 418.1 L137.4 418.3 L138.1 418.2 L138.8 418.4 L139.6 418.6 L140.3 418.8 L141.1 418.8 L141.8 418.6 L142.5 417.9 L143.3 417.3 L144 415.9 L144.8 414 L145.5 411.8 L146.2 408.6 L147 404.7 L147.7 396.7 L148.5 395.8 L149.2 388.1 L149.9 390.6 L150.7 389.3 L151.4 395.1 L152.2 395.6 L152.9 402.1 L153.6 405.8 L154.4 409.1 L155.1 412.7 L155.9 414.7 L156.6 415.7 L157.3 417.1 L158.1 417.8 L158.8 418.1 L159.6 418.6 L160.3 418.8 L161 419" fill="none" stroke="#b83c4e" stroke-width="0.7" stroke-opacity="0.85"/>
<line x1="134.4" y1="381" x2="134.4" y2="419.9" stroke="#a8a8a8" stroke-width="0.8"/>
<line x1="134.4" y1="419.9" x2="186.2" y2="419.9" stroke="#b0b0b0" stroke-width="0.8"/>
<line x1="134.4" y1="419.9" x2="134.4" y2="421.1" stroke="#666" stroke-width="0.6"/>
<text x="134.4" y="422.4" font-size="2.5" text-anchor="middle" font-weight="bold" fill="#222" stroke="#222" stroke-width="0.1">0</text>
<line x1="147.35" y1="419.9" x2="147.35" y2="421.1" stroke="#666" stroke-width="0.6"/>
<text x="147.35" y="422.4" font-size="2.5" text-anchor="middle" font-weight="bold" fill="#222" stroke="#222" stroke-width="0.1">10</text>
<line x1="160.3" y1="419.9" x2="160.3" y2="421.1" stroke="#666" stroke-width="0.6"/>
<text x="160.3" y="422.4" font-size="2.5" text-anchor="middle" font-weight="bold" fill="#222" stroke="#222" stroke-width="0.1">10</text>
<line x1="173.25" y1="419.9" x2="173.25" y2="421.1" stroke="#666" stroke-width="0.6"/>
<text x="173.25" y="422.4" font-size="2.5" text-anchor="middle" font-weight="bold" fill="#222" stroke="#222" stroke-width="0.1">10</text>
<line x1="186.2" y1="419.9" x2="186.2" y2="421.1" stroke="#666" stroke-width="0.6"/>
<text x="186.2" y="422.4" font-size="2.5" text-anchor="middle" font-weight="bold" fill="#222" stroke="#222" stroke-width="0.1">10</text>
<line x1="133.2" y1="419.9" x2="134.4" y2="419.9" stroke="#666" stroke-width="0.6"/>
<line x1="133.2" y1="410.17" x2="134.4" y2="410.17" stroke="#666" stroke-width="0.6"/>
<line x1="133.2" y1="400.45" x2="134.4" y2="400.45" stroke="#666" stroke-width="0.6"/>
<line x1="133.2" y1="390.72" x2="134.4" y2="390.72" stroke="#666" stroke-width="0.6"/>
<line x1="133.2" y1="381" x2="134.4" y2="381" stroke="#666" stroke-width="0.6"/>
<rect x="134.4" y="431.2" width="51.8" height="39" fill="#fff" stroke="#c0c0c0" stroke-width="1.0"/>
<path d="M134.4 470.2 L134.4 470.2 L135.1 470.2 L135.9 470.1 L136.6 470.1 L137.4 470.1 L138.1 470 L138.8 470 L139.6 469.9 L140.3 469.7 L141.1 469.5 L141.8 469.3 L142.5 469.1 L143.3 468.4 L144 467.7 L144.8 466.5 L145.5 464 L146.2 461.6 L147 458.6 L147.7 451.7 L148.5 449 L149.2 446.8 L149.9 445.5 L150.7 441.6 L151.4 444 L152.2 449.4 L152.9 451.5 L153.6 455.1 L154.4 459.6 L155.1 463.3 L155.9 465.2 L156.6 466.6 L157.3 467.6 L158.1 468.5 L158.8 468.7 L159.6 468.9 L160.3 469.2 L161 469.4 L161.8 469.6 L162.5 469.7 L163.3 469.8 L164 469.9 L164.7 470 L165.5 470 L166.2 470.1 L167 470.1 L167.7 470.1 L168.4 470.2 L169.2 470.2 L169.9 470.2 L170.7 470.2 L171.4 470.2 L172.1 470.2 L172.9 470.2 L173.6 470.2 L174.4 470.2 L175.1 470.2 L175.8 470.2 L176.6 470.2 L177.3 470.2 L178.1 470.2 L178.8 470.2 L179.5 470.2 L180.3 470.2 L181 470.2 L181.8 470.2 L182.5 470.2 L183.2 470.2 L184 470.2 L184.7 470.2 L185.5 470.2 L186.2 470.2 L186.2 470.2 Z" fill="#8d94f1" fill-opacity="0.7"/>
<path d="M141.8 469.3 L142.5 469.1 L143.3 468.4 L144 467.7 L144.8 466.5 L145.5 464 L146.2 461.6 L147 458.6 L147.7 451.7 L148.5 449 L149.2 446.8 L149.9 445.5 L150.7 441.6 L151.4 444 L152.2 449.4 L152.9 451.5 L153.6 455.1 L154.4 459.6 L155.1 463.3 L155.9 465.2 L156.6 466.6 L157.3 467.6 L158.1 468.5 L158.8 468.7 L159.6 468.9 L160.3 469.2 L161 469.4" fill="none" stroke="#2c2ca8" stroke-width="0.7" stroke-opacity="0.85"/>
<path d="M134.4 470.2 L134.4 470.2 L135.1 470.2 L135.9 470.1 L136.6 470.1 L137.4 470.1 L138.1 470 L138.8 469.9 L139.6 469.9 L140.3 469.7 L141.1 469.5 L141.8 469.3 L142.5 468.9 L143.3 468.3 L144 467.7 L144.8 466.3 L145.5 464.5 L146.2 460.2 L147 458.2 L147.7 454.1 L148.5 448.2 L149.2 444 L149.9 439.9 L150.7 444.2 L151.4 444.7 L152.2 448.2 L152.9 450.5 L153.6 455.5 L154.4 459.6 L155.1 462.1 L155.9 464.9 L156.6 466.4 L157.3 467.4 L158.1 468.4 L158.8 468.6 L159.6 469 L160.3 469.3 L161 469.3 L161.8 469.6 L162.5 469.7 L163.3 469.8 L164 469.9 L164.7 469.9 L165.5 470 L166.2 470.1 L167 470.1 L167.7 470.1 L168.4 470.1 L169.2 470.2 L169.9 470.2 L170.7 470.2 L171.4 470.2 L172.1 470.2 L172.9 470.2 L173.6 470.2 L174.4 470.2 L175.1 470.2 L175.8 470.2 L176.6 470.2 L177.3 470.2 L178.1 470.2 L178.8 470.2 L179.5 470.2 L180.3 470.2 L181 470.2 L181.8 470.2 L182.5 470.2 L183.2 470.2 L184 470.2 L184.7 470.2 L185.5 470.2 L186.2 470.2 L186.2 470.2 Z" fill="#7eee7e" fill-opacity="0.7"/>
<path d="M141.8 469.3 L142.5 468.9 L143.3 468.3 L144 467.7 L144.8 466.3 L145.5 464.5 L146.2 460.2 L147 458.2 L147.7 454.1 L148.5 448.2 L149.2 444 L149.9 439.9 L150.7 444.2 L151.4 444.7 L152.2 448.2 L152.9 450.5 L153.6 455.5 L154.4 459.6 L155.1 462.1 L155.9 464.9 L156.6 466.4 L157.3 467.4 L158.1 468.4 L158.8 468.6 L159.6 469 L160.3 469.3" fill="none" stroke="#28a428" stroke-width="0.7" stroke-opacity="0.85"/>
<path d="M134.4 470.2 L134.4 469.1 L135.1 468.9 L135.9 468.9 L136.6 468.6 L137.4 468.5 L138.1 468.6 L138.8 468.6 L139.6 468.8 L140.3 468.6 L141.1 468.7 L141.8 468.9 L142.5 468.9 L143.3 468.7 L144 468.7 L144.8 468.4 L145.5 467.6 L146.2 466.4 L147 465 L147.7 461 L148.5 456.8 L149.2 449.3 L149.9 441.7 L150.7 440.2 L151.4 437.4 L152.2 438.1 L152.9 440 L153.6 444.7 L154.4 448.1 L155.1 451.2 L155.9 455.3 L156.6 459.5 L157.3 461 L158.1 462.1 L158.8 463.6 L159.6 464.2 L160.3 463.8 L161 464.2 L161.8 464.9 L162.5 465 L163.3 466.1 L164 466.2 L164.7 467.2 L165.5 467.7 L166.2 468 L167 468.6 L167.7 469 L168.4 469.3 L169.2 469.5 L169.9 469.7 L170.7 469.8 L171.4 469.9 L172.1 469.9 L172.9 470 L173.6 470 L174.4 470 L175.1 470.1 L175.8 470.1 L176.6 470.1 L177.3 470.1 L178.1 470.2 L178.8 470.2 L179.5 470.2 L180.3 470.2 L181 470.2 L181.8 470.2 L182.5 470.2 L183.2 470.2 L184 470.2 L184.7 470.2 L185.5 470.2 L186.2 470.2 L186.2 470.2 Z" fill="#f2b2bd" fill-opacity="0.9"/>
<path d="M134.4 469.1 L135.1 468.9 L135.9 468.9 L136.6 468.6 L137.4 468.5 L138.1 468.6 L138.8 468.6 L139.6 468.8 L140.3 468.6 L141.1 468.7 L141.8 468.9 L142.5 468.9 L143.3 468.7 L144 468.7 L144.8 468.4 L145.5 467.6 L146.2 466.4 L147 465 L147.7 461 L148.5 456.8 L149.2 449.3 L149.9 441.7 L150.7 440.2 L151.4 437.4 L152.2 438.1 L152.9 440 L153.6 444.7 L154.4 448.1 L155.1 451.2 L155.9 455.3 L156.6 459.5 L157.3 461 L158.1 462.1 L158.8 463.6 L159.6 464.2 L160.3 463.8 L161 464.2 L161.8 464.9 L162.5 465 L163.3 466.1 L164 466.2 L164.7 467.2 L165.5 467.7 L166.2 468 L167 468.6 L167.7 469 L168.4 469.3" fill="none" stroke="#b83c4e" stroke-width="0.7" stroke-opacity="0.85"/>
<line x1="134.4" y1="431.2" x2="134.4" y2="470.2" stroke="#a8a8a8" stroke-width="0.8"/>
<line x1="134.4" y1="470.2" x2="186.2" y2="470.2" stroke="#b0b0b0" stroke-width="0.8"/>
<line x1="134.4" y1="470.2" x2="134.4" y2="471.4" stroke="#666" stroke-width="0.6"/>
<text x="134.4" y="472.7" font-size="2.5" text-anchor="middle" font-weight="bold" fill="#222" stroke="#222" stroke-width="0.1">0</text>
<line x1="147.35" y1="470.2" x2="147.35" y2="471.4" stroke="#666" stroke-width="0.6"/>
<text x="147.35" y="472.7" font-size="2.5" text-anchor="middle" font-weight="bold" fill="#222" stroke="#222" stroke-width="0.1">10</text>
<line x1="160.3" y1="470.2" x2="160.3" y2="471.4" stroke="#666" stroke-width="0.6"/>
<text x="160.3" y="472.7" font-size="2.5" text-anchor="middle" font-weight="bold" fill="#222" stroke="#222" stroke-width="0.1">10</text>
<line x1="173.25" y1="470.2" x2="173.25" y2="471.4" stroke="#666" stroke-width="0.6"/>
<text x="173.25" y="472.7" font-size="2.5" text-anchor="middle" font-weight="bold" fill="#222" stroke="#222" stroke-width="0.1">10</text>
<line x1="186.2" y1="470.2" x2="186.2" y2="471.4" stroke="#666" stroke-width="0.6"/>
<text x="186.2" y="472.7" font-size="2.5" text-anchor="middle" font-weight="bold" fill="#222" stroke="#222" stroke-width="0.1">10</text>
<line x1="133.2" y1="470.2" x2="134.4" y2="470.2" stroke="#666" stroke-width="0.6"/>
<line x1="133.2" y1="460.45" x2="134.4" y2="460.45" stroke="#666" stroke-width="0.6"/>
<line x1="133.2" y1="450.7" x2="134.4" y2="450.7" stroke="#666" stroke-width="0.6"/>
<line x1="133.2" y1="440.95" x2="134.4" y2="440.95" stroke="#666" stroke-width="0.6"/>
<line x1="133.2" y1="431.2" x2="134.4" y2="431.2" stroke="#666" stroke-width="0.6"/>
<rect x="192.4" y="381" width="51.8" height="38.9" fill="#fff" stroke="#c0c0c0" stroke-width="1.0"/>
<path d="M192.4 419.9 L192.4 418.5 L193.1 417.9 L193.9 417.8 L194.6 417.3 L195.4 416.3 L196.1 415.8 L196.8 415.8 L197.6 414.6 L198.3 412.7 L199.1 410.8 L199.8 407.7 L200.5 404.1 L201.3 401.3 L202 399 L202.8 396.3 L203.5 394.3 L204.2 394.5 L205 393.9 L205.7 398.2 L206.5 405.2 L207.2 408.9 L207.9 413 L208.7 415.9 L209.4 417.2 L210.2 418.2 L210.9 418.4 L211.6 418.8 L212.4 419.2 L213.1 419.3 L213.9 419.4 L214.6 419.6 L215.3 419.6 L216.1 419.7 L216.8 419.8 L217.6 419.8 L218.3 419.9 L219 419.9 L219.8 419.9 L220.5 419.9 L221.3 419.9 L222 419.9 L222.7 419.9 L223.5 419.9 L224.2 419.9 L225 419.9 L225.7 419.9 L226.4 419.9 L227.2 419.9 L227.9 419.9 L228.7 419.9 L229.4 419.9 L230.1 419.9 L230.9 419.9 L231.6 419.9 L232.4 419.9 L233.1 419.9 L233.8 419.9 L234.6 419.9 L235.3 419.9 L236.1 419.9 L236.8 419.9 L237.5 419.9 L238.3 419.9 L239 419.9 L239.8 419.9 L240.5 419.9 L241.2 419.9 L242 419.9 L242.7 419.9 L243.5 419.9 L244.2 419.9 L244.2 419.9 Z" fill="#7eee7e" fill-opacity="0.7"/>
<path d="M192.4 418.5 L193.1 417.9 L193.9 417.8 L194.6 417.3 L195.4 416.3 L196.1 415.8 L196.8 415.8 L197.6 414.6 L198.3 412.7 L199.1 410.8 L199.8 407.7 L200.5 404.1 L201.3 401.3 L202 399 L202.8 396.3 L203.5 394.3 L204.2 394.5 L205 393.9 L205.7 398.2 L206.5 405.2 L207.2 408.9 L207.9 413 L208.7 415.9 L209.4 417.2 L210.2 418.2 L210.9 418.4 L211.6 418.8 L212.4 419.2" fill="none" stroke="#28a428" stroke-width="0.7" stroke-opacity="0.85"/>
<path d="M192.4 419.9 L192.4 419.8 L193.1 419.8 L193.9 419.8 L194.6 419.7 L195.4 419.7 L196.1 419.5 L196.8 419.5 L197.6 419.3 L198.3 419.1 L199.1 418.8 L199.8 418.3 L200.5 417.7 L201.3 416.1 L202 414.1 L202.8 411.9 L203.5 408.9 L204.2 404.9 L205 398.6 L205.7 393.7 L206.5 390.9 L207.2 386.9 L207.9 388.5 L208.7 389.8 L209.4 397.5 L210.2 402.2 L210.9 405.7 L211.6 409.5 L212.4 413.1 L213.1 414.8 L213.9 416.6 L214.6 417.5 L215.3 418 L216.1 418.3 L216.8 418.6 L217.6 418.9 L218.3 419.1 L219 419.2 L219.8 419.3 L220.5 419.5 L221.3 419.6 L222 419.7 L222.7 419.7 L223.5 419.8 L224.2 419.8 L225 419.8 L225.7 419.8 L226.4 419.9 L227.2 419.9 L227.9 419.9 L228.7 419.9 L229.4 419.9 L230.1 419.9 L230.9 419.9 L231.6 419.9 L232.4 419.9 L233.1 419.9 L233.8 419.9 L234.6 419.9 L235.3 419.9 L236.1 419.9 L236.8 419.9 L237.5 419.9 L238.3 419.9 L239 419.9 L239.8 419.9 L240.5 419.9 L241.2 419.9 L242 419.9 L242.7 419.9 L243.5 419.9 L244.2 419.9 L244.2 419.9 Z" fill="#8d94f1" fill-opacity="0.7"/>
<path d="M198.3 419.1 L199.1 418.8 L199.8 418.3 L200.5 417.7 L201.3 416.1 L202 414.1 L202.8 411.9 L203.5 408.9 L204.2 404.9 L205 398.6 L205.7 393.7 L206.5 390.9 L207.2 386.9 L207.9 388.5 L208.7 389.8 L209.4 397.5 L210.2 402.2 L210.9 405.7 L211.6 409.5 L212.4 413.1 L213.1 414.8 L213.9 416.6 L214.6 417.5 L215.3 418 L216.1 418.3 L216.8 418.6 L217.6 418.9 L218.3 419.1" fill="none" stroke="#2c2ca8" stroke-width="0.7" stroke-opacity="0.85"/>
<path d="M192.4 419.9 L192.4 419.9 L193.1 419.8 L193.9 419.8 L194.6 419.7 L195.4 419.7 L196.1 419.6 L196.8 419.5 L197.6 419.3 L198.3 419.1 L199.1 418.9 L199.8 418.4 L200.5 418 L201.3 417.3 L202 415.8 L202.8 413.3 L203.5 410.1 L204.2 407.4 L205 402.6 L205.7 394.1 L206.5 393.7 L207.2 386.2 L207.9 388 L208.7 389.4 L209.4 391.6 L210.2 393.8 L210.9 395.7 L211.6 403.4 L212.4 405.2 L213.1 410 L213.9 412.8 L214.6 414.1 L215.3 416 L216.1 417 L216.8 417.5 L217.6 417.8 L218.3 418.2 L219 418.6 L219.8 418.9 L220.5 418.9 L221.3 419.1 L222 419.2 L222.7 419.3 L223.5 419.5 L224.2 419.5 L225 419.6 L225.7 419.7 L226.4 419.7 L227.2 419.8 L227.9 419.8 L228.7 419.8 L229.4 419.8 L230.1 419.9 L230.9 419.9 L231.6 419.9 L232.4 419.9 L233.1 419.9 L233.8 419.9 L234.6 419.9 L235.3 419.9 L236.1 419.9 L236.8 419.9 L237.5 419.9 L238.3 419.9 L239 419.9 L239.8 419.9 L240.5 419.9 L241.2 419.9 L242 419.9 L242.7 419.9 L243.5 419.9 L244.2 419.9 L244.2 419.9 Z" fill="#f2b2bd" fill-opacity="0.9"/>
<path d="M199.1 418.9 L199.8 418.4 L200.5 418 L201.3 417.3 L202 415.8 L202.8 413.3 L203.5 410.1 L204.2 407.4 L205 402.6 L205.7 394.1 L206.5 393.7 L207.2 386.2 L207.9 388 L208.7 389.4 L209.4 391.6 L210.2 393.8 L210.9 395.7 L211.6 403.4 L212.4 405.2 L213.1 410 L213.9 412.8 L214.6 414.1 L215.3 416 L216.1 417 L216.8 417.5 L217.6 417.8 L218.3 418.2 L219 418.6 L219.8 418.9 L220.5 418.9 L221.3 419.1" fill="none" stroke="#b83c4e" stroke-width="0.7" stroke-opacity="0.85"/>
<line x1="192.4" y1="381" x2="192.4" y2="419.9" stroke="#a8a8a8" stroke-width="0.8"/>
<line x1="192.4" y1="419.9" x2="244.2" y2="419.9" stroke="#b0b0b0" stroke-width="0.8"/>
<line x1="192.4" y1="419.9" x2="192.4" y2="421.1" stroke="#666" stroke-width="0.6"/>
<text x="192.4" y="422.4" font-size="2.5" text-anchor="middle" font-weight="bold" fill="#222" stroke="#222" stroke-width="0.1">0</text>
<line x1="205.35" y1="419.9" x2="205.35" y2="421.1" stroke="#666" stroke-width="0.6"/>
<text x="205.35" y="422.4" font-size="2.5" text-anchor="middle" font-weight="bold" fill="#222" stroke="#222" stroke-width="0.1">10</text>
<line x1="218.3" y1="419.9" x2="218.3" y2="421.1" stroke="#666" stroke-width="0.6"/>
<text x="218.3" y="422.4" font-size="2.5" text-anchor="middle" font-weight="bold" fill="#222" stroke="#222" stroke-width="0.1">10</text>
<line x1="231.25" y1="419.9" x2="231.25" y2="421.1" stroke="#666" stroke-width="0.6"/>
<text x="231.25" y="422.4" font-size="2.5" text-anchor="middle" font-weight="bold" fill="#222" stroke="#222" stroke-width="0.1">10</text>
<line x1="244.2" y1="419.9" x2="244.2" y2="421.1" stroke="#666" stroke-width="0.6"/>
<text x="244.2" y="422.4" font-size="2.5" text-anchor="middle" font-weight="bold" fill="#222" stroke="#222" stroke-width="0.1">10</text>
<line x1="191.2" y1="419.9" x2="192.4" y2="419.9" stroke="#666" stroke-width="0.6"/>
<line x1="191.2" y1="410.17" x2="192.4" y2="410.17" stroke="#666" stroke-width="0.6"/>
<line x1="191.2" y1="400.45" x2="192.4" y2="400.45" stroke="#666" stroke-width="0.6"/>
<line x1="191.2" y1="390.72" x2="192.4" y2="390.72" stroke="#666" stroke-width="0.6"/>
<line x1="191.2" y1="381" x2="192.4" y2="381" stroke="#666" stroke-width="0.6"/>
<rect x="192.4" y="431.2" width="51.8" height="39" fill="#fff" stroke="#c0c0c0" stroke-width="1.0"/>
<path d="M192.4 470.2 L192.4 470 L193.1 470 L193.9 469.9 L194.6 469.9 L195.4 469.8 L196.1 469.7 L196.8 469.5 L197.6 469.3 L198.3 469 L199.1 468.5 L199.8 468.2 L200.5 466.8 L201.3 465.7 L202 464 L202.8 462 L203.5 458.4 L204.2 455.2 L205 451.8 L205.7 451.5 L206.5 449.2 L207.2 448.7 L207.9 449.7 L208.7 450.5 L209.4 454.5 L210.2 455.5 L210.9 460.4 L211.6 463.4 L212.4 465.5 L213.1 466.5 L213.9 467.9 L214.6 468.4 L215.3 468.9 L216.1 469 L216.8 469.2 L217.6 469.5 L218.3 469.6 L219 469.7 L219.8 469.8 L220.5 469.9 L221.3 470 L222 470 L222.7 470.1 L223.5 470.1 L224.2 470.1 L225 470.1 L225.7 470.2 L226.4 470.2 L227.2 470.2 L227.9 470.2 L228.7 470.2 L229.4 470.2 L230.1 470.2 L230.9 470.2 L231.6 470.2 L232.4 470.2 L233.1 470.2 L233.8 470.2 L234.6 470.2 L235.3 470.2 L236.1 470.2 L236.8 470.2 L237.5 470.2 L238.3 470.2 L239 470.2 L239.8 470.2 L240.5 470.2 L241.2 470.2 L242 470.2 L242.7 470.2 L243.5 470.2 L244.2 470.2 L244.2 470.2 Z" fill="#8d94f1" fill-opacity="0.7"/>
<path d="M197.6 469.3 L198.3 469 L199.1 468.5 L199.8 468.2 L200.5 466.8 L201.3 465.7 L202 464 L202.8 462 L203.5 458.4 L204.2 455.2 L205 451.8 L205.7 451.5 L206.5 449.2 L207.2 448.7 L207.9 449.7 L208.7 450.5 L209.4 454.5 L210.2 455.5 L210.9 460.4 L211.6 463.4 L212.4 465.5 L213.1 466.5 L213.9 467.9 L214.6 468.4 L215.3 468.9 L216.1 469 L216.8 469.2" fill="none" stroke="#2c2ca8" stroke-width="0.7" stroke-opacity="0.85"/>
<path d="M192.4 470.2 L192.4 470.1 L193.1 470 L193.9 470 L194.6 469.9 L195.4 469.9 L196.1 469.8 L196.8 469.6 L197.6 469.5 L198.3 469.3 L199.1 469 L199.8 468.5 L200.5 468.1 L201.3 467 L202 465.8 L202.8 463.7 L203.5 462.2 L204.2 457.6 L205 453.9 L205.7 451.7 L206.5 447.5 L207.2 447.7 L207.9 442.6 L208.7 444.2 L209.4 444.6 L210.2 447.3 L210.9 453.2 L211.6 455.7 L212.4 461 L213.1 464 L213.9 465.5 L214.6 466.7 L215.3 467.7 L216.1 468.3 L216.8 468.8 L217.6 469 L218.3 469.3 L219 469.5 L219.8 469.6 L220.5 469.7 L221.3 469.8 L222 469.9 L222.7 470 L223.5 470 L224.2 470.1 L225 470.1 L225.7 470.1 L226.4 470.2 L227.2 470.2 L227.9 470.2 L228.7 470.2 L229.4 470.2 L230.1 470.2 L230.9 470.2 L231.6 470.2 L232.4 470.2 L233.1 470.2 L233.8 470.2 L234.6 470.2 L235.3 470.2 L236.1 470.2 L236.8 470.2 L237.5 470.2 L238.3 470.2 L239 470.2 L239.8 470.2 L240.5 470.2 L241.2 470.2 L242 470.2 L242.7 470.2 L243.5 470.2 L244.2 470.2 L244.2 470.2 Z" fill="#7eee7e" fill-opacity="0.7"/>
<path d="M198.3 469.3 L199.1 469 L199.8 468.5 L200.5 468.1 L201.3 467 L202 465.8 L202.8 463.7 L203.5 462.2 L204.2 457.6 L205 453.9 L205.7 451.7 L206.5 447.5 L207.2 447.7 L207.9 442.6 L208.7 444.2 L209.4 444.6 L210.2 447.3 L210.9 453.2 L211.6 455.7 L212.4 461 L213.1 464 L213.9 465.5 L214.6 466.7 L215.3 467.7 L216.1 468.3 L216.8 468.8 L217.6 469 L218.3 469.3" fill="none" stroke="#28a428" stroke-width="0.7" stroke-opacity="0.85"/>
<path d="M192.4 470.2 L192.4 470.2 L193.1 470.2 L193.9 470.2 L194.6 470.2 L195.4 470.2 L196.1 470.1 L196.8 470.1 L197.6 470.1 L198.3 470 L199.1 469.9 L199.8 469.8 L200.5 469.7 L201.3 469.5 L202 469.3 L202.8 469 L203.5 468.4 L204.2 467.7 L205 466.4 L205.7 464.3 L206.5 461 L207.2 457.7 L207.9 451.8 L208.7 446.4 L209.4 438.2 L210.2 437.1 L210.9 432.1 L211.6 436.2 L212.4 441 L213.1 443.4 L213.9 450.8 L214.6 455.7 L215.3 460.1 L216.1 462.2 L216.8 464.5 L217.6 466.6 L218.3 467.6 L219 468.2 L219.8 468.6 L220.5 468.8 L221.3 469.1 L222 469.4 L222.7 469.4 L223.5 469.6 L224.2 469.8 L225 469.8 L225.7 469.9 L226.4 470 L227.2 470.1 L227.9 470.1 L228.7 470.1 L229.4 470.1 L230.1 470.2 L230.9 470.2 L231.6 470.2 L232.4 470.2 L233.1 470.2 L233.8 470.2 L234.6 470.2 L235.3 470.2 L236.1 470.2 L236.8 470.2 L237.5 470.2 L238.3 470.2 L239 470.2 L239.8 470.2 L240.5 470.2 L241.2 470.2 L242 470.2 L242.7 470.2 L243.5 470.2 L244.2 470.2 L244.2 470.2 Z" fill="#f2b2bd" fill-opacity="0.9"/>
<path d="M202 469.3 L202.8 469 L203.5 468.4 L204.2 467.7 L205 466.4 L205.7 464.3 L206.5 461 L207.2 457.7 L207.9 451.8 L208.7 446.4 L209.4 438.2 L210.2 437.1 L210.9 432.1 L211.6 436.2 L212.4 441 L213.1 443.4 L213.9 450.8 L214.6 455.7 L215.3 460.1 L216.1 462.2 L216.8 464.5 L217.6 466.6 L218.3 467.6 L219 468.2 L219.8 468.6 L220.5 468.8 L221.3 469.1 L222 469.4" fill="none" stroke="#b83c4e" stroke-width="0.7" stroke-opacity="0.85"/>
<line x1="192.4" y1="431.2" x2="192.4" y2="470.2" stroke="#a8a8a8" stroke-width="0.8"/>
<line x1="192.4" y1="470.2" x2="244.2" y2="470.2" stroke="#b0b0b0" stroke-width="0.8"/>
<line x1="192.4" y1="470.2" x2="192.4" y2="471.4" stroke="#666" stroke-width="0.6"/>
<text x="192.4" y="472.7" font-size="2.5" text-anchor="middle" font-weight="bold" fill="#222" stroke="#222" stroke-width="0.1">0</text>
<line x1="205.35" y1="470.2" x2="205.35" y2="471.4" stroke="#666" stroke-width="0.6"/>
<text x="205.35" y="472.7" font-size="2.5" text-anchor="middle" font-weight="bold" fill="#222" stroke="#222" stroke-width="0.1">10</text>
<line x1="218.3" y1="470.2" x2="218.3" y2="471.4" stroke="#666" stroke-width="0.6"/>
<text x="218.3" y="472.7" font-size="2.5" text-anchor="middle" font-weight="bold" fill="#222" stroke="#222" stroke-width="0.1">10</text>
<line x1="231.25" y1="470.2" x2="231.25" y2="471.4" stroke="#666" stroke-width="0.6"/>
<text x="231.25" y="472.7" font-size="2.5" text-anchor="middle" font-weight="bold" fill="#222" stroke="#222" stroke-width="0.1">10</text>
<line x1="244.2" y1="470.2" x2="244.2" y2="471.4" stroke="#666" stroke-width="0.6"/>
<text x="244.2" y="472.7" font-size="2.5" text-anchor="middle" font-weight="bold" fill="#222" stroke="#222" stroke-width="0.1">10</text>
<line x1="191.2" y1="470.2" x2="192.4" y2="470.2" stroke="#666" stroke-width="0.6"/>
<line x1="191.2" y1="460.45" x2="192.4" y2="460.45" stroke="#666" stroke-width="0.6"/>
<line x1="191.2" y1="450.7" x2="192.4" y2="450.7" stroke="#666" stroke-width="0.6"/>
<line x1="191.2" y1="440.95" x2="192.4" y2="440.95" stroke="#666" stroke-width="0.6"/>
<line x1="191.2" y1="431.2" x2="192.4" y2="431.2" stroke="#666" stroke-width="0.6"/>
<rect x="251.5" y="381" width="51.8" height="38.9" fill="#fff" stroke="#c0c0c0" stroke-width="1.0"/>
<path d="M251.5 419.9 L251.5 419.7 L252.2 419.7 L253 419.6 L253.7 419.5 L254.5 419.4 L255.2 419.3 L255.9 419.1 L256.7 418.8 L257.4 418.5 L258.2 418.1 L258.9 417.5 L259.6 416.5 L260.4 414.9 L261.1 412.6 L261.9 410.7 L262.6 407.2 L263.3 403.4 L264.1 399.3 L264.8 392.6 L265.6 391 L266.3 390.4 L267 389.2 L267.8 387.1 L268.5 393.7 L269.3 394.8 L270 402.1 L270.7 405.6 L271.5 409.6 L272.2 411.2 L273 414.5 L273.7 416 L274.4 417.1 L275.2 417.7 L275.9 418 L276.7 418.4 L277.4 418.6 L278.1 418.8 L278.9 419.1 L279.6 419.2 L280.4 419.4 L281.1 419.4 L281.8 419.5 L282.6 419.6 L283.3 419.7 L284.1 419.7 L284.8 419.8 L285.5 419.8 L286.3 419.8 L287 419.8 L287.8 419.9 L288.5 419.9 L289.2 419.9 L290 419.9 L290.7 419.9 L291.5 419.9 L292.2 419.9 L292.9 419.9 L293.7 419.9 L294.4 419.9 L295.2 419.9 L295.9 419.9 L296.6 419.9 L297.4 419.9 L298.1 419.9 L298.9 419.9 L299.6 419.9 L300.3 419.9 L301.1 419.9 L301.8 419.9 L302.6 419.9 L303.3 419.9 L303.3 419.9 Z" fill="#8d94f1" fill-opacity="0.7"/>
<path d="M255.9 419.1 L256.7 418.8 L257.4 418.5 L258.2 418.1 L258.9 417.5 L259.6 416.5 L260.4 414.9 L261.1 412.6 L261.9 410.7 L262.6 407.2 L263.3 403.4 L264.1 399.3 L264.8 392.6 L265.6 391 L266.3 390.4 L267 389.2 L267.8 387.1 L268.5 393.7 L269.3 394.8 L270 402.1 L270.7 405.6 L271.5 409.6 L272.2 411.2 L273 414.5 L273.7 416 L274.4 417.1 L275.2 417.7 L275.9 418 L276.7 418.4 L277.4 418.6 L278.1 418.8 L278.9 419.1" fill="none" stroke="#2c2ca8" stroke-width="0.7" stroke-opacity="0.85"/>
<path d="M251.5 419.9 L251.5 419.7 L252.2 419.7 L253 419.6 L253.7 419.5 L254.5 419.4 L255.2 419.2 L255.9 419.2 L256.7 418.9 L257.4 418.5 L258.2 418.3 L258.9 417.4 L259.6 416.2 L260.4 414.9 L261.1 413 L261.9 409.5 L262.6 406.6 L263.3 403.5 L264.1 399.2 L264.8 392.5 L265.6 389.2 L266.3 386.4 L267 387.8 L267.8 391.3 L268.5 393.6 L269.3 396.2 L270 399.4 L270.7 406.1 L271.5 407.9 L272.2 411.3 L273 414.1 L273.7 416.2 L274.4 416.7 L275.2 417.6 L275.9 418 L276.7 418.4 L277.4 418.6 L278.1 418.9 L278.9 419 L279.6 419.1 L280.4 419.3 L281.1 419.4 L281.8 419.6 L282.6 419.6 L283.3 419.7 L284.1 419.7 L284.8 419.8 L285.5 419.8 L286.3 419.8 L287 419.8 L287.8 419.9 L288.5 419.9 L289.2 419.9 L290 419.9 L290.7 419.9 L291.5 419.9 L292.2 419.9 L292.9 419.9 L293.7 419.9 L294.4 419.9 L295.2 419.9 L295.9 419.9 L296.6 419.9 L297.4 419.9 L298.1 419.9 L298.9 419.9 L299.6 419.9 L300.3 419.9 L301.1 419.9 L301.8 419.9 L302.6 419.9 L303.3 419.9 L303.3 419.9 Z" fill="#7eee7e" fill-opacity="0.7"/>
<path d="M255.9 419.2 L256.7 418.9 L257.4 418.5 L258.2 418.3 L258.9 417.4 L259.6 416.2 L260.4 414.9 L261.1 413 L261.9 409.5 L262.6 406.6 L263.3 403.5 L264.1 399.2 L264.8 392.5 L265.6 389.2 L266.3 386.4 L267 387.8 L267.8 391.3 L268.5 393.6 L269.3 396.2 L270 399.4 L270.7 406.1 L271.5 407.9 L272.2 411.3 L273 414.1 L273.7 416.2 L274.4 416.7 L275.2 417.6 L275.9 418 L276.7 418.4 L277.4 418.6 L278.1 418.9 L278.9 419" fill="none" stroke="#28a428" stroke-width="0.7" stroke-opacity="0.85"/>
<path d="M251.5 419.9 L251.5 419 L252.2 418.6 L253 418.3 L253.7 417.8 L254.5 417.9 L255.2 417.8 L255.9 418.1 L256.7 418 L257.4 417.9 L258.2 417.9 L258.9 417.2 L259.6 416.1 L260.4 415.2 L261.1 412.7 L261.9 410.7 L262.6 407.2 L263.3 401.5 L264.1 396.9 L264.8 392.2 L265.6 391.7 L266.3 388.5 L267 386.2 L267.8 387.5 L268.5 392 L269.3 393.9 L270 400.6 L270.7 403.2 L271.5 408.6 L272.2 412.4 L273 413.8 L273.7 416 L274.4 416.8 L275.2 417.8 L275.9 417.9 L276.7 418.4 L277.4 418.6 L278.1 419 L278.9 419 L279.6 419.2 L280.4 419.4 L281.1 419.4 L281.8 419.6 L282.6 419.6 L283.3 419.7 L284.1 419.7 L284.8 419.8 L285.5 419.8 L286.3 419.8 L287 419.8 L287.8 419.9 L288.5 419.9 L289.2 419.9 L290 419.9 L290.7 419.9 L291.5 419.9 L292.2 419.9 L292.9 419.9 L293.7 419.9 L294.4 419.9 L295.2 419.9 L295.9 419.9 L296.6 419.9 L297.4 419.9 L298.1 419.9 L298.9 419.9 L299.6 419.9 L300.3 419.9 L301.1 419.9 L301.8 419.9 L302.6 419.9 L303.3 419.9 L303.3 419.9 Z" fill="#f2b2bd" fill-opacity="0.9"/>
<path d="M251.5 419 L252.2 418.6 L253 418.3 L253.7 417.8 L254.5 417.9 L255.2 417.8 L255.9 418.1 L256.7 418 L257.4 417.9 L258.2 417.9 L258.9 417.2 L259.6 416.1 L260.4 415.2 L261.1 412.7 L261.9 410.7 L262.6 407.2 L263.3 401.5 L264.1 396.9 L264.8 392.2 L265.6 391.7 L266.3 388.5 L267 386.2 L267.8 387.5 L268.5 392 L269.3 393.9 L270 400.6 L270.7 403.2 L271.5 408.6 L272.2 412.4 L273 413.8 L273.7 416 L274.4 416.8 L275.2 417.8 L275.9 417.9 L276.7 418.4 L277.4 418.6 L278.1 419" fill="none" stroke="#b83c4e" stroke-width="0.7" stroke-opacity="0.85"/>
<line x1="251.5" y1="381" x2="251.5" y2="419.9" stroke="#a8a8a8" stroke-width="0.8"/>
<line x1="251.5" y1="419.9" x2="303.3" y2="419.9" stroke="#b0b0b0" stroke-width="0.8"/>
<line x1="251.5" y1="419.9" x2="251.5" y2="421.1" stroke="#666" stroke-width="0.6"/>
<text x="251.5" y="422.4" font-size="2.5" text-anchor="middle" font-weight="bold" fill="#222" stroke="#222" stroke-width="0.1">0</text>
<line x1="264.45" y1="419.9" x2="264.45" y2="421.1" stroke="#666" stroke-width="0.6"/>
<text x="264.45" y="422.4" font-size="2.5" text-anchor="middle" font-weight="bold" fill="#222" stroke="#222" stroke-width="0.1">10</text>
<line x1="277.4" y1="419.9" x2="277.4" y2="421.1" stroke="#666" stroke-width="0.6"/>
<text x="277.4" y="422.4" font-size="2.5" text-anchor="middle" font-weight="bold" fill="#222" stroke="#222" stroke-width="0.1">10</text>
<line x1="290.35" y1="419.9" x2="290.35" y2="421.1" stroke="#666" stroke-width="0.6"/>
<text x="290.35" y="422.4" font-size="2.5" text-anchor="middle" font-weight="bold" fill="#222" stroke="#222" stroke-width="0.1">10</text>
<line x1="303.3" y1="419.9" x2="303.3" y2="421.1" stroke="#666" stroke-width="0.6"/>
<text x="303.3" y="422.4" font-size="2.5" text-anchor="middle" font-weight="bold" fill="#222" stroke="#222" stroke-width="0.1">10</text>
<line x1="250.3" y1="419.9" x2="251.5" y2="419.9" stroke="#666" stroke-width="0.6"/>
<line x1="250.3" y1="410.17" x2="251.5" y2="410.17" stroke="#666" stroke-width="0.6"/>
<line x1="250.3" y1="400.45" x2="251.5" y2="400.45" stroke="#666" stroke-width="0.6"/>
<line x1="250.3" y1="390.72" x2="251.5" y2="390.72" stroke="#666" stroke-width="0.6"/>
<line x1="250.3" y1="381" x2="251.5" y2="381" stroke="#666" stroke-width="0.6"/>
<rect x="251.5" y="431.2" width="51.8" height="39" fill="#fff" stroke="#c0c0c0" stroke-width="1.0"/>
<path d="M251.5 470.2 L251.5 470.2 L252.2 470.2 L253 470.2 L253.7 470.2 L254.5 470.2 L255.2 470.2 L255.9 470.2 L256.7 470.2 L257.4 470.2 L258.2 470.2 L258.9 470.1 L259.6 470.1 L260.4 470.1 L261.1 470 L261.9 470 L262.6 469.9 L263.3 469.8 L264.1 469.6 L264.8 469.5 L265.6 469.2 L266.3 468.6 L267 467.9 L267.8 466.8 L268.5 465 L269.3 462.3 L270 458.8 L270.7 455.6 L271.5 453.7 L272.2 448.3 L273 449 L273.7 446.8 L274.4 449.5 L275.2 456.3 L275.9 459.3 L276.7 462.5 L277.4 465.9 L278.1 467.4 L278.9 468.4 L279.6 469 L280.4 469.3 L281.1 469.5 L281.8 469.6 L282.6 469.7 L283.3 469.9 L284.1 469.9 L284.8 470 L285.5 470.1 L286.3 470.1 L287 470.1 L287.8 470.2 L288.5 470.2 L289.2 470.2 L290 470.2 L290.7 470.2 L291.5 470.2 L292.2 470.2 L292.9 470.2 L293.7 470.2 L294.4 470.2 L295.2 470.2 L295.9 470.2 L296.6 470.2 L297.4 470.2 L298.1 470.2 L298.9 470.2 L299.6 470.2 L300.3 470.2 L301.1 470.2 L301.8 470.2 L302.6 470.2 L303.3 470.2 L303.3 470.2 Z" fill="#8d94f1" fill-opacity="0.7"/>
<path d="M264.8 469.5 L265.6 469.2 L266.3 468.6 L267 467.9 L267.8 466.8 L268.5 465 L269.3 462.3 L270 458.8 L270.7 455.6 L271.5 453.7 L272.2 448.3 L273 449 L273.7 446.8 L274.4 449.5 L275.2 456.3 L275.9 459.3 L276.7 462.5 L277.4 465.9 L278.1 467.4 L278.9 468.4 L279.6 469 L280.4 469.3" fill="none" stroke="#2c2ca8" stroke-width="0.7" stroke-opacity="0.85"/>
<path d="M251.5 470.2 L251.5 469.5 L252.2 469.3 L253 469.1 L253.7 468.8 L254.5 468.9 L255.2 468.7 L255.9 468.8 L256.7 468.6 L257.4 468.5 L258.2 468.7 L258.9 468.7 L259.6 469.1 L260.4 469.1 L261.1 469.3 L261.9 469.3 L262.6 469.6 L263.3 469.5 L264.1 469.7 L264.8 469.6 L265.6 469.6 L266.3 469.5 L267 469.2 L267.8 468.9 L268.5 468.1 L269.3 467.1 L270 463.8 L270.7 458.6 L271.5 454.2 L272.2 443.8 L273 439.7 L273.7 437.6 L274.4 438.1 L275.2 442.5 L275.9 449.5 L276.7 457 L277.4 462.4 L278.1 465.9 L278.9 467.4 L279.6 468.5 L280.4 468.8 L281.1 469.2 L281.8 469.5 L282.6 469.6 L283.3 469.8 L284.1 470 L284.8 470 L285.5 470.1 L286.3 470.1 L287 470.2 L287.8 470.2 L288.5 470.2 L289.2 470.2 L290 470.2 L290.7 470.2 L291.5 470.2 L292.2 470.2 L292.9 470.2 L293.7 470.2 L294.4 470.2 L295.2 470.2 L295.9 470.2 L296.6 470.2 L297.4 470.2 L298.1 470.2 L298.9 470.2 L299.6 470.2 L300.3 470.2 L301.1 470.2 L301.8 470.2 L302.6 470.2 L303.3 470.2 L303.3 470.2 Z" fill="#7eee7e" fill-opacity="0.7"/>
<path d="M252.2 469.3 L253 469.1 L253.7 468.8 L254.5 468.9 L255.2 468.7 L255.9 468.8 L256.7 468.6 L257.4 468.5 L258.2 468.7 L258.9 468.7 L259.6 469.1 L260.4 469.1 L261.1 469.3 L261.9 469.3 L262.6 469.6 L263.3 469.5 L264.1 469.7 L264.8 469.6 L265.6 469.6 L266.3 469.5 L267 469.2 L267.8 468.9 L268.5 468.1 L269.3 467.1 L270 463.8 L270.7 458.6 L271.5 454.2 L272.2 443.8 L273 439.7 L273.7 437.6 L274.4 438.1 L275.2 442.5 L275.9 449.5 L276.7 457 L277.4 462.4 L278.1 465.9 L278.9 467.4 L279.6 468.5 L280.4 468.8 L281.1 469.2 L281.8 469.5" fill="none" stroke="#28a428" stroke-width="0.7" stroke-opacity="0.85"/>
<path d="M251.5 470.2 L251.5 470.2 L252.2 470.2 L253 470.2 L253.7 470.2 L254.5 470.2 L255.2 470.2 L255.9 470.2 L256.7 470.2 L257.4 470.2 L258.2 470.2 L258.9 470.1 L259.6 470.1 L260.4 470.1 L261.1 470 L261.9 470 L262.6 469.9 L263.3 469.7 L264.1 469.6 L264.8 469.2 L265.6 468.9 L266.3 468.5 L267 467.7 L267.8 466.6 L268.5 464.7 L269.3 460.8 L270 457.6 L270.7 455.2 L271.5 449.8 L272.2 449.3 L273 445.6 L273.7 446.8 L274.4 450.6 L275.2 452.6 L275.9 457.6 L276.7 462.2 L277.4 465.5 L278.1 466.9 L278.9 468.2 L279.6 468.7 L280.4 469.2 L281.1 469.3 L281.8 469.6 L282.6 469.7 L283.3 469.8 L284.1 469.9 L284.8 470 L285.5 470.1 L286.3 470.1 L287 470.1 L287.8 470.2 L288.5 470.2 L289.2 470.2 L290 470.2 L290.7 470.2 L291.5 470.2 L292.2 470.2 L292.9 470.2 L293.7 470.2 L294.4 470.2 L295.2 470.2 L295.9 470.2 L296.6 470.2 L297.4 470.2 L298.1 470.2 L298.9 470.2 L299.6 470.2 L300.3 470.2 L301.1 470.2 L301.8 470.2 L302.6 470.2 L303.3 470.2 L303.3 470.2 Z" fill="#f2b2bd" fill-opacity="0.9"/>
<path d="M264.8 469.2 L265.6 468.9 L266.3 468.5 L267 467.7 L267.8 466.6 L268.5 464.7 L269.3 460.8 L270 457.6 L270.7 455.2 L271.5 449.8 L272.2 449.3 L273 445.6 L273.7 446.8 L274.4 450.6 L275.2 452.6 L275.9 457.6 L276.7 462.2 L277.4 465.5 L278.1 466.9 L278.9 468.2 L279.6 468.7 L280.4 469.2 L281.1 469.3" fill="none" stroke="#b83c4e" stroke-width="0.7" stroke-opacity="0.85"/>
<line x1="251.5" y1="431.2" x2="251.5" y2="470.2" stroke="#a8a8a8" stroke-width="0.8"/>
<line x1="251.5" y1="470.2" x2="303.3" y2="470.2" stroke="#b0b0b0" stroke-width="0.8"/>
<line x1="251.5" y1="470.2" x2="251.5" y2="471.4" stroke="#666" stroke-width="0.6"/>
<text x="251.5" y="472.7" font-size="2.5" text-anchor="middle" font-weight="bold" fill="#222" stroke="#222" stroke-width="0.1">0</text>
<line x1="264.45" y1="470.2" x2="264.45" y2="471.4" stroke="#666" stroke-width="0.6"/>
<text x="264.45" y="472.7" font-size="2.5" text-anchor="middle" font-weight="bold" fill="#222" stroke="#222" stroke-width="0.1">10</text>
<line x1="277.4" y1="470.2" x2="277.4" y2="471.4" stroke="#666" stroke-width="0.6"/>
<text x="277.4" y="472.7" font-size="2.5" text-anchor="middle" font-weight="bold" fill="#222" stroke="#222" stroke-width="0.1">10</text>
<line x1="290.35" y1="470.2" x2="290.35" y2="471.4" stroke="#666" stroke-width="0.6"/>
<text x="290.35" y="472.7" font-size="2.5" text-anchor="middle" font-weight="bold" fill="#222" stroke="#222" stroke-width="0.1">10</text>
<line x1="303.3" y1="470.2" x2="303.3" y2="471.4" stroke="#666" stroke-width="0.6"/>
<text x="303.3" y="472.7" font-size="2.5" text-anchor="middle" font-weight="bold" fill="#222" stroke="#222" stroke-width="0.1">10</text>
<line x1="250.3" y1="470.2" x2="251.5" y2="470.2" stroke="#666" stroke-width="0.6"/>
<line x1="250.3" y1="460.45" x2="251.5" y2="460.45" stroke="#666" stroke-width="0.6"/>
<line x1="250.3" y1="450.7" x2="251.5" y2="450.7" stroke="#666" stroke-width="0.6"/>
<line x1="250.3" y1="440.95" x2="251.5" y2="440.95" stroke="#666" stroke-width="0.6"/>
<line x1="250.3" y1="431.2" x2="251.5" y2="431.2" stroke="#666" stroke-width="0.6"/>
<text x="6.9" y="401.6" font-size="8" text-anchor="middle" font-weight="bold" transform="rotate(-90 6.9 401.6)">tTA</text>
<line x1="9.05" y1="383.8" x2="9.05" y2="419" stroke="#000" stroke-width="1.1"/>
<text x="6.9" y="450.4" font-size="8" text-anchor="middle" font-weight="bold" transform="rotate(-90 6.9 450.4)">Tat</text>
<line x1="9.05" y1="433.2" x2="9.05" y2="468" stroke="#000" stroke-width="1.1"/>
</svg>
</body></html>
